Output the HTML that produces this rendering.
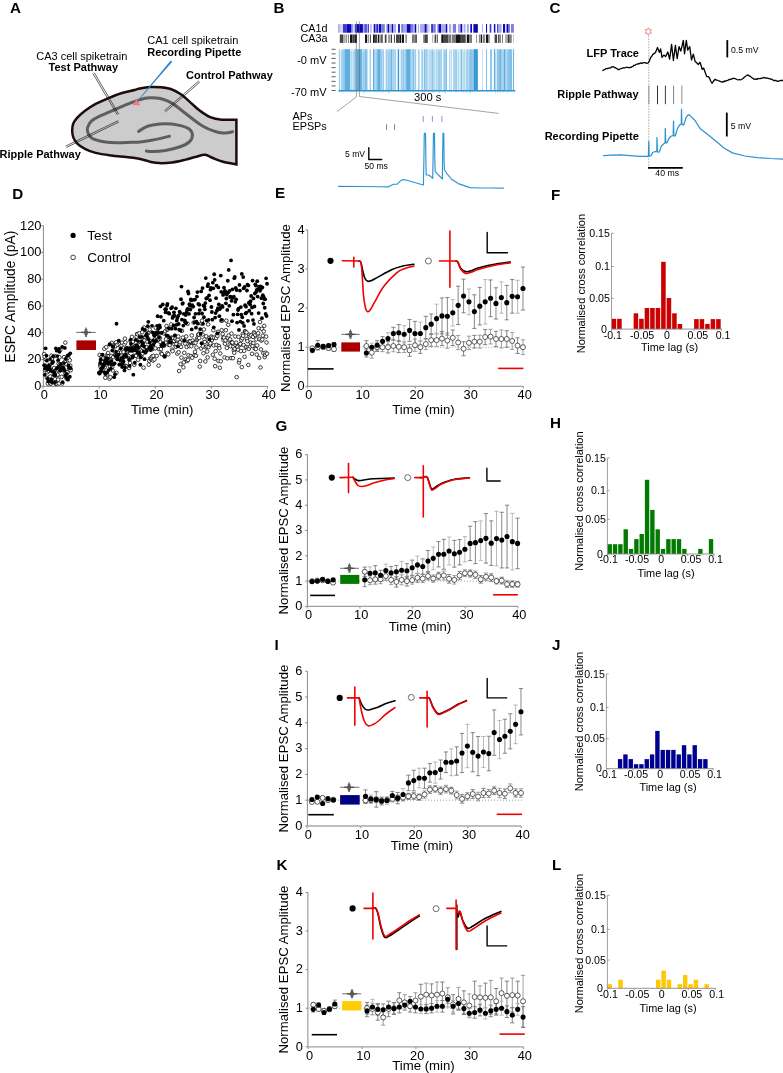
<!DOCTYPE html>
<html><head><meta charset="utf-8"><title>Figure</title>
<style>
html,body{margin:0;padding:0;background:#fff;}
svg{display:block;font-family:"Liberation Sans", sans-serif;-webkit-font-smoothing:antialiased;}
text{-webkit-font-smoothing:antialiased;}
svg{will-change:transform;}
</style></head>
<body>
<svg width="783" height="1073" viewBox="0 0 783 1073">
<rect width="783" height="1073" fill="#fff"/>
<text x="9.9" y="13.1" font-size="15.2" text-anchor="start" font-weight="bold" fill="#000">A</text>
<text x="273.6" y="13.0" font-size="15.2" text-anchor="start" font-weight="bold" fill="#000">B</text>
<text x="549.6" y="13.4" font-size="15.2" text-anchor="start" font-weight="bold" fill="#000">C</text>
<text x="12.2" y="199.4" font-size="15.2" text-anchor="start" font-weight="bold" fill="#000">D</text>
<text x="274.9" y="197.7" font-size="15.2" text-anchor="start" font-weight="bold" fill="#000">E</text>
<text x="551.1" y="199.6" font-size="15.2" text-anchor="start" font-weight="bold" fill="#000">F</text>
<text x="275.5" y="430.5" font-size="15.2" text-anchor="start" font-weight="bold" fill="#000">G</text>
<text x="549.9" y="427.5" font-size="15.2" text-anchor="start" font-weight="bold" fill="#000">H</text>
<text x="274.5" y="649.7" font-size="15.2" text-anchor="start" font-weight="bold" fill="#000">I</text>
<text x="551.9" y="650.4" font-size="15.2" text-anchor="start" font-weight="bold" fill="#000">J</text>
<text x="276.5" y="869.6" font-size="15.2" text-anchor="start" font-weight="bold" fill="#000">K</text>
<text x="552.0" y="869.6" font-size="15.2" text-anchor="start" font-weight="bold" fill="#000">L</text>
<path d="M236.4,119.7 C233.9,119.7 226.1,120.1 221.7,119.7 C217.3,119.3 213.8,118.6 210.2,117.1 C206.6,115.6 203.2,113.1 200.0,110.8 C196.8,108.5 194.3,105.9 191.1,103.1 C187.9,100.3 184.3,96.5 180.9,94.2 C177.5,91.9 174.1,90.2 170.7,89.0 C167.3,87.8 163.8,87.5 160.4,87.2 C157.0,86.9 153.6,86.8 150.2,87.0 C146.8,87.2 142.6,87.9 140.0,88.4 C137.4,88.9 137.6,89.2 134.5,90.0 C131.4,90.8 125.6,91.8 121.2,93.2 C116.8,94.6 112.2,96.5 107.9,98.3 C103.7,100.1 99.5,101.9 95.7,103.9 C92.0,105.9 88.5,108.2 85.4,110.5 C82.3,112.8 79.3,115.5 77.3,117.7 C75.3,119.9 74.0,121.7 73.2,123.8 C72.4,125.9 72.2,128.3 72.2,130.5 C72.2,132.7 72.4,134.9 73.2,137.1 C74.0,139.3 75.3,141.6 77.3,143.6 C79.3,145.6 82.3,147.6 85.4,149.2 C88.5,150.8 91.4,151.8 95.7,152.9 C100.0,154.0 105.9,154.8 111.0,155.5 C116.1,156.2 122.0,156.5 126.3,157.0 C130.6,157.5 133.4,157.8 136.5,158.3 C139.6,158.8 142.7,159.6 145.0,160.2 C147.3,160.8 147.8,161.3 150.2,161.8 C152.6,162.3 155.6,163.0 159.2,163.1 C162.8,163.2 167.7,163.0 171.9,162.5 C176.2,162.0 180.6,160.9 184.7,159.9 C188.8,158.9 192.8,157.5 196.2,156.7 C199.6,155.8 202.3,154.6 205.1,154.8 C207.9,155.0 209.8,156.8 212.8,158.0 C215.8,159.2 219.1,160.7 223.0,161.8 C226.9,162.9 234.2,164.0 236.4,164.4 Z" fill="#cccccc" stroke="#1e0c0c" stroke-width="2.5" stroke-linejoin="miter"/>
<path d="M232.6,131.8 C231.0,132.0 226.1,133.2 223.0,133.1 C219.9,133.0 217.3,132.3 214.1,131.2 C210.9,130.1 207.3,128.6 203.9,126.7 C200.5,124.8 197.2,122.4 193.6,119.7 C190.0,117.0 185.7,113.6 182.1,110.8 C178.5,108.0 175.1,105.0 171.9,103.1 C168.7,101.2 166.2,100.1 163.0,99.2 C159.8,98.3 155.8,98.0 152.8,97.8 C149.8,97.6 148.6,97.4 145.0,98.2 C141.4,99.0 136.2,100.8 131.4,102.6 C126.6,104.4 121.2,106.8 116.1,109.0 C111.0,111.2 104.9,113.7 100.8,115.7 C96.7,117.7 93.8,118.8 91.6,120.8 C89.4,122.8 88.1,125.9 87.5,127.9 C86.9,129.9 87.3,131.3 88.0,133.0 C88.7,134.7 89.5,136.7 91.6,138.1 C93.7,139.5 96.7,140.4 100.8,141.2 C104.9,142.0 111.0,142.5 116.1,142.7 C121.2,142.9 127.4,142.3 131.4,142.2 C135.4,142.1 136.4,142.3 140.0,142.0 C143.6,141.7 147.9,141.0 152.8,140.1 C157.7,139.2 166.6,136.9 169.4,136.3" stroke="#5e5e5e" stroke-width="3.0" fill="none" stroke-linejoin="round" stroke-linecap="round"/>
<path d="M138.6,131.5 C139.7,130.8 142.6,128.4 145.0,127.3 C147.4,126.2 149.4,125.7 152.8,125.1 C156.2,124.5 161.2,123.8 165.5,123.8 C169.8,123.8 174.5,124.3 178.3,125.1 C182.1,125.9 186.2,127.0 188.5,128.6 C190.8,130.2 192.2,132.3 192.4,134.4 C192.6,136.5 191.7,139.4 189.8,141.4 C187.9,143.4 185.0,145.0 180.9,146.5 C176.8,148.0 170.2,149.6 165.5,150.4 C160.8,151.2 156.0,151.5 152.8,151.6 C149.6,151.7 147.5,151.1 146.4,151.0" stroke="#5e5e5e" stroke-width="3.0" fill="none" stroke-linejoin="round" stroke-linecap="round"/>
<line x1="92.81" y1="73.41" x2="117.41" y2="115.01" stroke="#111" stroke-width="0.65"/>
<line x1="94.19" y1="72.59" x2="118.79" y2="114.19" stroke="#111" stroke-width="0.65"/>
<line x1="66.35" y1="147.52" x2="118.95" y2="122.02" stroke="#111" stroke-width="0.65"/>
<line x1="65.65" y1="146.08" x2="118.25" y2="120.58" stroke="#111" stroke-width="0.65"/>
<line x1="198.88" y1="80.80" x2="164.38" y2="110.80" stroke="#111" stroke-width="0.65"/>
<line x1="199.92" y1="82.00" x2="165.42" y2="112.00" stroke="#111" stroke-width="0.65"/>
<polygon points="170.74,60.45 172.26,61.75 138.03,100.99 137.57,100.61" fill="#2a86d0"/>
<polygon points="133.0,105.0 139.8,105.0 136.5,99.2" fill="#f07b84" stroke="#e8707a" stroke-width="0.4"/>
<text x="36.2" y="59.5" font-size="11" text-anchor="start" fill="#000">CA3 cell spiketrain</text>
<text x="48.6" y="71.0" font-size="11" text-anchor="start" font-weight="bold" fill="#000">Test Pathway</text>
<text x="147.2" y="44.0" font-size="11" text-anchor="start" fill="#000">CA1 cell spiketrain</text>
<text x="147.2" y="56.2" font-size="11" text-anchor="start" font-weight="bold" fill="#000">Recording Pipette</text>
<text x="186.0" y="79.0" font-size="11" text-anchor="start" font-weight="bold" fill="#000">Control Pathway</text>
<text x="-0.5" y="158.0" font-size="11" text-anchor="start" font-weight="bold" fill="#000">Ripple Pathway</text>
<text x="327.5" y="31.6" font-size="10.8" text-anchor="end" fill="#000">CA1d</text>
<text x="327.5" y="41.9" font-size="10.8" text-anchor="end" fill="#000">CA3a</text>
<rect x="338.10" y="24.10" width="1.75" height="8.60" fill="#aaaaec"/>
<rect x="339.80" y="24.10" width="3.25" height="8.60" fill="#d4d4f6"/>
<rect x="343.00" y="24.10" width="3.55" height="8.60" fill="#3a3ac8"/>
<rect x="346.50" y="24.10" width="4.55" height="8.60" fill="#0808b8"/>
<rect x="351.00" y="24.10" width="1.85" height="8.60" fill="#7c7ce0"/>
<rect x="352.80" y="24.10" width="2.15" height="8.60" fill="#d4d4f6"/>
<rect x="354.90" y="24.10" width="2.15" height="8.60" fill="#3a3ac8"/>
<rect x="357.00" y="24.10" width="5.95" height="8.60" fill="#0808b8"/>
<rect x="362.90" y="24.10" width="1.15" height="8.60" fill="#aaaaec"/>
<rect x="364.00" y="24.10" width="1.45" height="8.60" fill="#7c7ce0"/>
<rect x="365.40" y="24.10" width="1.35" height="8.60" fill="#0808b8"/>
<rect x="366.70" y="24.10" width="1.45" height="8.60" fill="#aaaaec"/>
<rect x="368.10" y="24.10" width="0.75" height="8.60" fill="#0808b8"/>
<rect x="370.20" y="24.10" width="1.45" height="8.60" fill="#aaaaec"/>
<rect x="373.70" y="24.10" width="1.45" height="8.60" fill="#0808b8"/>
<rect x="375.10" y="24.10" width="1.45" height="8.60" fill="#7c7ce0"/>
<rect x="376.50" y="24.10" width="1.45" height="8.60" fill="#0808b8"/>
<rect x="377.90" y="24.10" width="1.15" height="8.60" fill="#aaaaec"/>
<rect x="379.00" y="24.10" width="2.15" height="8.60" fill="#0808b8"/>
<rect x="381.10" y="24.10" width="3.75" height="8.60" fill="#7c7ce0"/>
<rect x="386.20" y="24.10" width="1.45" height="8.60" fill="#aaaaec"/>
<rect x="387.60" y="24.10" width="1.45" height="8.60" fill="#0808b8"/>
<rect x="389.00" y="24.10" width="2.85" height="8.60" fill="#aaaaec"/>
<rect x="391.80" y="24.10" width="1.45" height="8.60" fill="#0808b8"/>
<rect x="393.20" y="24.10" width="2.85" height="8.60" fill="#aaaaec"/>
<rect x="398.10" y="24.10" width="1.75" height="8.60" fill="#0808b8"/>
<rect x="401.20" y="24.10" width="2.55" height="8.60" fill="#7c7ce0"/>
<rect x="403.70" y="24.10" width="3.15" height="8.60" fill="#aaaaec"/>
<rect x="406.80" y="24.10" width="3.95" height="8.60" fill="#0808b8"/>
<rect x="410.70" y="24.10" width="2.45" height="8.60" fill="#7c7ce0"/>
<rect x="413.10" y="24.10" width="1.75" height="8.60" fill="#aaaaec"/>
<rect x="414.80" y="24.10" width="1.45" height="8.60" fill="#0808b8"/>
<rect x="418.00" y="24.10" width="1.05" height="8.60" fill="#aaaaec"/>
<rect x="420.10" y="24.10" width="4.55" height="8.60" fill="#aaaaec"/>
<rect x="424.60" y="24.10" width="2.15" height="8.60" fill="#0808b8"/>
<rect x="426.70" y="24.10" width="1.35" height="8.60" fill="#aaaaec"/>
<rect x="428.00" y="24.10" width="1.75" height="8.60" fill="#d4d4f6"/>
<rect x="431.10" y="24.10" width="2.15" height="8.60" fill="#3a3ac8"/>
<rect x="433.20" y="24.10" width="2.55" height="8.60" fill="#7c7ce0"/>
<rect x="437.10" y="24.10" width="1.45" height="8.60" fill="#aaaaec"/>
<rect x="438.50" y="24.10" width="2.85" height="8.60" fill="#0808b8"/>
<rect x="441.30" y="24.10" width="4.55" height="8.60" fill="#aaaaec"/>
<rect x="445.80" y="24.10" width="1.45" height="8.60" fill="#0808b8"/>
<rect x="449.00" y="24.10" width="2.15" height="8.60" fill="#aaaaec"/>
<rect x="452.80" y="24.10" width="3.25" height="8.60" fill="#7c7ce0"/>
<rect x="458.00" y="24.10" width="2.55" height="8.60" fill="#aaaaec"/>
<rect x="460.50" y="24.10" width="1.75" height="8.60" fill="#0808b8"/>
<rect x="463.60" y="24.10" width="1.85" height="8.60" fill="#aaaaec"/>
<rect x="466.80" y="24.10" width="2.15" height="8.60" fill="#aaaaec"/>
<rect x="470.30" y="24.10" width="1.75" height="8.60" fill="#0808b8"/>
<rect x="473.40" y="24.10" width="4.45" height="8.60" fill="#0808b8"/>
<rect x="482.00" y="24.10" width="0.95" height="8.60" fill="#aaaaec"/>
<rect x="486.00" y="24.10" width="1.05" height="8.60" fill="#0808b8"/>
<rect x="489.70" y="24.10" width="1.65" height="8.60" fill="#3a3ac8"/>
<rect x="493.90" y="24.10" width="1.45" height="8.60" fill="#0808b8"/>
<rect x="497.10" y="24.10" width="1.45" height="8.60" fill="#3a3ac8"/>
<rect x="498.50" y="24.10" width="3.15" height="8.60" fill="#aaaaec"/>
<rect x="503.00" y="24.10" width="2.15" height="8.60" fill="#0808b8"/>
<rect x="506.50" y="24.10" width="2.15" height="8.60" fill="#0808b8"/>
<rect x="508.60" y="24.10" width="1.45" height="8.60" fill="#7c7ce0"/>
<rect x="511.00" y="24.10" width="2.85" height="8.60" fill="#7c7ce0"/>
<rect x="339.80" y="34.50" width="3.20" height="8.40" fill="#454545"/>
<rect x="343.00" y="34.50" width="2.40" height="8.40" fill="#ababab"/>
<rect x="345.80" y="34.50" width="1.00" height="8.40" fill="#7a7a7a"/>
<rect x="347.90" y="34.50" width="1.00" height="8.40" fill="#7a7a7a"/>
<rect x="350.00" y="34.50" width="2.40" height="8.40" fill="#151515"/>
<rect x="352.40" y="34.50" width="2.10" height="8.40" fill="#454545"/>
<rect x="354.50" y="34.50" width="2.50" height="8.40" fill="#151515"/>
<rect x="365.00" y="34.50" width="2.10" height="8.40" fill="#151515"/>
<rect x="367.80" y="34.50" width="1.00" height="8.40" fill="#7a7a7a"/>
<rect x="369.90" y="34.50" width="1.00" height="8.40" fill="#454545"/>
<rect x="373.00" y="34.50" width="1.80" height="8.40" fill="#151515"/>
<rect x="374.80" y="34.50" width="2.40" height="8.40" fill="#454545"/>
<rect x="377.90" y="34.50" width="1.10" height="8.40" fill="#151515"/>
<rect x="379.30" y="34.50" width="1.40" height="8.40" fill="#7a7a7a"/>
<rect x="381.10" y="34.50" width="1.40" height="8.40" fill="#454545"/>
<rect x="382.00" y="34.50" width="1.00" height="8.40" fill="#7a7a7a"/>
<rect x="384.80" y="34.50" width="1.70" height="8.40" fill="#454545"/>
<rect x="388.30" y="34.50" width="1.40" height="8.40" fill="#7a7a7a"/>
<rect x="390.70" y="34.50" width="1.10" height="8.40" fill="#151515"/>
<rect x="393.90" y="34.50" width="1.00" height="8.40" fill="#454545"/>
<rect x="396.00" y="34.50" width="3.50" height="8.40" fill="#454545"/>
<rect x="399.50" y="34.50" width="1.70" height="8.40" fill="#151515"/>
<rect x="401.90" y="34.50" width="2.10" height="8.40" fill="#151515"/>
<rect x="405.40" y="34.50" width="1.40" height="8.40" fill="#7a7a7a"/>
<rect x="412.00" y="34.50" width="2.80" height="8.40" fill="#7a7a7a"/>
<rect x="415.20" y="34.50" width="1.70" height="8.40" fill="#454545"/>
<rect x="423.20" y="34.50" width="1.80" height="8.40" fill="#7a7a7a"/>
<rect x="425.00" y="34.50" width="2.80" height="8.40" fill="#454545"/>
<rect x="432.20" y="34.50" width="1.00" height="8.40" fill="#ababab"/>
<rect x="434.60" y="34.50" width="1.40" height="8.40" fill="#454545"/>
<rect x="436.70" y="34.50" width="1.10" height="8.40" fill="#454545"/>
<rect x="441.30" y="34.50" width="1.70" height="8.40" fill="#151515"/>
<rect x="443.00" y="34.50" width="5.30" height="8.40" fill="#454545"/>
<rect x="448.30" y="34.50" width="2.80" height="8.40" fill="#7a7a7a"/>
<rect x="451.80" y="34.50" width="4.20" height="8.40" fill="#7a7a7a"/>
<rect x="456.00" y="34.50" width="4.80" height="8.40" fill="#151515"/>
<rect x="460.80" y="34.50" width="4.90" height="8.40" fill="#454545"/>
<rect x="466.80" y="34.50" width="2.40" height="8.40" fill="#151515"/>
<rect x="469.20" y="34.50" width="2.80" height="8.40" fill="#7a7a7a"/>
<rect x="476.10" y="34.50" width="0.80" height="8.40" fill="#7a7a7a"/>
<rect x="478.90" y="34.50" width="1.00" height="8.40" fill="#7a7a7a"/>
<rect x="480.60" y="34.50" width="1.40" height="8.40" fill="#151515"/>
<rect x="482.70" y="34.50" width="2.10" height="8.40" fill="#7a7a7a"/>
<rect x="485.90" y="34.50" width="2.40" height="8.40" fill="#151515"/>
<rect x="488.30" y="34.50" width="1.40" height="8.40" fill="#7a7a7a"/>
<rect x="494.60" y="34.50" width="2.50" height="8.40" fill="#454545"/>
<rect x="498.10" y="34.50" width="1.10" height="8.40" fill="#454545"/>
<rect x="499.20" y="34.50" width="1.70" height="8.40" fill="#7a7a7a"/>
<rect x="502.00" y="34.50" width="1.00" height="8.40" fill="#7a7a7a"/>
<rect x="505.10" y="34.50" width="2.80" height="8.40" fill="#ababab"/>
<rect x="507.90" y="34.50" width="1.00" height="8.40" fill="#151515"/>
<rect x="508.90" y="34.50" width="2.80" height="8.40" fill="#7a7a7a"/>
<rect x="513.10" y="34.50" width="0.70" height="8.40" fill="#ababab"/>
<line x1="331.50" y1="49.30" x2="335.60" y2="49.30" stroke="#333" stroke-width="0.8"/>
<line x1="331.50" y1="53.88" x2="335.60" y2="53.88" stroke="#333" stroke-width="0.8"/>
<line x1="331.50" y1="58.46" x2="335.60" y2="58.46" stroke="#333" stroke-width="0.8"/>
<line x1="331.50" y1="63.04" x2="335.60" y2="63.04" stroke="#333" stroke-width="0.8"/>
<line x1="331.50" y1="67.62" x2="335.60" y2="67.62" stroke="#333" stroke-width="0.8"/>
<line x1="331.50" y1="72.20" x2="335.60" y2="72.20" stroke="#333" stroke-width="0.8"/>
<line x1="331.50" y1="76.78" x2="335.60" y2="76.78" stroke="#333" stroke-width="0.8"/>
<line x1="331.50" y1="81.36" x2="335.60" y2="81.36" stroke="#333" stroke-width="0.8"/>
<line x1="331.50" y1="85.94" x2="335.60" y2="85.94" stroke="#333" stroke-width="0.8"/>
<line x1="331.50" y1="90.52" x2="335.60" y2="90.52" stroke="#333" stroke-width="0.8"/>
<text x="326.5" y="63.9" font-size="11" text-anchor="end" fill="#000">-0 mV</text>
<text x="326.5" y="96.3" font-size="11" text-anchor="end" fill="#000">-70 mV</text>
<rect x="338.80" y="49.20" width="1.45" height="41.50" fill="#b5d9f0"/>
<rect x="340.20" y="49.20" width="1.45" height="41.50" fill="#d9edf8"/>
<rect x="341.60" y="49.20" width="1.75" height="41.50" fill="#b5d9f0"/>
<rect x="343.30" y="49.20" width="1.45" height="41.50" fill="#8ec6ea"/>
<rect x="344.70" y="49.20" width="5.35" height="41.50" fill="#5eafe0"/>
<rect x="350.00" y="49.20" width="4.25" height="41.50" fill="#d9edf8"/>
<rect x="354.20" y="49.20" width="2.15" height="41.50" fill="#8ec6ea"/>
<rect x="356.30" y="49.20" width="0.75" height="41.50" fill="#b5d9f0"/>
<rect x="357.00" y="49.20" width="4.95" height="41.50" fill="#5eafe0"/>
<rect x="361.90" y="49.20" width="2.85" height="41.50" fill="#b5d9f0"/>
<rect x="364.70" y="49.20" width="2.75" height="41.50" fill="#8ec6ea"/>
<rect x="369.50" y="49.20" width="1.45" height="41.50" fill="#b5d9f0"/>
<rect x="373.00" y="49.20" width="1.15" height="41.50" fill="#5eafe0"/>
<rect x="374.10" y="49.20" width="2.15" height="41.50" fill="#b5d9f0"/>
<rect x="376.20" y="49.20" width="1.75" height="41.50" fill="#8ec6ea"/>
<rect x="377.90" y="49.20" width="2.85" height="41.50" fill="#5eafe0"/>
<rect x="380.70" y="49.20" width="3.45" height="41.50" fill="#b5d9f0"/>
<rect x="385.50" y="49.20" width="5.65" height="41.50" fill="#b5d9f0"/>
<rect x="391.10" y="49.20" width="1.05" height="41.50" fill="#5eafe0"/>
<rect x="392.10" y="49.20" width="3.95" height="41.50" fill="#b5d9f0"/>
<rect x="397.70" y="49.20" width="1.45" height="41.50" fill="#3898d4"/>
<rect x="400.50" y="49.20" width="5.65" height="41.50" fill="#b5d9f0"/>
<rect x="406.10" y="49.20" width="4.65" height="41.50" fill="#5eafe0"/>
<rect x="410.70" y="49.20" width="2.05" height="41.50" fill="#b5d9f0"/>
<rect x="412.70" y="49.20" width="1.45" height="41.50" fill="#8ec6ea"/>
<rect x="414.10" y="49.20" width="2.15" height="41.50" fill="#b5d9f0"/>
<rect x="418.00" y="49.20" width="1.75" height="41.50" fill="#b5d9f0"/>
<rect x="421.10" y="49.20" width="2.15" height="41.50" fill="#b5d9f0"/>
<rect x="423.90" y="49.20" width="1.85" height="41.50" fill="#8ec6ea"/>
<rect x="425.70" y="49.20" width="2.35" height="41.50" fill="#b5d9f0"/>
<rect x="428.00" y="49.20" width="3.55" height="41.50" fill="#d9edf8"/>
<rect x="431.50" y="49.20" width="1.45" height="41.50" fill="#8ec6ea"/>
<rect x="432.90" y="49.20" width="4.25" height="41.50" fill="#d9edf8"/>
<rect x="437.10" y="49.20" width="4.95" height="41.50" fill="#b5d9f0"/>
<rect x="443.00" y="49.20" width="3.25" height="41.50" fill="#b5d9f0"/>
<rect x="446.20" y="49.20" width="0.75" height="41.50" fill="#5eafe0"/>
<rect x="449.00" y="49.20" width="2.85" height="41.50" fill="#d9edf8"/>
<rect x="453.20" y="49.20" width="4.25" height="41.50" fill="#b5d9f0"/>
<rect x="457.40" y="49.20" width="3.85" height="41.50" fill="#d9edf8"/>
<rect x="461.20" y="49.20" width="1.05" height="41.50" fill="#5eafe0"/>
<rect x="462.20" y="49.20" width="4.25" height="41.50" fill="#d9edf8"/>
<rect x="466.40" y="49.20" width="3.55" height="41.50" fill="#b5d9f0"/>
<rect x="469.90" y="49.20" width="2.85" height="41.50" fill="#8ec6ea"/>
<rect x="473.40" y="49.20" width="4.45" height="41.50" fill="#3898d4"/>
<rect x="482.00" y="49.20" width="0.75" height="41.50" fill="#b5d9f0"/>
<rect x="486.20" y="49.20" width="0.75" height="41.50" fill="#5eafe0"/>
<rect x="490.10" y="49.20" width="1.75" height="41.50" fill="#8ec6ea"/>
<rect x="493.90" y="49.20" width="1.15" height="41.50" fill="#5eafe0"/>
<rect x="495.00" y="49.20" width="2.15" height="41.50" fill="#d9edf8"/>
<rect x="497.10" y="49.20" width="2.85" height="41.50" fill="#8ec6ea"/>
<rect x="499.90" y="49.20" width="1.05" height="41.50" fill="#5eafe0"/>
<rect x="500.90" y="49.20" width="3.15" height="41.50" fill="#b5d9f0"/>
<rect x="504.00" y="49.20" width="1.15" height="41.50" fill="#5eafe0"/>
<rect x="505.10" y="49.20" width="2.85" height="41.50" fill="#b5d9f0"/>
<rect x="507.90" y="49.20" width="4.25" height="41.50" fill="#8ec6ea"/>
<rect x="513.10" y="49.20" width="0.95" height="41.50" fill="#5eafe0"/>
<rect x="339.46" y="50.88" width="0.35" height="41.50" fill="#6fb8e4"/>
<rect x="341.26" y="50.60" width="0.35" height="41.50" fill="#6fb8e4"/>
<rect x="342.46" y="50.96" width="0.35" height="41.50" fill="#6fb8e4"/>
<rect x="343.74" y="50.74" width="0.35" height="41.50" fill="#6fb8e4"/>
<rect x="350.81" y="51.58" width="0.35" height="41.50" fill="#6fb8e4"/>
<rect x="351.76" y="50.11" width="0.35" height="41.50" fill="#6fb8e4"/>
<rect x="353.16" y="51.63" width="0.35" height="41.50" fill="#6fb8e4"/>
<rect x="355.49" y="49.33" width="0.35" height="41.50" fill="#6fb8e4"/>
<rect x="363.01" y="52.09" width="0.35" height="41.50" fill="#6fb8e4"/>
<rect x="364.13" y="51.05" width="0.35" height="41.50" fill="#6fb8e4"/>
<rect x="365.10" y="49.25" width="0.35" height="41.50" fill="#6fb8e4"/>
<rect x="366.75" y="49.38" width="0.35" height="41.50" fill="#6fb8e4"/>
<rect x="369.94" y="49.93" width="0.35" height="41.50" fill="#6fb8e4"/>
<rect x="374.56" y="50.59" width="0.35" height="41.50" fill="#6fb8e4"/>
<rect x="376.99" y="51.73" width="0.35" height="41.50" fill="#6fb8e4"/>
<rect x="381.57" y="51.12" width="0.35" height="41.50" fill="#6fb8e4"/>
<rect x="383.25" y="51.19" width="0.35" height="41.50" fill="#6fb8e4"/>
<rect x="386.16" y="50.03" width="0.35" height="41.50" fill="#6fb8e4"/>
<rect x="388.02" y="52.19" width="0.35" height="41.50" fill="#6fb8e4"/>
<rect x="389.29" y="51.32" width="0.35" height="41.50" fill="#6fb8e4"/>
<rect x="390.24" y="49.89" width="0.35" height="41.50" fill="#6fb8e4"/>
<rect x="392.83" y="49.41" width="0.35" height="41.50" fill="#6fb8e4"/>
<rect x="395.34" y="50.40" width="0.35" height="41.50" fill="#6fb8e4"/>
<rect x="401.49" y="50.36" width="0.35" height="41.50" fill="#6fb8e4"/>
<rect x="402.98" y="51.74" width="0.35" height="41.50" fill="#6fb8e4"/>
<rect x="403.58" y="49.83" width="0.35" height="41.50" fill="#6fb8e4"/>
<rect x="405.74" y="50.61" width="0.35" height="41.50" fill="#6fb8e4"/>
<rect x="412.28" y="50.39" width="0.35" height="41.50" fill="#6fb8e4"/>
<rect x="413.04" y="51.09" width="0.35" height="41.50" fill="#6fb8e4"/>
<rect x="415.50" y="50.01" width="0.35" height="41.50" fill="#6fb8e4"/>
<rect x="418.43" y="50.20" width="0.35" height="41.50" fill="#6fb8e4"/>
<rect x="422.73" y="51.47" width="0.35" height="41.50" fill="#6fb8e4"/>
<rect x="424.39" y="49.94" width="0.35" height="41.50" fill="#6fb8e4"/>
<rect x="426.30" y="49.38" width="0.35" height="41.50" fill="#6fb8e4"/>
<rect x="429.19" y="49.73" width="0.35" height="41.50" fill="#6fb8e4"/>
<rect x="430.69" y="50.54" width="0.35" height="41.50" fill="#6fb8e4"/>
<rect x="431.94" y="51.40" width="0.35" height="41.50" fill="#6fb8e4"/>
<rect x="433.29" y="51.13" width="0.35" height="41.50" fill="#6fb8e4"/>
<rect x="434.68" y="50.46" width="0.35" height="41.50" fill="#6fb8e4"/>
<rect x="436.16" y="50.01" width="0.35" height="41.50" fill="#6fb8e4"/>
<rect x="438.38" y="51.61" width="0.35" height="41.50" fill="#6fb8e4"/>
<rect x="439.36" y="51.85" width="0.35" height="41.50" fill="#6fb8e4"/>
<rect x="440.90" y="50.38" width="0.35" height="41.50" fill="#6fb8e4"/>
<rect x="444.14" y="51.13" width="0.35" height="41.50" fill="#6fb8e4"/>
<rect x="445.02" y="52.17" width="0.35" height="41.50" fill="#6fb8e4"/>
<rect x="449.46" y="49.97" width="0.35" height="41.50" fill="#6fb8e4"/>
<rect x="451.33" y="50.19" width="0.35" height="41.50" fill="#6fb8e4"/>
<rect x="453.73" y="49.42" width="0.35" height="41.50" fill="#6fb8e4"/>
<rect x="454.96" y="50.95" width="0.35" height="41.50" fill="#6fb8e4"/>
<rect x="456.48" y="51.00" width="0.35" height="41.50" fill="#6fb8e4"/>
<rect x="458.20" y="50.56" width="0.35" height="41.50" fill="#6fb8e4"/>
<rect x="460.77" y="50.65" width="0.35" height="41.50" fill="#6fb8e4"/>
<rect x="462.96" y="51.80" width="0.35" height="41.50" fill="#6fb8e4"/>
<rect x="464.03" y="49.66" width="0.35" height="41.50" fill="#6fb8e4"/>
<rect x="466.04" y="51.65" width="0.35" height="41.50" fill="#6fb8e4"/>
<rect x="467.01" y="49.77" width="0.35" height="41.50" fill="#6fb8e4"/>
<rect x="469.28" y="52.02" width="0.35" height="41.50" fill="#6fb8e4"/>
<rect x="470.35" y="52.05" width="0.35" height="41.50" fill="#6fb8e4"/>
<rect x="472.32" y="51.01" width="0.35" height="41.50" fill="#6fb8e4"/>
<rect x="490.87" y="49.51" width="0.35" height="41.50" fill="#6fb8e4"/>
<rect x="495.47" y="52.09" width="0.35" height="41.50" fill="#6fb8e4"/>
<rect x="497.58" y="51.31" width="0.35" height="41.50" fill="#6fb8e4"/>
<rect x="499.00" y="51.67" width="0.35" height="41.50" fill="#6fb8e4"/>
<rect x="501.76" y="50.08" width="0.35" height="41.50" fill="#6fb8e4"/>
<rect x="502.92" y="51.36" width="0.35" height="41.50" fill="#6fb8e4"/>
<rect x="505.44" y="49.89" width="0.35" height="41.50" fill="#6fb8e4"/>
<rect x="507.25" y="51.76" width="0.35" height="41.50" fill="#6fb8e4"/>
<rect x="508.70" y="50.04" width="0.35" height="41.50" fill="#6fb8e4"/>
<rect x="510.35" y="49.81" width="0.35" height="41.50" fill="#6fb8e4"/>
<rect x="510.99" y="50.01" width="0.35" height="41.50" fill="#6fb8e4"/>
<line x1="338.50" y1="90.70" x2="515.30" y2="90.70" stroke="#2c93d1" stroke-width="1.6"/>
<line x1="356.40" y1="21.30" x2="356.40" y2="97.00" stroke="#666" stroke-width="0.6"/>
<line x1="359.40" y1="21.30" x2="359.40" y2="96.50" stroke="#666" stroke-width="0.6"/>
<line x1="356.40" y1="97.00" x2="336.80" y2="111.70" stroke="#666" stroke-width="0.6"/>
<line x1="359.40" y1="96.50" x2="498.60" y2="113.40" stroke="#666" stroke-width="0.6"/>
<text x="414.0" y="101.1" font-size="11.2" text-anchor="start" fill="#000">300 s</text>
<text x="292.5" y="119.8" font-size="10.8" text-anchor="start" fill="#000">APs</text>
<text x="292.5" y="130.0" font-size="10.8" text-anchor="start" fill="#000">EPSPs</text>
<line x1="423.20" y1="116.10" x2="423.20" y2="121.90" stroke="#8080d8" stroke-width="0.9"/>
<line x1="432.40" y1="116.10" x2="432.40" y2="121.90" stroke="#8080d8" stroke-width="0.9"/>
<line x1="441.90" y1="116.10" x2="441.90" y2="121.90" stroke="#8080d8" stroke-width="0.9"/>
<line x1="386.50" y1="124.30" x2="386.50" y2="129.90" stroke="#777" stroke-width="0.9"/>
<line x1="394.50" y1="124.30" x2="394.50" y2="129.90" stroke="#777" stroke-width="0.9"/>
<polyline points="338.5,186.4 360.0,186.5 380.0,186.8 388.6,186.8 391.5,185.3 393.8,184.2 397.2,184.2 400.7,180.7 403.0,179.6 407.0,180.2 414.5,182.5 423.4,185.0 423.9,160.0 424.3,133.3 425.5,133.3 425.9,160.0 426.2,175.0 428.9,175.0 432.7,178.4 433.2,150.0 433.5,133.3 434.5,133.3 434.8,160.0 435.2,171.6 442.4,179.0 442.7,150.0 443.0,133.3 443.8,133.3 444.1,160.0 444.4,169.8 446.7,173.3 451.3,179.0 458.2,183.6 470.0,187.6 480.0,188.0 490.0,188.0 503.5,188.1" stroke="#2c93d1" stroke-width="1.15" fill="none" stroke-linejoin="round" stroke-linecap="round"/>
<text x="345.0" y="157.0" font-size="8.6" text-anchor="start" fill="#000">5 mV</text>
<polyline points="368.8,147.6 368.8,159.5 381.7,159.5" stroke="#000" stroke-width="1.4" fill="none" stroke-linejoin="round" stroke-linecap="round"/>
<text x="364.5" y="168.7" font-size="8.6" text-anchor="start" fill="#000">50 ms</text>
<polygon points="648.30,27.80 649.30,29.67 651.42,29.60 650.30,31.40 651.42,33.20 649.30,33.13 648.30,35.00 647.30,33.13 645.18,33.20 646.30,31.40 645.18,29.60 647.30,29.67" fill="#fff" stroke="#f06a6a" stroke-width="0.8"/>
<line x1="648.80" y1="35.50" x2="648.80" y2="167.00" stroke="#888" stroke-width="0.7" stroke-dasharray="1.6,1.2"/>
<text x="639.0" y="57.0" font-size="11" text-anchor="end" font-weight="bold" fill="#000">LFP Trace</text>
<text x="638.5" y="98.1" font-size="11" text-anchor="end" font-weight="bold" fill="#000">Ripple Pathway</text>
<text x="638.8" y="139.9" font-size="11" text-anchor="end" font-weight="bold" fill="#000">Recording Pipette</text>
<polyline points="602.8,70.5 603.9,69.9 604.9,69.4 606.0,68.5 607.0,68.6 608.0,68.5 609.0,68.0 609.9,67.9 610.8,67.8 611.8,66.8 612.7,66.9 613.6,66.7 614.8,67.7 616.0,68.0 617.0,68.7 617.9,69.5 618.9,69.7 619.9,68.9 621.0,68.7 622.0,68.3 623.0,67.9 624.0,67.9 625.0,67.8 626.0,67.5 627.0,67.2 628.0,67.5 629.0,67.8 630.0,67.3 631.0,67.4 632.0,66.7 633.0,66.4 634.0,65.3 635.0,65.3 636.0,64.5 637.0,64.0 638.0,64.1 639.0,63.5 640.0,63.5 641.0,62.9 642.0,63.5 643.0,62.8 644.0,62.6 645.0,62.7 646.8,63.4 647.9,63.0 649.0,61.8 650.8,57.3 651.7,56.4 652.6,54.8 653.5,53.8 654.6,53.3 655.7,52.0 657.5,47.5 659.3,52.4 660.6,48.9 662.0,57.3 663.8,55.1 664.7,55.8 665.6,56.5 666.7,54.4 667.8,52.0 668.7,55.3 669.6,59.1 670.6,52.1 671.6,44.4 673.4,60.5 674.4,53.1 675.4,45.3 676.3,52.4 677.2,58.7 679.0,46.6 680.8,51.1 682.0,46.1 683.3,40.4 684.5,53.8 686.3,40.4 687.7,50.2 688.7,48.2 689.7,46.6 691.5,60.0 693.3,54.2 694.2,57.7 695.1,61.4 696.1,62.2 697.2,63.2 698.2,64.5 700.0,62.3 701.1,65.5 702.2,69.4 703.6,68.1 704.6,70.8 705.7,73.8 706.7,76.6 708.5,76.6 709.7,78.4 710.8,81.2 712.0,83.3 713.0,81.8 714.0,80.5 715.0,79.3 716.0,80.0 717.0,80.1 718.0,80.5 719.0,80.8 720.1,81.3 721.2,81.9 722.2,82.1 723.2,81.4 724.1,81.8 725.1,80.8 726.0,81.0 727.0,80.5 728.0,80.4 729.0,79.4 730.0,79.7 731.1,79.0 732.1,78.8 733.1,78.4 734.1,78.3 735.0,78.6 736.0,79.0 737.0,79.5 738.1,80.0 739.3,79.5 740.4,79.9 741.3,79.5 742.2,79.0 743.1,78.5 744.0,77.5 744.9,76.7 745.9,76.0 746.8,75.5 747.7,74.8 748.8,75.8 749.9,76.0 751.0,77.0 752.0,77.8 753.0,78.4 754.0,79.1 755.0,79.4 756.0,78.8 757.0,79.4 758.0,78.5 759.0,78.6 760.0,78.5 761.0,78.3 762.1,78.3 763.2,77.6 764.2,77.5 765.2,78.1 766.1,78.0 767.1,78.1 768.1,78.4 769.0,78.5 770.0,79.0 771.0,79.0 772.0,79.3 773.0,80.1 774.0,80.7 775.0,80.3 776.0,80.5 777.0,81.2 778.0,81.4 779.0,80.9 780.0,80.7 781.0,80.4 782.0,80.5 783.0,80.3" stroke="#000" stroke-width="1.3" fill="none" stroke-linejoin="round" stroke-linecap="round"/>
<line x1="727.30" y1="40.10" x2="727.30" y2="57.40" stroke="#000" stroke-width="1.8"/>
<text x="731.0" y="53.2" font-size="8.7" text-anchor="start" fill="#000">0.5 mV</text>
<line x1="648.90" y1="85.60" x2="648.90" y2="104.20" stroke="#888" stroke-width="0.95"/>
<line x1="657.50" y1="85.60" x2="657.50" y2="104.20" stroke="#222" stroke-width="0.95"/>
<line x1="665.40" y1="85.60" x2="665.40" y2="104.20" stroke="#333" stroke-width="0.95"/>
<line x1="673.60" y1="85.60" x2="673.60" y2="104.20" stroke="#777" stroke-width="0.95"/>
<line x1="681.80" y1="85.60" x2="681.80" y2="104.20" stroke="#888" stroke-width="0.95"/>
<polyline points="603.6,155.6 612.0,155.2 620.7,154.9 630.0,155.6 640.0,156.3 648.4,156.3 648.8,141.4 649.1,156.0 651.1,155.6 652.6,152.5 655.3,151.5 656.8,151.7 657.0,137.5 657.4,151.9 659.2,152.1 661.5,146.0 663.8,143.7 665.1,142.9 665.3,128.4 665.7,142.9 666.8,142.9 669.1,138.3 671.4,136.0 673.2,135.6 673.5,121.1 673.9,135.8 675.2,136.0 677.5,128.4 679.8,124.9 681.3,124.1 681.5,109.2 681.9,124.3 683.7,125.1 686.0,117.6 688.3,114.6 690.6,116.1 695.0,120.5 700.0,128.4 709.0,135.5 716.9,142.1 724.0,148.0 732.4,152.9 745.0,156.0 757.3,157.6 770.0,158.5 783.0,159.1" stroke="#2c93d1" stroke-width="1.25" fill="none" stroke-linejoin="round" stroke-linecap="round"/>
<line x1="726.80" y1="112.60" x2="726.80" y2="136.50" stroke="#000" stroke-width="1.8"/>
<text x="730.8" y="129.0" font-size="8.7" text-anchor="start" fill="#000">5 mV</text>
<line x1="648.00" y1="167.80" x2="682.80" y2="167.80" stroke="#000" stroke-width="1.8"/>
<text x="667.2" y="176.2" font-size="8.7" text-anchor="middle" fill="#000">40 ms</text>
<line x1="43.40" y1="225.60" x2="43.40" y2="386.20" stroke="#7a7a7a" stroke-width="0.9"/>
<line x1="41.20" y1="386.20" x2="43.40" y2="386.20" stroke="#7a7a7a" stroke-width="0.9"/>
<text x="41.4" y="390.0" font-size="12.8" text-anchor="end" fill="#000">0</text>
<line x1="41.20" y1="359.45" x2="43.40" y2="359.45" stroke="#7a7a7a" stroke-width="0.9"/>
<text x="41.4" y="363.3" font-size="12.8" text-anchor="end" fill="#000">20</text>
<line x1="41.20" y1="332.70" x2="43.40" y2="332.70" stroke="#7a7a7a" stroke-width="0.9"/>
<text x="41.4" y="336.5" font-size="12.8" text-anchor="end" fill="#000">40</text>
<line x1="41.20" y1="305.95" x2="43.40" y2="305.95" stroke="#7a7a7a" stroke-width="0.9"/>
<text x="41.4" y="309.8" font-size="12.8" text-anchor="end" fill="#000">60</text>
<line x1="41.20" y1="279.20" x2="43.40" y2="279.20" stroke="#7a7a7a" stroke-width="0.9"/>
<text x="41.4" y="283.0" font-size="12.8" text-anchor="end" fill="#000">80</text>
<line x1="41.20" y1="252.45" x2="43.40" y2="252.45" stroke="#7a7a7a" stroke-width="0.9"/>
<text x="41.4" y="256.3" font-size="12.8" text-anchor="end" fill="#000">100</text>
<line x1="41.20" y1="225.70" x2="43.40" y2="225.70" stroke="#7a7a7a" stroke-width="0.9"/>
<text x="41.4" y="229.5" font-size="12.8" text-anchor="end" fill="#000">120</text>
<line x1="43.40" y1="386.40" x2="267.50" y2="386.40" stroke="#7a7a7a" stroke-width="0.9"/>
<line x1="43.10" y1="386.40" x2="43.10" y2="388.60" stroke="#7a7a7a" stroke-width="0.9"/>
<text x="44.4" y="399.4" font-size="12.8" text-anchor="middle" fill="#000">0</text>
<line x1="99.20" y1="386.40" x2="99.20" y2="388.60" stroke="#7a7a7a" stroke-width="0.9"/>
<text x="100.5" y="399.4" font-size="12.8" text-anchor="middle" fill="#000">10</text>
<line x1="155.30" y1="386.40" x2="155.30" y2="388.60" stroke="#7a7a7a" stroke-width="0.9"/>
<text x="156.6" y="399.4" font-size="12.8" text-anchor="middle" fill="#000">20</text>
<line x1="211.40" y1="386.40" x2="211.40" y2="388.60" stroke="#7a7a7a" stroke-width="0.9"/>
<text x="212.7" y="399.4" font-size="12.8" text-anchor="middle" fill="#000">30</text>
<line x1="267.50" y1="386.40" x2="267.50" y2="388.60" stroke="#7a7a7a" stroke-width="0.9"/>
<text x="268.8" y="399.4" font-size="12.8" text-anchor="middle" fill="#000">40</text>
<text x="15.0" y="296.6" font-size="13.8" text-anchor="middle" fill="#000" transform="rotate(-90 15.0 296.6)">ESPC Amplitude (pA)</text>
<text x="162.2" y="413.5" font-size="13.2" text-anchor="middle" fill="#000">Time (min)</text>
<circle cx="44.22" cy="354.10" r="1.8" fill="#fff" stroke="#000" stroke-width="0.75"/>
<circle cx="44.67" cy="356.86" r="1.8" fill="#fff" stroke="#000" stroke-width="0.75"/>
<circle cx="45.12" cy="370.27" r="1.8" fill="#fff" stroke="#000" stroke-width="0.75"/>
<circle cx="45.57" cy="365.79" r="1.8" fill="#fff" stroke="#000" stroke-width="0.75"/>
<circle cx="46.02" cy="359.67" r="1.8" fill="#fff" stroke="#000" stroke-width="0.75"/>
<circle cx="46.47" cy="367.81" r="1.8" fill="#fff" stroke="#000" stroke-width="0.75"/>
<circle cx="46.91" cy="377.89" r="1.8" fill="#fff" stroke="#000" stroke-width="0.75"/>
<circle cx="47.36" cy="372.16" r="1.8" fill="#fff" stroke="#000" stroke-width="0.75"/>
<circle cx="47.81" cy="383.52" r="1.8" fill="#fff" stroke="#000" stroke-width="0.75"/>
<circle cx="48.26" cy="370.03" r="1.8" fill="#fff" stroke="#000" stroke-width="0.75"/>
<circle cx="48.71" cy="370.90" r="1.8" fill="#fff" stroke="#000" stroke-width="0.75"/>
<circle cx="49.16" cy="381.77" r="1.8" fill="#fff" stroke="#000" stroke-width="0.75"/>
<circle cx="49.61" cy="364.93" r="1.8" fill="#fff" stroke="#000" stroke-width="0.75"/>
<circle cx="50.06" cy="376.53" r="1.8" fill="#fff" stroke="#000" stroke-width="0.75"/>
<circle cx="50.51" cy="383.52" r="1.8" fill="#fff" stroke="#000" stroke-width="0.75"/>
<circle cx="50.95" cy="383.52" r="1.8" fill="#fff" stroke="#000" stroke-width="0.75"/>
<circle cx="51.40" cy="355.69" r="1.8" fill="#fff" stroke="#000" stroke-width="0.75"/>
<circle cx="51.85" cy="358.93" r="1.8" fill="#fff" stroke="#000" stroke-width="0.75"/>
<circle cx="52.30" cy="370.82" r="1.8" fill="#fff" stroke="#000" stroke-width="0.75"/>
<circle cx="52.75" cy="361.83" r="1.8" fill="#fff" stroke="#000" stroke-width="0.75"/>
<circle cx="53.20" cy="369.94" r="1.8" fill="#fff" stroke="#000" stroke-width="0.75"/>
<circle cx="53.65" cy="373.94" r="1.8" fill="#fff" stroke="#000" stroke-width="0.75"/>
<circle cx="54.10" cy="367.96" r="1.8" fill="#fff" stroke="#000" stroke-width="0.75"/>
<circle cx="54.54" cy="356.04" r="1.8" fill="#fff" stroke="#000" stroke-width="0.75"/>
<circle cx="54.99" cy="379.18" r="1.8" fill="#fff" stroke="#000" stroke-width="0.75"/>
<circle cx="55.44" cy="383.52" r="1.8" fill="#fff" stroke="#000" stroke-width="0.75"/>
<circle cx="55.89" cy="383.52" r="1.8" fill="#fff" stroke="#000" stroke-width="0.75"/>
<circle cx="56.34" cy="373.09" r="1.8" fill="#fff" stroke="#000" stroke-width="0.75"/>
<circle cx="56.79" cy="383.52" r="1.8" fill="#fff" stroke="#000" stroke-width="0.75"/>
<circle cx="57.24" cy="375.30" r="1.8" fill="#fff" stroke="#000" stroke-width="0.75"/>
<circle cx="57.69" cy="374.65" r="1.8" fill="#fff" stroke="#000" stroke-width="0.75"/>
<circle cx="58.13" cy="379.65" r="1.8" fill="#fff" stroke="#000" stroke-width="0.75"/>
<circle cx="58.58" cy="363.69" r="1.8" fill="#fff" stroke="#000" stroke-width="0.75"/>
<circle cx="59.03" cy="383.52" r="1.8" fill="#fff" stroke="#000" stroke-width="0.75"/>
<circle cx="59.48" cy="357.33" r="1.8" fill="#fff" stroke="#000" stroke-width="0.75"/>
<circle cx="59.93" cy="364.21" r="1.8" fill="#fff" stroke="#000" stroke-width="0.75"/>
<circle cx="60.38" cy="349.86" r="1.8" fill="#fff" stroke="#000" stroke-width="0.75"/>
<circle cx="60.83" cy="369.78" r="1.8" fill="#fff" stroke="#000" stroke-width="0.75"/>
<circle cx="61.28" cy="369.61" r="1.8" fill="#fff" stroke="#000" stroke-width="0.75"/>
<circle cx="61.73" cy="376.88" r="1.8" fill="#fff" stroke="#000" stroke-width="0.75"/>
<circle cx="62.17" cy="383.52" r="1.8" fill="#fff" stroke="#000" stroke-width="0.75"/>
<circle cx="62.62" cy="368.79" r="1.8" fill="#fff" stroke="#000" stroke-width="0.75"/>
<circle cx="63.07" cy="363.49" r="1.8" fill="#fff" stroke="#000" stroke-width="0.75"/>
<circle cx="63.52" cy="369.06" r="1.8" fill="#fff" stroke="#000" stroke-width="0.75"/>
<circle cx="63.97" cy="357.11" r="1.8" fill="#fff" stroke="#000" stroke-width="0.75"/>
<circle cx="64.42" cy="371.46" r="1.8" fill="#fff" stroke="#000" stroke-width="0.75"/>
<circle cx="64.87" cy="361.80" r="1.8" fill="#fff" stroke="#000" stroke-width="0.75"/>
<circle cx="65.32" cy="342.61" r="1.8" fill="#fff" stroke="#000" stroke-width="0.75"/>
<circle cx="65.76" cy="373.78" r="1.8" fill="#fff" stroke="#000" stroke-width="0.75"/>
<circle cx="66.21" cy="364.28" r="1.8" fill="#fff" stroke="#000" stroke-width="0.75"/>
<circle cx="66.66" cy="378.79" r="1.8" fill="#fff" stroke="#000" stroke-width="0.75"/>
<circle cx="67.11" cy="372.89" r="1.8" fill="#fff" stroke="#000" stroke-width="0.75"/>
<circle cx="67.56" cy="372.11" r="1.8" fill="#fff" stroke="#000" stroke-width="0.75"/>
<circle cx="68.01" cy="360.32" r="1.8" fill="#fff" stroke="#000" stroke-width="0.75"/>
<circle cx="68.46" cy="358.45" r="1.8" fill="#fff" stroke="#000" stroke-width="0.75"/>
<circle cx="68.91" cy="369.28" r="1.8" fill="#fff" stroke="#000" stroke-width="0.75"/>
<circle cx="69.35" cy="367.96" r="1.8" fill="#fff" stroke="#000" stroke-width="0.75"/>
<circle cx="69.80" cy="360.32" r="1.8" fill="#fff" stroke="#000" stroke-width="0.75"/>
<circle cx="70.25" cy="365.62" r="1.8" fill="#fff" stroke="#000" stroke-width="0.75"/>
<circle cx="70.70" cy="370.26" r="1.8" fill="#fff" stroke="#000" stroke-width="0.75"/>
<circle cx="99.20" cy="373.13" r="1.8" fill="#fff" stroke="#000" stroke-width="0.75"/>
<circle cx="99.67" cy="354.97" r="1.8" fill="#fff" stroke="#000" stroke-width="0.75"/>
<circle cx="100.13" cy="365.19" r="1.8" fill="#fff" stroke="#000" stroke-width="0.75"/>
<circle cx="100.60" cy="366.88" r="1.8" fill="#fff" stroke="#000" stroke-width="0.75"/>
<circle cx="101.07" cy="369.33" r="1.8" fill="#fff" stroke="#000" stroke-width="0.75"/>
<circle cx="101.54" cy="357.06" r="1.8" fill="#fff" stroke="#000" stroke-width="0.75"/>
<circle cx="102.00" cy="356.45" r="1.8" fill="#fff" stroke="#000" stroke-width="0.75"/>
<circle cx="102.47" cy="362.39" r="1.8" fill="#fff" stroke="#000" stroke-width="0.75"/>
<circle cx="102.94" cy="358.23" r="1.8" fill="#fff" stroke="#000" stroke-width="0.75"/>
<circle cx="103.41" cy="358.11" r="1.8" fill="#fff" stroke="#000" stroke-width="0.75"/>
<circle cx="103.88" cy="367.43" r="1.8" fill="#fff" stroke="#000" stroke-width="0.75"/>
<circle cx="104.34" cy="348.74" r="1.8" fill="#fff" stroke="#000" stroke-width="0.75"/>
<circle cx="104.81" cy="367.29" r="1.8" fill="#fff" stroke="#000" stroke-width="0.75"/>
<circle cx="105.28" cy="377.76" r="1.8" fill="#fff" stroke="#000" stroke-width="0.75"/>
<circle cx="105.75" cy="358.02" r="1.8" fill="#fff" stroke="#000" stroke-width="0.75"/>
<circle cx="106.21" cy="347.13" r="1.8" fill="#fff" stroke="#000" stroke-width="0.75"/>
<circle cx="106.68" cy="355.36" r="1.8" fill="#fff" stroke="#000" stroke-width="0.75"/>
<circle cx="107.15" cy="374.37" r="1.8" fill="#fff" stroke="#000" stroke-width="0.75"/>
<circle cx="107.62" cy="356.02" r="1.8" fill="#fff" stroke="#000" stroke-width="0.75"/>
<circle cx="108.08" cy="352.96" r="1.8" fill="#fff" stroke="#000" stroke-width="0.75"/>
<circle cx="108.55" cy="356.46" r="1.8" fill="#fff" stroke="#000" stroke-width="0.75"/>
<circle cx="109.02" cy="359.95" r="1.8" fill="#fff" stroke="#000" stroke-width="0.75"/>
<circle cx="109.49" cy="378.69" r="1.8" fill="#fff" stroke="#000" stroke-width="0.75"/>
<circle cx="109.95" cy="366.56" r="1.8" fill="#fff" stroke="#000" stroke-width="0.75"/>
<circle cx="110.42" cy="377.20" r="1.8" fill="#fff" stroke="#000" stroke-width="0.75"/>
<circle cx="110.89" cy="360.53" r="1.8" fill="#fff" stroke="#000" stroke-width="0.75"/>
<circle cx="111.35" cy="355.98" r="1.8" fill="#fff" stroke="#000" stroke-width="0.75"/>
<circle cx="111.82" cy="342.89" r="1.8" fill="#fff" stroke="#000" stroke-width="0.75"/>
<circle cx="112.29" cy="366.88" r="1.8" fill="#fff" stroke="#000" stroke-width="0.75"/>
<circle cx="112.76" cy="370.51" r="1.8" fill="#fff" stroke="#000" stroke-width="0.75"/>
<circle cx="113.22" cy="357.08" r="1.8" fill="#fff" stroke="#000" stroke-width="0.75"/>
<circle cx="113.69" cy="345.15" r="1.8" fill="#fff" stroke="#000" stroke-width="0.75"/>
<circle cx="114.16" cy="346.56" r="1.8" fill="#fff" stroke="#000" stroke-width="0.75"/>
<circle cx="114.63" cy="351.63" r="1.8" fill="#fff" stroke="#000" stroke-width="0.75"/>
<circle cx="115.09" cy="354.99" r="1.8" fill="#fff" stroke="#000" stroke-width="0.75"/>
<circle cx="115.56" cy="346.18" r="1.8" fill="#fff" stroke="#000" stroke-width="0.75"/>
<circle cx="116.03" cy="342.28" r="1.8" fill="#fff" stroke="#000" stroke-width="0.75"/>
<circle cx="116.50" cy="372.87" r="1.8" fill="#fff" stroke="#000" stroke-width="0.75"/>
<circle cx="116.97" cy="358.67" r="1.8" fill="#fff" stroke="#000" stroke-width="0.75"/>
<circle cx="117.43" cy="344.86" r="1.8" fill="#fff" stroke="#000" stroke-width="0.75"/>
<circle cx="117.90" cy="353.29" r="1.8" fill="#fff" stroke="#000" stroke-width="0.75"/>
<circle cx="118.37" cy="352.38" r="1.8" fill="#fff" stroke="#000" stroke-width="0.75"/>
<circle cx="118.84" cy="358.58" r="1.8" fill="#fff" stroke="#000" stroke-width="0.75"/>
<circle cx="119.30" cy="355.58" r="1.8" fill="#fff" stroke="#000" stroke-width="0.75"/>
<circle cx="119.77" cy="344.35" r="1.8" fill="#fff" stroke="#000" stroke-width="0.75"/>
<circle cx="120.24" cy="350.38" r="1.8" fill="#fff" stroke="#000" stroke-width="0.75"/>
<circle cx="120.71" cy="346.46" r="1.8" fill="#fff" stroke="#000" stroke-width="0.75"/>
<circle cx="121.17" cy="352.09" r="1.8" fill="#fff" stroke="#000" stroke-width="0.75"/>
<circle cx="121.64" cy="345.30" r="1.8" fill="#fff" stroke="#000" stroke-width="0.75"/>
<circle cx="122.11" cy="342.68" r="1.8" fill="#fff" stroke="#000" stroke-width="0.75"/>
<circle cx="122.58" cy="350.34" r="1.8" fill="#fff" stroke="#000" stroke-width="0.75"/>
<circle cx="123.04" cy="363.53" r="1.8" fill="#fff" stroke="#000" stroke-width="0.75"/>
<circle cx="123.51" cy="352.06" r="1.8" fill="#fff" stroke="#000" stroke-width="0.75"/>
<circle cx="123.98" cy="357.09" r="1.8" fill="#fff" stroke="#000" stroke-width="0.75"/>
<circle cx="124.44" cy="344.56" r="1.8" fill="#fff" stroke="#000" stroke-width="0.75"/>
<circle cx="124.91" cy="338.66" r="1.8" fill="#fff" stroke="#000" stroke-width="0.75"/>
<circle cx="125.38" cy="342.33" r="1.8" fill="#fff" stroke="#000" stroke-width="0.75"/>
<circle cx="125.85" cy="365.98" r="1.8" fill="#fff" stroke="#000" stroke-width="0.75"/>
<circle cx="126.31" cy="366.52" r="1.8" fill="#fff" stroke="#000" stroke-width="0.75"/>
<circle cx="126.78" cy="354.27" r="1.8" fill="#fff" stroke="#000" stroke-width="0.75"/>
<circle cx="127.25" cy="352.15" r="1.8" fill="#fff" stroke="#000" stroke-width="0.75"/>
<circle cx="127.72" cy="350.96" r="1.8" fill="#fff" stroke="#000" stroke-width="0.75"/>
<circle cx="128.19" cy="356.12" r="1.8" fill="#fff" stroke="#000" stroke-width="0.75"/>
<circle cx="128.65" cy="355.92" r="1.8" fill="#fff" stroke="#000" stroke-width="0.75"/>
<circle cx="129.12" cy="368.04" r="1.8" fill="#fff" stroke="#000" stroke-width="0.75"/>
<circle cx="129.59" cy="359.74" r="1.8" fill="#fff" stroke="#000" stroke-width="0.75"/>
<circle cx="130.06" cy="362.86" r="1.8" fill="#fff" stroke="#000" stroke-width="0.75"/>
<circle cx="130.52" cy="340.87" r="1.8" fill="#fff" stroke="#000" stroke-width="0.75"/>
<circle cx="130.99" cy="347.57" r="1.8" fill="#fff" stroke="#000" stroke-width="0.75"/>
<circle cx="131.46" cy="357.11" r="1.8" fill="#fff" stroke="#000" stroke-width="0.75"/>
<circle cx="131.93" cy="336.81" r="1.8" fill="#fff" stroke="#000" stroke-width="0.75"/>
<circle cx="132.39" cy="344.42" r="1.8" fill="#fff" stroke="#000" stroke-width="0.75"/>
<circle cx="132.86" cy="341.76" r="1.8" fill="#fff" stroke="#000" stroke-width="0.75"/>
<circle cx="133.33" cy="350.06" r="1.8" fill="#fff" stroke="#000" stroke-width="0.75"/>
<circle cx="133.80" cy="355.80" r="1.8" fill="#fff" stroke="#000" stroke-width="0.75"/>
<circle cx="134.26" cy="364.72" r="1.8" fill="#fff" stroke="#000" stroke-width="0.75"/>
<circle cx="134.73" cy="348.29" r="1.8" fill="#fff" stroke="#000" stroke-width="0.75"/>
<circle cx="135.20" cy="346.06" r="1.8" fill="#fff" stroke="#000" stroke-width="0.75"/>
<circle cx="135.67" cy="355.62" r="1.8" fill="#fff" stroke="#000" stroke-width="0.75"/>
<circle cx="136.13" cy="355.81" r="1.8" fill="#fff" stroke="#000" stroke-width="0.75"/>
<circle cx="136.60" cy="336.78" r="1.8" fill="#fff" stroke="#000" stroke-width="0.75"/>
<circle cx="137.07" cy="334.03" r="1.8" fill="#fff" stroke="#000" stroke-width="0.75"/>
<circle cx="137.53" cy="334.17" r="1.8" fill="#fff" stroke="#000" stroke-width="0.75"/>
<circle cx="138.00" cy="359.80" r="1.8" fill="#fff" stroke="#000" stroke-width="0.75"/>
<circle cx="138.47" cy="346.95" r="1.8" fill="#fff" stroke="#000" stroke-width="0.75"/>
<circle cx="138.94" cy="344.82" r="1.8" fill="#fff" stroke="#000" stroke-width="0.75"/>
<circle cx="139.41" cy="333.20" r="1.8" fill="#fff" stroke="#000" stroke-width="0.75"/>
<circle cx="139.87" cy="349.47" r="1.8" fill="#fff" stroke="#000" stroke-width="0.75"/>
<circle cx="140.34" cy="344.91" r="1.8" fill="#fff" stroke="#000" stroke-width="0.75"/>
<circle cx="140.81" cy="352.76" r="1.8" fill="#fff" stroke="#000" stroke-width="0.75"/>
<circle cx="141.28" cy="356.67" r="1.8" fill="#fff" stroke="#000" stroke-width="0.75"/>
<circle cx="141.74" cy="351.33" r="1.8" fill="#fff" stroke="#000" stroke-width="0.75"/>
<circle cx="142.21" cy="332.22" r="1.8" fill="#fff" stroke="#000" stroke-width="0.75"/>
<circle cx="142.68" cy="353.49" r="1.8" fill="#fff" stroke="#000" stroke-width="0.75"/>
<circle cx="143.15" cy="340.87" r="1.8" fill="#fff" stroke="#000" stroke-width="0.75"/>
<circle cx="143.61" cy="367.69" r="1.8" fill="#fff" stroke="#000" stroke-width="0.75"/>
<circle cx="144.08" cy="327.48" r="1.8" fill="#fff" stroke="#000" stroke-width="0.75"/>
<circle cx="144.55" cy="340.27" r="1.8" fill="#fff" stroke="#000" stroke-width="0.75"/>
<circle cx="145.01" cy="337.15" r="1.8" fill="#fff" stroke="#000" stroke-width="0.75"/>
<circle cx="145.48" cy="337.14" r="1.8" fill="#fff" stroke="#000" stroke-width="0.75"/>
<circle cx="145.95" cy="347.34" r="1.8" fill="#fff" stroke="#000" stroke-width="0.75"/>
<circle cx="146.42" cy="347.03" r="1.8" fill="#fff" stroke="#000" stroke-width="0.75"/>
<circle cx="146.89" cy="350.45" r="1.8" fill="#fff" stroke="#000" stroke-width="0.75"/>
<circle cx="147.35" cy="341.81" r="1.8" fill="#fff" stroke="#000" stroke-width="0.75"/>
<circle cx="147.82" cy="333.26" r="1.8" fill="#fff" stroke="#000" stroke-width="0.75"/>
<circle cx="148.29" cy="333.10" r="1.8" fill="#fff" stroke="#000" stroke-width="0.75"/>
<circle cx="148.76" cy="364.68" r="1.8" fill="#fff" stroke="#000" stroke-width="0.75"/>
<circle cx="149.22" cy="360.81" r="1.8" fill="#fff" stroke="#000" stroke-width="0.75"/>
<circle cx="149.69" cy="329.57" r="1.8" fill="#fff" stroke="#000" stroke-width="0.75"/>
<circle cx="150.16" cy="358.53" r="1.8" fill="#fff" stroke="#000" stroke-width="0.75"/>
<circle cx="150.62" cy="346.53" r="1.8" fill="#fff" stroke="#000" stroke-width="0.75"/>
<circle cx="151.09" cy="359.11" r="1.8" fill="#fff" stroke="#000" stroke-width="0.75"/>
<circle cx="151.56" cy="358.57" r="1.8" fill="#fff" stroke="#000" stroke-width="0.75"/>
<circle cx="152.03" cy="356.51" r="1.8" fill="#fff" stroke="#000" stroke-width="0.75"/>
<circle cx="152.50" cy="349.01" r="1.8" fill="#fff" stroke="#000" stroke-width="0.75"/>
<circle cx="152.96" cy="360.57" r="1.8" fill="#fff" stroke="#000" stroke-width="0.75"/>
<circle cx="153.43" cy="355.82" r="1.8" fill="#fff" stroke="#000" stroke-width="0.75"/>
<circle cx="153.90" cy="342.73" r="1.8" fill="#fff" stroke="#000" stroke-width="0.75"/>
<circle cx="154.37" cy="359.59" r="1.8" fill="#fff" stroke="#000" stroke-width="0.75"/>
<circle cx="154.83" cy="339.66" r="1.8" fill="#fff" stroke="#000" stroke-width="0.75"/>
<circle cx="155.30" cy="348.33" r="1.8" fill="#fff" stroke="#000" stroke-width="0.75"/>
<circle cx="155.77" cy="327.74" r="1.8" fill="#fff" stroke="#000" stroke-width="0.75"/>
<circle cx="156.23" cy="336.59" r="1.8" fill="#fff" stroke="#000" stroke-width="0.75"/>
<circle cx="156.70" cy="355.91" r="1.8" fill="#fff" stroke="#000" stroke-width="0.75"/>
<circle cx="157.17" cy="340.48" r="1.8" fill="#fff" stroke="#000" stroke-width="0.75"/>
<circle cx="157.64" cy="333.86" r="1.8" fill="#fff" stroke="#000" stroke-width="0.75"/>
<circle cx="158.11" cy="339.57" r="1.8" fill="#fff" stroke="#000" stroke-width="0.75"/>
<circle cx="158.57" cy="365.62" r="1.8" fill="#fff" stroke="#000" stroke-width="0.75"/>
<circle cx="159.04" cy="349.19" r="1.8" fill="#fff" stroke="#000" stroke-width="0.75"/>
<circle cx="159.51" cy="333.55" r="1.8" fill="#fff" stroke="#000" stroke-width="0.75"/>
<circle cx="159.98" cy="338.08" r="1.8" fill="#fff" stroke="#000" stroke-width="0.75"/>
<circle cx="160.44" cy="342.19" r="1.8" fill="#fff" stroke="#000" stroke-width="0.75"/>
<circle cx="160.91" cy="349.11" r="1.8" fill="#fff" stroke="#000" stroke-width="0.75"/>
<circle cx="161.38" cy="353.37" r="1.8" fill="#fff" stroke="#000" stroke-width="0.75"/>
<circle cx="161.84" cy="354.11" r="1.8" fill="#fff" stroke="#000" stroke-width="0.75"/>
<circle cx="162.31" cy="344.29" r="1.8" fill="#fff" stroke="#000" stroke-width="0.75"/>
<circle cx="162.78" cy="345.44" r="1.8" fill="#fff" stroke="#000" stroke-width="0.75"/>
<circle cx="163.25" cy="345.03" r="1.8" fill="#fff" stroke="#000" stroke-width="0.75"/>
<circle cx="163.72" cy="333.30" r="1.8" fill="#fff" stroke="#000" stroke-width="0.75"/>
<circle cx="164.18" cy="345.69" r="1.8" fill="#fff" stroke="#000" stroke-width="0.75"/>
<circle cx="164.65" cy="356.58" r="1.8" fill="#fff" stroke="#000" stroke-width="0.75"/>
<circle cx="165.12" cy="331.25" r="1.8" fill="#fff" stroke="#000" stroke-width="0.75"/>
<circle cx="165.59" cy="342.41" r="1.8" fill="#fff" stroke="#000" stroke-width="0.75"/>
<circle cx="166.05" cy="339.27" r="1.8" fill="#fff" stroke="#000" stroke-width="0.75"/>
<circle cx="166.52" cy="326.03" r="1.8" fill="#fff" stroke="#000" stroke-width="0.75"/>
<circle cx="166.99" cy="329.60" r="1.8" fill="#fff" stroke="#000" stroke-width="0.75"/>
<circle cx="167.45" cy="353.07" r="1.8" fill="#fff" stroke="#000" stroke-width="0.75"/>
<circle cx="167.92" cy="329.22" r="1.8" fill="#fff" stroke="#000" stroke-width="0.75"/>
<circle cx="168.39" cy="354.28" r="1.8" fill="#fff" stroke="#000" stroke-width="0.75"/>
<circle cx="168.86" cy="344.94" r="1.8" fill="#fff" stroke="#000" stroke-width="0.75"/>
<circle cx="169.33" cy="342.01" r="1.8" fill="#fff" stroke="#000" stroke-width="0.75"/>
<circle cx="169.79" cy="345.08" r="1.8" fill="#fff" stroke="#000" stroke-width="0.75"/>
<circle cx="170.26" cy="338.02" r="1.8" fill="#fff" stroke="#000" stroke-width="0.75"/>
<circle cx="170.73" cy="341.31" r="1.8" fill="#fff" stroke="#000" stroke-width="0.75"/>
<circle cx="171.20" cy="324.35" r="1.8" fill="#fff" stroke="#000" stroke-width="0.75"/>
<circle cx="171.66" cy="337.58" r="1.8" fill="#fff" stroke="#000" stroke-width="0.75"/>
<circle cx="172.13" cy="349.65" r="1.8" fill="#fff" stroke="#000" stroke-width="0.75"/>
<circle cx="172.60" cy="351.13" r="1.8" fill="#fff" stroke="#000" stroke-width="0.75"/>
<circle cx="173.06" cy="338.26" r="1.8" fill="#fff" stroke="#000" stroke-width="0.75"/>
<circle cx="173.53" cy="341.47" r="1.8" fill="#fff" stroke="#000" stroke-width="0.75"/>
<circle cx="174.00" cy="341.00" r="1.8" fill="#fff" stroke="#000" stroke-width="0.75"/>
<circle cx="174.47" cy="344.32" r="1.8" fill="#fff" stroke="#000" stroke-width="0.75"/>
<circle cx="174.94" cy="335.90" r="1.8" fill="#fff" stroke="#000" stroke-width="0.75"/>
<circle cx="175.40" cy="338.91" r="1.8" fill="#fff" stroke="#000" stroke-width="0.75"/>
<circle cx="175.87" cy="346.73" r="1.8" fill="#fff" stroke="#000" stroke-width="0.75"/>
<circle cx="176.34" cy="344.04" r="1.8" fill="#fff" stroke="#000" stroke-width="0.75"/>
<circle cx="176.81" cy="340.47" r="1.8" fill="#fff" stroke="#000" stroke-width="0.75"/>
<circle cx="177.27" cy="353.63" r="1.8" fill="#fff" stroke="#000" stroke-width="0.75"/>
<circle cx="177.74" cy="339.57" r="1.8" fill="#fff" stroke="#000" stroke-width="0.75"/>
<circle cx="178.21" cy="336.46" r="1.8" fill="#fff" stroke="#000" stroke-width="0.75"/>
<circle cx="178.67" cy="352.19" r="1.8" fill="#fff" stroke="#000" stroke-width="0.75"/>
<circle cx="179.14" cy="371.01" r="1.8" fill="#fff" stroke="#000" stroke-width="0.75"/>
<circle cx="179.61" cy="344.85" r="1.8" fill="#fff" stroke="#000" stroke-width="0.75"/>
<circle cx="180.08" cy="342.29" r="1.8" fill="#fff" stroke="#000" stroke-width="0.75"/>
<circle cx="180.55" cy="364.09" r="1.8" fill="#fff" stroke="#000" stroke-width="0.75"/>
<circle cx="181.01" cy="346.87" r="1.8" fill="#fff" stroke="#000" stroke-width="0.75"/>
<circle cx="181.48" cy="357.61" r="1.8" fill="#fff" stroke="#000" stroke-width="0.75"/>
<circle cx="181.95" cy="330.83" r="1.8" fill="#fff" stroke="#000" stroke-width="0.75"/>
<circle cx="182.42" cy="340.04" r="1.8" fill="#fff" stroke="#000" stroke-width="0.75"/>
<circle cx="182.88" cy="337.63" r="1.8" fill="#fff" stroke="#000" stroke-width="0.75"/>
<circle cx="183.35" cy="367.33" r="1.8" fill="#fff" stroke="#000" stroke-width="0.75"/>
<circle cx="183.82" cy="362.38" r="1.8" fill="#fff" stroke="#000" stroke-width="0.75"/>
<circle cx="184.28" cy="352.83" r="1.8" fill="#fff" stroke="#000" stroke-width="0.75"/>
<circle cx="184.75" cy="340.71" r="1.8" fill="#fff" stroke="#000" stroke-width="0.75"/>
<circle cx="185.22" cy="343.66" r="1.8" fill="#fff" stroke="#000" stroke-width="0.75"/>
<circle cx="185.69" cy="359.29" r="1.8" fill="#fff" stroke="#000" stroke-width="0.75"/>
<circle cx="186.16" cy="336.48" r="1.8" fill="#fff" stroke="#000" stroke-width="0.75"/>
<circle cx="186.62" cy="346.96" r="1.8" fill="#fff" stroke="#000" stroke-width="0.75"/>
<circle cx="187.09" cy="361.03" r="1.8" fill="#fff" stroke="#000" stroke-width="0.75"/>
<circle cx="187.56" cy="323.75" r="1.8" fill="#fff" stroke="#000" stroke-width="0.75"/>
<circle cx="188.03" cy="359.94" r="1.8" fill="#fff" stroke="#000" stroke-width="0.75"/>
<circle cx="188.49" cy="355.34" r="1.8" fill="#fff" stroke="#000" stroke-width="0.75"/>
<circle cx="188.96" cy="341.58" r="1.8" fill="#fff" stroke="#000" stroke-width="0.75"/>
<circle cx="189.43" cy="346.05" r="1.8" fill="#fff" stroke="#000" stroke-width="0.75"/>
<circle cx="189.90" cy="341.78" r="1.8" fill="#fff" stroke="#000" stroke-width="0.75"/>
<circle cx="190.36" cy="341.18" r="1.8" fill="#fff" stroke="#000" stroke-width="0.75"/>
<circle cx="190.83" cy="356.04" r="1.8" fill="#fff" stroke="#000" stroke-width="0.75"/>
<circle cx="191.30" cy="346.18" r="1.8" fill="#fff" stroke="#000" stroke-width="0.75"/>
<circle cx="191.77" cy="335.40" r="1.8" fill="#fff" stroke="#000" stroke-width="0.75"/>
<circle cx="192.23" cy="357.72" r="1.8" fill="#fff" stroke="#000" stroke-width="0.75"/>
<circle cx="192.70" cy="340.60" r="1.8" fill="#fff" stroke="#000" stroke-width="0.75"/>
<circle cx="193.17" cy="343.02" r="1.8" fill="#fff" stroke="#000" stroke-width="0.75"/>
<circle cx="193.63" cy="322.62" r="1.8" fill="#fff" stroke="#000" stroke-width="0.75"/>
<circle cx="194.10" cy="342.88" r="1.8" fill="#fff" stroke="#000" stroke-width="0.75"/>
<circle cx="194.57" cy="354.95" r="1.8" fill="#fff" stroke="#000" stroke-width="0.75"/>
<circle cx="195.04" cy="351.83" r="1.8" fill="#fff" stroke="#000" stroke-width="0.75"/>
<circle cx="195.50" cy="342.77" r="1.8" fill="#fff" stroke="#000" stroke-width="0.75"/>
<circle cx="195.97" cy="355.77" r="1.8" fill="#fff" stroke="#000" stroke-width="0.75"/>
<circle cx="196.44" cy="347.51" r="1.8" fill="#fff" stroke="#000" stroke-width="0.75"/>
<circle cx="196.91" cy="339.81" r="1.8" fill="#fff" stroke="#000" stroke-width="0.75"/>
<circle cx="197.38" cy="338.48" r="1.8" fill="#fff" stroke="#000" stroke-width="0.75"/>
<circle cx="197.84" cy="337.13" r="1.8" fill="#fff" stroke="#000" stroke-width="0.75"/>
<circle cx="198.31" cy="334.58" r="1.8" fill="#fff" stroke="#000" stroke-width="0.75"/>
<circle cx="198.78" cy="334.49" r="1.8" fill="#fff" stroke="#000" stroke-width="0.75"/>
<circle cx="199.25" cy="338.03" r="1.8" fill="#fff" stroke="#000" stroke-width="0.75"/>
<circle cx="199.71" cy="366.58" r="1.8" fill="#fff" stroke="#000" stroke-width="0.75"/>
<circle cx="200.18" cy="360.91" r="1.8" fill="#fff" stroke="#000" stroke-width="0.75"/>
<circle cx="200.65" cy="331.42" r="1.8" fill="#fff" stroke="#000" stroke-width="0.75"/>
<circle cx="201.12" cy="348.39" r="1.8" fill="#fff" stroke="#000" stroke-width="0.75"/>
<circle cx="201.58" cy="323.62" r="1.8" fill="#fff" stroke="#000" stroke-width="0.75"/>
<circle cx="202.05" cy="320.66" r="1.8" fill="#fff" stroke="#000" stroke-width="0.75"/>
<circle cx="202.52" cy="334.47" r="1.8" fill="#fff" stroke="#000" stroke-width="0.75"/>
<circle cx="202.99" cy="346.34" r="1.8" fill="#fff" stroke="#000" stroke-width="0.75"/>
<circle cx="203.45" cy="353.24" r="1.8" fill="#fff" stroke="#000" stroke-width="0.75"/>
<circle cx="203.92" cy="329.43" r="1.8" fill="#fff" stroke="#000" stroke-width="0.75"/>
<circle cx="204.39" cy="339.41" r="1.8" fill="#fff" stroke="#000" stroke-width="0.75"/>
<circle cx="204.85" cy="342.05" r="1.8" fill="#fff" stroke="#000" stroke-width="0.75"/>
<circle cx="205.32" cy="361.41" r="1.8" fill="#fff" stroke="#000" stroke-width="0.75"/>
<circle cx="205.79" cy="347.25" r="1.8" fill="#fff" stroke="#000" stroke-width="0.75"/>
<circle cx="206.26" cy="336.30" r="1.8" fill="#fff" stroke="#000" stroke-width="0.75"/>
<circle cx="206.73" cy="346.60" r="1.8" fill="#fff" stroke="#000" stroke-width="0.75"/>
<circle cx="207.19" cy="351.57" r="1.8" fill="#fff" stroke="#000" stroke-width="0.75"/>
<circle cx="207.66" cy="357.39" r="1.8" fill="#fff" stroke="#000" stroke-width="0.75"/>
<circle cx="208.13" cy="324.40" r="1.8" fill="#fff" stroke="#000" stroke-width="0.75"/>
<circle cx="208.59" cy="346.97" r="1.8" fill="#fff" stroke="#000" stroke-width="0.75"/>
<circle cx="209.06" cy="342.02" r="1.8" fill="#fff" stroke="#000" stroke-width="0.75"/>
<circle cx="209.53" cy="337.77" r="1.8" fill="#fff" stroke="#000" stroke-width="0.75"/>
<circle cx="210.00" cy="344.70" r="1.8" fill="#fff" stroke="#000" stroke-width="0.75"/>
<circle cx="210.47" cy="343.34" r="1.8" fill="#fff" stroke="#000" stroke-width="0.75"/>
<circle cx="210.93" cy="339.91" r="1.8" fill="#fff" stroke="#000" stroke-width="0.75"/>
<circle cx="211.40" cy="336.59" r="1.8" fill="#fff" stroke="#000" stroke-width="0.75"/>
<circle cx="211.87" cy="340.07" r="1.8" fill="#fff" stroke="#000" stroke-width="0.75"/>
<circle cx="212.34" cy="337.63" r="1.8" fill="#fff" stroke="#000" stroke-width="0.75"/>
<circle cx="212.80" cy="354.76" r="1.8" fill="#fff" stroke="#000" stroke-width="0.75"/>
<circle cx="213.27" cy="330.25" r="1.8" fill="#fff" stroke="#000" stroke-width="0.75"/>
<circle cx="213.74" cy="345.41" r="1.8" fill="#fff" stroke="#000" stroke-width="0.75"/>
<circle cx="214.21" cy="337.64" r="1.8" fill="#fff" stroke="#000" stroke-width="0.75"/>
<circle cx="214.67" cy="358.74" r="1.8" fill="#fff" stroke="#000" stroke-width="0.75"/>
<circle cx="215.14" cy="366.14" r="1.8" fill="#fff" stroke="#000" stroke-width="0.75"/>
<circle cx="215.61" cy="351.10" r="1.8" fill="#fff" stroke="#000" stroke-width="0.75"/>
<circle cx="216.07" cy="338.04" r="1.8" fill="#fff" stroke="#000" stroke-width="0.75"/>
<circle cx="216.54" cy="344.90" r="1.8" fill="#fff" stroke="#000" stroke-width="0.75"/>
<circle cx="217.01" cy="334.42" r="1.8" fill="#fff" stroke="#000" stroke-width="0.75"/>
<circle cx="217.48" cy="335.96" r="1.8" fill="#fff" stroke="#000" stroke-width="0.75"/>
<circle cx="217.95" cy="331.84" r="1.8" fill="#fff" stroke="#000" stroke-width="0.75"/>
<circle cx="218.41" cy="360.90" r="1.8" fill="#fff" stroke="#000" stroke-width="0.75"/>
<circle cx="218.88" cy="345.97" r="1.8" fill="#fff" stroke="#000" stroke-width="0.75"/>
<circle cx="219.35" cy="348.11" r="1.8" fill="#fff" stroke="#000" stroke-width="0.75"/>
<circle cx="219.81" cy="367.78" r="1.8" fill="#fff" stroke="#000" stroke-width="0.75"/>
<circle cx="220.28" cy="353.47" r="1.8" fill="#fff" stroke="#000" stroke-width="0.75"/>
<circle cx="220.75" cy="361.31" r="1.8" fill="#fff" stroke="#000" stroke-width="0.75"/>
<circle cx="221.22" cy="320.66" r="1.8" fill="#fff" stroke="#000" stroke-width="0.75"/>
<circle cx="221.69" cy="330.19" r="1.8" fill="#fff" stroke="#000" stroke-width="0.75"/>
<circle cx="222.15" cy="320.66" r="1.8" fill="#fff" stroke="#000" stroke-width="0.75"/>
<circle cx="222.62" cy="334.01" r="1.8" fill="#fff" stroke="#000" stroke-width="0.75"/>
<circle cx="223.09" cy="337.91" r="1.8" fill="#fff" stroke="#000" stroke-width="0.75"/>
<circle cx="223.56" cy="340.26" r="1.8" fill="#fff" stroke="#000" stroke-width="0.75"/>
<circle cx="224.02" cy="337.58" r="1.8" fill="#fff" stroke="#000" stroke-width="0.75"/>
<circle cx="224.49" cy="357.42" r="1.8" fill="#fff" stroke="#000" stroke-width="0.75"/>
<circle cx="224.96" cy="343.77" r="1.8" fill="#fff" stroke="#000" stroke-width="0.75"/>
<circle cx="225.43" cy="340.36" r="1.8" fill="#fff" stroke="#000" stroke-width="0.75"/>
<circle cx="225.89" cy="330.17" r="1.8" fill="#fff" stroke="#000" stroke-width="0.75"/>
<circle cx="226.36" cy="320.66" r="1.8" fill="#fff" stroke="#000" stroke-width="0.75"/>
<circle cx="226.83" cy="347.94" r="1.8" fill="#fff" stroke="#000" stroke-width="0.75"/>
<circle cx="227.29" cy="358.33" r="1.8" fill="#fff" stroke="#000" stroke-width="0.75"/>
<circle cx="227.76" cy="337.71" r="1.8" fill="#fff" stroke="#000" stroke-width="0.75"/>
<circle cx="228.23" cy="324.79" r="1.8" fill="#fff" stroke="#000" stroke-width="0.75"/>
<circle cx="228.70" cy="335.46" r="1.8" fill="#fff" stroke="#000" stroke-width="0.75"/>
<circle cx="229.17" cy="340.44" r="1.8" fill="#fff" stroke="#000" stroke-width="0.75"/>
<circle cx="229.63" cy="344.71" r="1.8" fill="#fff" stroke="#000" stroke-width="0.75"/>
<circle cx="230.10" cy="339.40" r="1.8" fill="#fff" stroke="#000" stroke-width="0.75"/>
<circle cx="230.57" cy="346.26" r="1.8" fill="#fff" stroke="#000" stroke-width="0.75"/>
<circle cx="231.03" cy="358.09" r="1.8" fill="#fff" stroke="#000" stroke-width="0.75"/>
<circle cx="231.50" cy="333.54" r="1.8" fill="#fff" stroke="#000" stroke-width="0.75"/>
<circle cx="231.97" cy="342.34" r="1.8" fill="#fff" stroke="#000" stroke-width="0.75"/>
<circle cx="232.44" cy="342.58" r="1.8" fill="#fff" stroke="#000" stroke-width="0.75"/>
<circle cx="232.90" cy="358.14" r="1.8" fill="#fff" stroke="#000" stroke-width="0.75"/>
<circle cx="233.37" cy="346.81" r="1.8" fill="#fff" stroke="#000" stroke-width="0.75"/>
<circle cx="233.84" cy="350.41" r="1.8" fill="#fff" stroke="#000" stroke-width="0.75"/>
<circle cx="234.31" cy="352.82" r="1.8" fill="#fff" stroke="#000" stroke-width="0.75"/>
<circle cx="234.78" cy="348.79" r="1.8" fill="#fff" stroke="#000" stroke-width="0.75"/>
<circle cx="235.24" cy="336.43" r="1.8" fill="#fff" stroke="#000" stroke-width="0.75"/>
<circle cx="235.71" cy="345.46" r="1.8" fill="#fff" stroke="#000" stroke-width="0.75"/>
<circle cx="236.18" cy="342.66" r="1.8" fill="#fff" stroke="#000" stroke-width="0.75"/>
<circle cx="236.65" cy="377.14" r="1.8" fill="#fff" stroke="#000" stroke-width="0.75"/>
<circle cx="237.11" cy="346.89" r="1.8" fill="#fff" stroke="#000" stroke-width="0.75"/>
<circle cx="237.58" cy="346.91" r="1.8" fill="#fff" stroke="#000" stroke-width="0.75"/>
<circle cx="238.05" cy="349.70" r="1.8" fill="#fff" stroke="#000" stroke-width="0.75"/>
<circle cx="238.51" cy="336.87" r="1.8" fill="#fff" stroke="#000" stroke-width="0.75"/>
<circle cx="238.98" cy="362.49" r="1.8" fill="#fff" stroke="#000" stroke-width="0.75"/>
<circle cx="239.45" cy="360.05" r="1.8" fill="#fff" stroke="#000" stroke-width="0.75"/>
<circle cx="239.92" cy="345.13" r="1.8" fill="#fff" stroke="#000" stroke-width="0.75"/>
<circle cx="240.39" cy="343.92" r="1.8" fill="#fff" stroke="#000" stroke-width="0.75"/>
<circle cx="240.85" cy="351.05" r="1.8" fill="#fff" stroke="#000" stroke-width="0.75"/>
<circle cx="241.32" cy="340.09" r="1.8" fill="#fff" stroke="#000" stroke-width="0.75"/>
<circle cx="241.79" cy="367.10" r="1.8" fill="#fff" stroke="#000" stroke-width="0.75"/>
<circle cx="242.25" cy="338.22" r="1.8" fill="#fff" stroke="#000" stroke-width="0.75"/>
<circle cx="242.72" cy="333.97" r="1.8" fill="#fff" stroke="#000" stroke-width="0.75"/>
<circle cx="243.19" cy="335.76" r="1.8" fill="#fff" stroke="#000" stroke-width="0.75"/>
<circle cx="243.66" cy="345.04" r="1.8" fill="#fff" stroke="#000" stroke-width="0.75"/>
<circle cx="244.12" cy="350.79" r="1.8" fill="#fff" stroke="#000" stroke-width="0.75"/>
<circle cx="244.59" cy="356.86" r="1.8" fill="#fff" stroke="#000" stroke-width="0.75"/>
<circle cx="245.06" cy="331.09" r="1.8" fill="#fff" stroke="#000" stroke-width="0.75"/>
<circle cx="245.53" cy="332.03" r="1.8" fill="#fff" stroke="#000" stroke-width="0.75"/>
<circle cx="246.00" cy="346.94" r="1.8" fill="#fff" stroke="#000" stroke-width="0.75"/>
<circle cx="246.46" cy="332.48" r="1.8" fill="#fff" stroke="#000" stroke-width="0.75"/>
<circle cx="246.93" cy="338.88" r="1.8" fill="#fff" stroke="#000" stroke-width="0.75"/>
<circle cx="247.40" cy="341.14" r="1.8" fill="#fff" stroke="#000" stroke-width="0.75"/>
<circle cx="247.87" cy="347.65" r="1.8" fill="#fff" stroke="#000" stroke-width="0.75"/>
<circle cx="248.33" cy="364.90" r="1.8" fill="#fff" stroke="#000" stroke-width="0.75"/>
<circle cx="248.80" cy="348.90" r="1.8" fill="#fff" stroke="#000" stroke-width="0.75"/>
<circle cx="249.27" cy="334.83" r="1.8" fill="#fff" stroke="#000" stroke-width="0.75"/>
<circle cx="249.73" cy="336.57" r="1.8" fill="#fff" stroke="#000" stroke-width="0.75"/>
<circle cx="250.20" cy="346.44" r="1.8" fill="#fff" stroke="#000" stroke-width="0.75"/>
<circle cx="250.67" cy="342.56" r="1.8" fill="#fff" stroke="#000" stroke-width="0.75"/>
<circle cx="251.14" cy="335.41" r="1.8" fill="#fff" stroke="#000" stroke-width="0.75"/>
<circle cx="251.61" cy="344.53" r="1.8" fill="#fff" stroke="#000" stroke-width="0.75"/>
<circle cx="252.07" cy="353.83" r="1.8" fill="#fff" stroke="#000" stroke-width="0.75"/>
<circle cx="252.54" cy="345.90" r="1.8" fill="#fff" stroke="#000" stroke-width="0.75"/>
<circle cx="253.01" cy="336.86" r="1.8" fill="#fff" stroke="#000" stroke-width="0.75"/>
<circle cx="253.47" cy="342.99" r="1.8" fill="#fff" stroke="#000" stroke-width="0.75"/>
<circle cx="253.94" cy="332.36" r="1.8" fill="#fff" stroke="#000" stroke-width="0.75"/>
<circle cx="254.41" cy="333.36" r="1.8" fill="#fff" stroke="#000" stroke-width="0.75"/>
<circle cx="254.88" cy="348.65" r="1.8" fill="#fff" stroke="#000" stroke-width="0.75"/>
<circle cx="255.34" cy="335.06" r="1.8" fill="#fff" stroke="#000" stroke-width="0.75"/>
<circle cx="255.81" cy="349.05" r="1.8" fill="#fff" stroke="#000" stroke-width="0.75"/>
<circle cx="256.28" cy="339.38" r="1.8" fill="#fff" stroke="#000" stroke-width="0.75"/>
<circle cx="256.75" cy="354.56" r="1.8" fill="#fff" stroke="#000" stroke-width="0.75"/>
<circle cx="257.22" cy="345.43" r="1.8" fill="#fff" stroke="#000" stroke-width="0.75"/>
<circle cx="257.68" cy="334.45" r="1.8" fill="#fff" stroke="#000" stroke-width="0.75"/>
<circle cx="258.15" cy="333.22" r="1.8" fill="#fff" stroke="#000" stroke-width="0.75"/>
<circle cx="258.62" cy="328.23" r="1.8" fill="#fff" stroke="#000" stroke-width="0.75"/>
<circle cx="259.09" cy="357.99" r="1.8" fill="#fff" stroke="#000" stroke-width="0.75"/>
<circle cx="259.55" cy="339.10" r="1.8" fill="#fff" stroke="#000" stroke-width="0.75"/>
<circle cx="260.02" cy="321.99" r="1.8" fill="#fff" stroke="#000" stroke-width="0.75"/>
<circle cx="260.49" cy="367.45" r="1.8" fill="#fff" stroke="#000" stroke-width="0.75"/>
<circle cx="260.95" cy="349.39" r="1.8" fill="#fff" stroke="#000" stroke-width="0.75"/>
<circle cx="261.42" cy="340.60" r="1.8" fill="#fff" stroke="#000" stroke-width="0.75"/>
<circle cx="261.89" cy="328.78" r="1.8" fill="#fff" stroke="#000" stroke-width="0.75"/>
<circle cx="262.36" cy="339.46" r="1.8" fill="#fff" stroke="#000" stroke-width="0.75"/>
<circle cx="262.83" cy="335.73" r="1.8" fill="#fff" stroke="#000" stroke-width="0.75"/>
<circle cx="263.29" cy="353.18" r="1.8" fill="#fff" stroke="#000" stroke-width="0.75"/>
<circle cx="263.76" cy="331.41" r="1.8" fill="#fff" stroke="#000" stroke-width="0.75"/>
<circle cx="264.23" cy="325.86" r="1.8" fill="#fff" stroke="#000" stroke-width="0.75"/>
<circle cx="264.69" cy="357.12" r="1.8" fill="#fff" stroke="#000" stroke-width="0.75"/>
<circle cx="265.16" cy="354.81" r="1.8" fill="#fff" stroke="#000" stroke-width="0.75"/>
<circle cx="265.63" cy="352.64" r="1.8" fill="#fff" stroke="#000" stroke-width="0.75"/>
<circle cx="266.10" cy="336.54" r="1.8" fill="#fff" stroke="#000" stroke-width="0.75"/>
<circle cx="266.56" cy="342.49" r="1.8" fill="#fff" stroke="#000" stroke-width="0.75"/>
<circle cx="267.03" cy="353.69" r="1.8" fill="#fff" stroke="#000" stroke-width="0.75"/>
<circle cx="44.22" cy="365.25" r="1.9" fill="#000" stroke="none" stroke-width="1"/>
<circle cx="44.67" cy="374.86" r="1.9" fill="#000" stroke="none" stroke-width="1"/>
<circle cx="45.12" cy="368.56" r="1.9" fill="#000" stroke="none" stroke-width="1"/>
<circle cx="45.57" cy="348.35" r="1.9" fill="#000" stroke="none" stroke-width="1"/>
<circle cx="46.02" cy="366.54" r="1.9" fill="#000" stroke="none" stroke-width="1"/>
<circle cx="46.47" cy="355.59" r="1.9" fill="#000" stroke="none" stroke-width="1"/>
<circle cx="46.91" cy="360.63" r="1.9" fill="#000" stroke="none" stroke-width="1"/>
<circle cx="47.36" cy="369.57" r="1.9" fill="#000" stroke="none" stroke-width="1"/>
<circle cx="47.81" cy="378.61" r="1.9" fill="#000" stroke="none" stroke-width="1"/>
<circle cx="48.26" cy="381.37" r="1.9" fill="#000" stroke="none" stroke-width="1"/>
<circle cx="48.71" cy="367.75" r="1.9" fill="#000" stroke="none" stroke-width="1"/>
<circle cx="49.16" cy="365.49" r="1.9" fill="#000" stroke="none" stroke-width="1"/>
<circle cx="49.61" cy="366.88" r="1.9" fill="#000" stroke="none" stroke-width="1"/>
<circle cx="50.06" cy="359.11" r="1.9" fill="#000" stroke="none" stroke-width="1"/>
<circle cx="50.51" cy="369.88" r="1.9" fill="#000" stroke="none" stroke-width="1"/>
<circle cx="50.95" cy="370.85" r="1.9" fill="#000" stroke="none" stroke-width="1"/>
<circle cx="51.40" cy="379.43" r="1.9" fill="#000" stroke="none" stroke-width="1"/>
<circle cx="51.85" cy="382.19" r="1.9" fill="#000" stroke="none" stroke-width="1"/>
<circle cx="52.30" cy="363.07" r="1.9" fill="#000" stroke="none" stroke-width="1"/>
<circle cx="52.75" cy="361.84" r="1.9" fill="#000" stroke="none" stroke-width="1"/>
<circle cx="53.20" cy="356.35" r="1.9" fill="#000" stroke="none" stroke-width="1"/>
<circle cx="53.65" cy="371.68" r="1.9" fill="#000" stroke="none" stroke-width="1"/>
<circle cx="54.10" cy="375.37" r="1.9" fill="#000" stroke="none" stroke-width="1"/>
<circle cx="54.54" cy="373.49" r="1.9" fill="#000" stroke="none" stroke-width="1"/>
<circle cx="54.99" cy="382.19" r="1.9" fill="#000" stroke="none" stroke-width="1"/>
<circle cx="55.44" cy="375.06" r="1.9" fill="#000" stroke="none" stroke-width="1"/>
<circle cx="55.89" cy="348.33" r="1.9" fill="#000" stroke="none" stroke-width="1"/>
<circle cx="56.34" cy="368.79" r="1.9" fill="#000" stroke="none" stroke-width="1"/>
<circle cx="56.79" cy="350.63" r="1.9" fill="#000" stroke="none" stroke-width="1"/>
<circle cx="57.24" cy="356.10" r="1.9" fill="#000" stroke="none" stroke-width="1"/>
<circle cx="57.69" cy="367.59" r="1.9" fill="#000" stroke="none" stroke-width="1"/>
<circle cx="58.13" cy="360.14" r="1.9" fill="#000" stroke="none" stroke-width="1"/>
<circle cx="58.58" cy="366.88" r="1.9" fill="#000" stroke="none" stroke-width="1"/>
<circle cx="59.03" cy="348.91" r="1.9" fill="#000" stroke="none" stroke-width="1"/>
<circle cx="59.48" cy="351.86" r="1.9" fill="#000" stroke="none" stroke-width="1"/>
<circle cx="59.93" cy="370.67" r="1.9" fill="#000" stroke="none" stroke-width="1"/>
<circle cx="60.38" cy="370.50" r="1.9" fill="#000" stroke="none" stroke-width="1"/>
<circle cx="60.83" cy="364.18" r="1.9" fill="#000" stroke="none" stroke-width="1"/>
<circle cx="61.28" cy="368.27" r="1.9" fill="#000" stroke="none" stroke-width="1"/>
<circle cx="61.73" cy="367.79" r="1.9" fill="#000" stroke="none" stroke-width="1"/>
<circle cx="62.17" cy="346.87" r="1.9" fill="#000" stroke="none" stroke-width="1"/>
<circle cx="62.62" cy="382.19" r="1.9" fill="#000" stroke="none" stroke-width="1"/>
<circle cx="63.07" cy="367.51" r="1.9" fill="#000" stroke="none" stroke-width="1"/>
<circle cx="63.52" cy="368.05" r="1.9" fill="#000" stroke="none" stroke-width="1"/>
<circle cx="63.97" cy="363.03" r="1.9" fill="#000" stroke="none" stroke-width="1"/>
<circle cx="64.42" cy="370.33" r="1.9" fill="#000" stroke="none" stroke-width="1"/>
<circle cx="64.87" cy="347.97" r="1.9" fill="#000" stroke="none" stroke-width="1"/>
<circle cx="65.32" cy="375.36" r="1.9" fill="#000" stroke="none" stroke-width="1"/>
<circle cx="65.76" cy="358.87" r="1.9" fill="#000" stroke="none" stroke-width="1"/>
<circle cx="66.21" cy="377.13" r="1.9" fill="#000" stroke="none" stroke-width="1"/>
<circle cx="66.66" cy="373.93" r="1.9" fill="#000" stroke="none" stroke-width="1"/>
<circle cx="67.11" cy="378.27" r="1.9" fill="#000" stroke="none" stroke-width="1"/>
<circle cx="67.56" cy="355.77" r="1.9" fill="#000" stroke="none" stroke-width="1"/>
<circle cx="68.01" cy="379.71" r="1.9" fill="#000" stroke="none" stroke-width="1"/>
<circle cx="68.46" cy="365.52" r="1.9" fill="#000" stroke="none" stroke-width="1"/>
<circle cx="68.91" cy="354.89" r="1.9" fill="#000" stroke="none" stroke-width="1"/>
<circle cx="69.35" cy="367.49" r="1.9" fill="#000" stroke="none" stroke-width="1"/>
<circle cx="69.80" cy="376.76" r="1.9" fill="#000" stroke="none" stroke-width="1"/>
<circle cx="70.25" cy="353.29" r="1.9" fill="#000" stroke="none" stroke-width="1"/>
<circle cx="70.70" cy="368.36" r="1.9" fill="#000" stroke="none" stroke-width="1"/>
<circle cx="99.20" cy="372.40" r="1.9" fill="#000" stroke="none" stroke-width="1"/>
<circle cx="99.67" cy="373.54" r="1.9" fill="#000" stroke="none" stroke-width="1"/>
<circle cx="100.13" cy="362.98" r="1.9" fill="#000" stroke="none" stroke-width="1"/>
<circle cx="100.60" cy="359.66" r="1.9" fill="#000" stroke="none" stroke-width="1"/>
<circle cx="101.07" cy="371.40" r="1.9" fill="#000" stroke="none" stroke-width="1"/>
<circle cx="101.54" cy="368.28" r="1.9" fill="#000" stroke="none" stroke-width="1"/>
<circle cx="102.00" cy="367.59" r="1.9" fill="#000" stroke="none" stroke-width="1"/>
<circle cx="102.47" cy="354.58" r="1.9" fill="#000" stroke="none" stroke-width="1"/>
<circle cx="102.94" cy="366.93" r="1.9" fill="#000" stroke="none" stroke-width="1"/>
<circle cx="103.41" cy="364.26" r="1.9" fill="#000" stroke="none" stroke-width="1"/>
<circle cx="103.88" cy="365.68" r="1.9" fill="#000" stroke="none" stroke-width="1"/>
<circle cx="104.34" cy="372.08" r="1.9" fill="#000" stroke="none" stroke-width="1"/>
<circle cx="104.81" cy="361.06" r="1.9" fill="#000" stroke="none" stroke-width="1"/>
<circle cx="105.28" cy="373.97" r="1.9" fill="#000" stroke="none" stroke-width="1"/>
<circle cx="105.75" cy="363.14" r="1.9" fill="#000" stroke="none" stroke-width="1"/>
<circle cx="106.21" cy="358.20" r="1.9" fill="#000" stroke="none" stroke-width="1"/>
<circle cx="106.68" cy="360.76" r="1.9" fill="#000" stroke="none" stroke-width="1"/>
<circle cx="107.15" cy="372.70" r="1.9" fill="#000" stroke="none" stroke-width="1"/>
<circle cx="107.62" cy="358.41" r="1.9" fill="#000" stroke="none" stroke-width="1"/>
<circle cx="108.08" cy="363.97" r="1.9" fill="#000" stroke="none" stroke-width="1"/>
<circle cx="108.55" cy="370.26" r="1.9" fill="#000" stroke="none" stroke-width="1"/>
<circle cx="109.02" cy="362.18" r="1.9" fill="#000" stroke="none" stroke-width="1"/>
<circle cx="109.49" cy="344.58" r="1.9" fill="#000" stroke="none" stroke-width="1"/>
<circle cx="109.95" cy="344.11" r="1.9" fill="#000" stroke="none" stroke-width="1"/>
<circle cx="110.42" cy="362.57" r="1.9" fill="#000" stroke="none" stroke-width="1"/>
<circle cx="110.89" cy="368.73" r="1.9" fill="#000" stroke="none" stroke-width="1"/>
<circle cx="111.35" cy="361.16" r="1.9" fill="#000" stroke="none" stroke-width="1"/>
<circle cx="111.82" cy="364.87" r="1.9" fill="#000" stroke="none" stroke-width="1"/>
<circle cx="112.29" cy="350.44" r="1.9" fill="#000" stroke="none" stroke-width="1"/>
<circle cx="112.76" cy="346.43" r="1.9" fill="#000" stroke="none" stroke-width="1"/>
<circle cx="113.22" cy="346.65" r="1.9" fill="#000" stroke="none" stroke-width="1"/>
<circle cx="113.69" cy="364.15" r="1.9" fill="#000" stroke="none" stroke-width="1"/>
<circle cx="114.16" cy="377.21" r="1.9" fill="#000" stroke="none" stroke-width="1"/>
<circle cx="114.63" cy="363.30" r="1.9" fill="#000" stroke="none" stroke-width="1"/>
<circle cx="115.09" cy="374.21" r="1.9" fill="#000" stroke="none" stroke-width="1"/>
<circle cx="115.56" cy="355.84" r="1.9" fill="#000" stroke="none" stroke-width="1"/>
<circle cx="116.03" cy="351.84" r="1.9" fill="#000" stroke="none" stroke-width="1"/>
<circle cx="116.50" cy="323.76" r="1.9" fill="#000" stroke="none" stroke-width="1"/>
<circle cx="116.97" cy="356.71" r="1.9" fill="#000" stroke="none" stroke-width="1"/>
<circle cx="117.43" cy="359.45" r="1.9" fill="#000" stroke="none" stroke-width="1"/>
<circle cx="117.90" cy="355.38" r="1.9" fill="#000" stroke="none" stroke-width="1"/>
<circle cx="118.37" cy="354.60" r="1.9" fill="#000" stroke="none" stroke-width="1"/>
<circle cx="118.84" cy="340.75" r="1.9" fill="#000" stroke="none" stroke-width="1"/>
<circle cx="119.30" cy="364.70" r="1.9" fill="#000" stroke="none" stroke-width="1"/>
<circle cx="119.77" cy="364.33" r="1.9" fill="#000" stroke="none" stroke-width="1"/>
<circle cx="120.24" cy="360.28" r="1.9" fill="#000" stroke="none" stroke-width="1"/>
<circle cx="120.71" cy="348.54" r="1.9" fill="#000" stroke="none" stroke-width="1"/>
<circle cx="121.17" cy="358.73" r="1.9" fill="#000" stroke="none" stroke-width="1"/>
<circle cx="121.64" cy="364.16" r="1.9" fill="#000" stroke="none" stroke-width="1"/>
<circle cx="122.11" cy="367.05" r="1.9" fill="#000" stroke="none" stroke-width="1"/>
<circle cx="122.58" cy="363.02" r="1.9" fill="#000" stroke="none" stroke-width="1"/>
<circle cx="123.04" cy="357.77" r="1.9" fill="#000" stroke="none" stroke-width="1"/>
<circle cx="123.51" cy="361.21" r="1.9" fill="#000" stroke="none" stroke-width="1"/>
<circle cx="123.98" cy="355.72" r="1.9" fill="#000" stroke="none" stroke-width="1"/>
<circle cx="124.44" cy="370.46" r="1.9" fill="#000" stroke="none" stroke-width="1"/>
<circle cx="124.91" cy="367.28" r="1.9" fill="#000" stroke="none" stroke-width="1"/>
<circle cx="125.38" cy="354.55" r="1.9" fill="#000" stroke="none" stroke-width="1"/>
<circle cx="125.85" cy="348.52" r="1.9" fill="#000" stroke="none" stroke-width="1"/>
<circle cx="126.31" cy="349.83" r="1.9" fill="#000" stroke="none" stroke-width="1"/>
<circle cx="126.78" cy="356.82" r="1.9" fill="#000" stroke="none" stroke-width="1"/>
<circle cx="127.25" cy="347.83" r="1.9" fill="#000" stroke="none" stroke-width="1"/>
<circle cx="127.72" cy="348.83" r="1.9" fill="#000" stroke="none" stroke-width="1"/>
<circle cx="128.19" cy="348.31" r="1.9" fill="#000" stroke="none" stroke-width="1"/>
<circle cx="128.65" cy="349.74" r="1.9" fill="#000" stroke="none" stroke-width="1"/>
<circle cx="129.12" cy="359.86" r="1.9" fill="#000" stroke="none" stroke-width="1"/>
<circle cx="129.59" cy="365.89" r="1.9" fill="#000" stroke="none" stroke-width="1"/>
<circle cx="130.06" cy="350.48" r="1.9" fill="#000" stroke="none" stroke-width="1"/>
<circle cx="130.52" cy="339.79" r="1.9" fill="#000" stroke="none" stroke-width="1"/>
<circle cx="130.99" cy="343.91" r="1.9" fill="#000" stroke="none" stroke-width="1"/>
<circle cx="131.46" cy="347.94" r="1.9" fill="#000" stroke="none" stroke-width="1"/>
<circle cx="131.93" cy="350.90" r="1.9" fill="#000" stroke="none" stroke-width="1"/>
<circle cx="132.39" cy="357.49" r="1.9" fill="#000" stroke="none" stroke-width="1"/>
<circle cx="132.86" cy="356.07" r="1.9" fill="#000" stroke="none" stroke-width="1"/>
<circle cx="133.33" cy="374.66" r="1.9" fill="#000" stroke="none" stroke-width="1"/>
<circle cx="133.80" cy="350.25" r="1.9" fill="#000" stroke="none" stroke-width="1"/>
<circle cx="134.26" cy="349.45" r="1.9" fill="#000" stroke="none" stroke-width="1"/>
<circle cx="134.73" cy="362.76" r="1.9" fill="#000" stroke="none" stroke-width="1"/>
<circle cx="135.20" cy="347.19" r="1.9" fill="#000" stroke="none" stroke-width="1"/>
<circle cx="135.67" cy="339.90" r="1.9" fill="#000" stroke="none" stroke-width="1"/>
<circle cx="136.13" cy="350.37" r="1.9" fill="#000" stroke="none" stroke-width="1"/>
<circle cx="136.60" cy="345.24" r="1.9" fill="#000" stroke="none" stroke-width="1"/>
<circle cx="137.07" cy="347.30" r="1.9" fill="#000" stroke="none" stroke-width="1"/>
<circle cx="137.53" cy="352.75" r="1.9" fill="#000" stroke="none" stroke-width="1"/>
<circle cx="138.00" cy="341.11" r="1.9" fill="#000" stroke="none" stroke-width="1"/>
<circle cx="138.47" cy="347.90" r="1.9" fill="#000" stroke="none" stroke-width="1"/>
<circle cx="138.94" cy="352.31" r="1.9" fill="#000" stroke="none" stroke-width="1"/>
<circle cx="139.41" cy="354.89" r="1.9" fill="#000" stroke="none" stroke-width="1"/>
<circle cx="139.87" cy="337.21" r="1.9" fill="#000" stroke="none" stroke-width="1"/>
<circle cx="140.34" cy="364.76" r="1.9" fill="#000" stroke="none" stroke-width="1"/>
<circle cx="140.81" cy="357.31" r="1.9" fill="#000" stroke="none" stroke-width="1"/>
<circle cx="141.28" cy="341.36" r="1.9" fill="#000" stroke="none" stroke-width="1"/>
<circle cx="141.74" cy="336.90" r="1.9" fill="#000" stroke="none" stroke-width="1"/>
<circle cx="142.21" cy="345.40" r="1.9" fill="#000" stroke="none" stroke-width="1"/>
<circle cx="142.68" cy="328.96" r="1.9" fill="#000" stroke="none" stroke-width="1"/>
<circle cx="143.15" cy="343.77" r="1.9" fill="#000" stroke="none" stroke-width="1"/>
<circle cx="143.61" cy="351.45" r="1.9" fill="#000" stroke="none" stroke-width="1"/>
<circle cx="144.08" cy="346.66" r="1.9" fill="#000" stroke="none" stroke-width="1"/>
<circle cx="144.55" cy="359.19" r="1.9" fill="#000" stroke="none" stroke-width="1"/>
<circle cx="145.01" cy="330.01" r="1.9" fill="#000" stroke="none" stroke-width="1"/>
<circle cx="145.48" cy="352.67" r="1.9" fill="#000" stroke="none" stroke-width="1"/>
<circle cx="145.95" cy="335.44" r="1.9" fill="#000" stroke="none" stroke-width="1"/>
<circle cx="146.42" cy="350.63" r="1.9" fill="#000" stroke="none" stroke-width="1"/>
<circle cx="146.89" cy="333.80" r="1.9" fill="#000" stroke="none" stroke-width="1"/>
<circle cx="147.35" cy="337.00" r="1.9" fill="#000" stroke="none" stroke-width="1"/>
<circle cx="147.82" cy="326.22" r="1.9" fill="#000" stroke="none" stroke-width="1"/>
<circle cx="148.29" cy="321.82" r="1.9" fill="#000" stroke="none" stroke-width="1"/>
<circle cx="148.76" cy="339.14" r="1.9" fill="#000" stroke="none" stroke-width="1"/>
<circle cx="149.22" cy="348.10" r="1.9" fill="#000" stroke="none" stroke-width="1"/>
<circle cx="149.69" cy="342.48" r="1.9" fill="#000" stroke="none" stroke-width="1"/>
<circle cx="150.16" cy="346.53" r="1.9" fill="#000" stroke="none" stroke-width="1"/>
<circle cx="150.62" cy="350.00" r="1.9" fill="#000" stroke="none" stroke-width="1"/>
<circle cx="151.09" cy="345.58" r="1.9" fill="#000" stroke="none" stroke-width="1"/>
<circle cx="151.56" cy="348.53" r="1.9" fill="#000" stroke="none" stroke-width="1"/>
<circle cx="152.03" cy="325.84" r="1.9" fill="#000" stroke="none" stroke-width="1"/>
<circle cx="152.50" cy="332.34" r="1.9" fill="#000" stroke="none" stroke-width="1"/>
<circle cx="152.96" cy="340.46" r="1.9" fill="#000" stroke="none" stroke-width="1"/>
<circle cx="153.43" cy="344.86" r="1.9" fill="#000" stroke="none" stroke-width="1"/>
<circle cx="153.90" cy="334.74" r="1.9" fill="#000" stroke="none" stroke-width="1"/>
<circle cx="154.37" cy="335.85" r="1.9" fill="#000" stroke="none" stroke-width="1"/>
<circle cx="154.83" cy="341.76" r="1.9" fill="#000" stroke="none" stroke-width="1"/>
<circle cx="155.30" cy="332.92" r="1.9" fill="#000" stroke="none" stroke-width="1"/>
<circle cx="155.77" cy="334.51" r="1.9" fill="#000" stroke="none" stroke-width="1"/>
<circle cx="156.23" cy="340.57" r="1.9" fill="#000" stroke="none" stroke-width="1"/>
<circle cx="156.70" cy="332.30" r="1.9" fill="#000" stroke="none" stroke-width="1"/>
<circle cx="157.17" cy="325.81" r="1.9" fill="#000" stroke="none" stroke-width="1"/>
<circle cx="157.64" cy="316.24" r="1.9" fill="#000" stroke="none" stroke-width="1"/>
<circle cx="158.11" cy="329.09" r="1.9" fill="#000" stroke="none" stroke-width="1"/>
<circle cx="158.57" cy="332.85" r="1.9" fill="#000" stroke="none" stroke-width="1"/>
<circle cx="159.04" cy="337.46" r="1.9" fill="#000" stroke="none" stroke-width="1"/>
<circle cx="159.51" cy="325.32" r="1.9" fill="#000" stroke="none" stroke-width="1"/>
<circle cx="159.98" cy="327.40" r="1.9" fill="#000" stroke="none" stroke-width="1"/>
<circle cx="160.44" cy="306.37" r="1.9" fill="#000" stroke="none" stroke-width="1"/>
<circle cx="160.91" cy="316.87" r="1.9" fill="#000" stroke="none" stroke-width="1"/>
<circle cx="161.38" cy="345.28" r="1.9" fill="#000" stroke="none" stroke-width="1"/>
<circle cx="161.84" cy="332.73" r="1.9" fill="#000" stroke="none" stroke-width="1"/>
<circle cx="162.31" cy="345.89" r="1.9" fill="#000" stroke="none" stroke-width="1"/>
<circle cx="162.78" cy="304.43" r="1.9" fill="#000" stroke="none" stroke-width="1"/>
<circle cx="163.25" cy="343.10" r="1.9" fill="#000" stroke="none" stroke-width="1"/>
<circle cx="163.72" cy="320.64" r="1.9" fill="#000" stroke="none" stroke-width="1"/>
<circle cx="164.18" cy="345.09" r="1.9" fill="#000" stroke="none" stroke-width="1"/>
<circle cx="164.65" cy="356.23" r="1.9" fill="#000" stroke="none" stroke-width="1"/>
<circle cx="165.12" cy="309.26" r="1.9" fill="#000" stroke="none" stroke-width="1"/>
<circle cx="165.59" cy="312.37" r="1.9" fill="#000" stroke="none" stroke-width="1"/>
<circle cx="166.05" cy="309.18" r="1.9" fill="#000" stroke="none" stroke-width="1"/>
<circle cx="166.52" cy="335.30" r="1.9" fill="#000" stroke="none" stroke-width="1"/>
<circle cx="166.99" cy="305.52" r="1.9" fill="#000" stroke="none" stroke-width="1"/>
<circle cx="167.45" cy="303.78" r="1.9" fill="#000" stroke="none" stroke-width="1"/>
<circle cx="167.92" cy="335.85" r="1.9" fill="#000" stroke="none" stroke-width="1"/>
<circle cx="168.39" cy="312.94" r="1.9" fill="#000" stroke="none" stroke-width="1"/>
<circle cx="168.86" cy="328.23" r="1.9" fill="#000" stroke="none" stroke-width="1"/>
<circle cx="169.33" cy="313.69" r="1.9" fill="#000" stroke="none" stroke-width="1"/>
<circle cx="169.79" cy="341.90" r="1.9" fill="#000" stroke="none" stroke-width="1"/>
<circle cx="170.26" cy="337.97" r="1.9" fill="#000" stroke="none" stroke-width="1"/>
<circle cx="170.73" cy="342.50" r="1.9" fill="#000" stroke="none" stroke-width="1"/>
<circle cx="171.20" cy="308.31" r="1.9" fill="#000" stroke="none" stroke-width="1"/>
<circle cx="171.66" cy="328.66" r="1.9" fill="#000" stroke="none" stroke-width="1"/>
<circle cx="172.13" cy="307.03" r="1.9" fill="#000" stroke="none" stroke-width="1"/>
<circle cx="172.60" cy="317.94" r="1.9" fill="#000" stroke="none" stroke-width="1"/>
<circle cx="173.06" cy="316.11" r="1.9" fill="#000" stroke="none" stroke-width="1"/>
<circle cx="173.53" cy="325.52" r="1.9" fill="#000" stroke="none" stroke-width="1"/>
<circle cx="174.00" cy="312.37" r="1.9" fill="#000" stroke="none" stroke-width="1"/>
<circle cx="174.47" cy="315.65" r="1.9" fill="#000" stroke="none" stroke-width="1"/>
<circle cx="174.94" cy="335.32" r="1.9" fill="#000" stroke="none" stroke-width="1"/>
<circle cx="175.40" cy="328.65" r="1.9" fill="#000" stroke="none" stroke-width="1"/>
<circle cx="175.87" cy="308.28" r="1.9" fill="#000" stroke="none" stroke-width="1"/>
<circle cx="176.34" cy="324.96" r="1.9" fill="#000" stroke="none" stroke-width="1"/>
<circle cx="176.81" cy="320.69" r="1.9" fill="#000" stroke="none" stroke-width="1"/>
<circle cx="177.27" cy="317.99" r="1.9" fill="#000" stroke="none" stroke-width="1"/>
<circle cx="177.74" cy="346.32" r="1.9" fill="#000" stroke="none" stroke-width="1"/>
<circle cx="178.21" cy="315.91" r="1.9" fill="#000" stroke="none" stroke-width="1"/>
<circle cx="178.67" cy="324.01" r="1.9" fill="#000" stroke="none" stroke-width="1"/>
<circle cx="179.14" cy="329.73" r="1.9" fill="#000" stroke="none" stroke-width="1"/>
<circle cx="179.61" cy="311.73" r="1.9" fill="#000" stroke="none" stroke-width="1"/>
<circle cx="180.08" cy="312.98" r="1.9" fill="#000" stroke="none" stroke-width="1"/>
<circle cx="180.55" cy="330.52" r="1.9" fill="#000" stroke="none" stroke-width="1"/>
<circle cx="181.01" cy="299.24" r="1.9" fill="#000" stroke="none" stroke-width="1"/>
<circle cx="181.48" cy="286.54" r="1.9" fill="#000" stroke="none" stroke-width="1"/>
<circle cx="181.95" cy="319.63" r="1.9" fill="#000" stroke="none" stroke-width="1"/>
<circle cx="182.42" cy="303.83" r="1.9" fill="#000" stroke="none" stroke-width="1"/>
<circle cx="182.88" cy="303.05" r="1.9" fill="#000" stroke="none" stroke-width="1"/>
<circle cx="183.35" cy="325.57" r="1.9" fill="#000" stroke="none" stroke-width="1"/>
<circle cx="183.82" cy="313.83" r="1.9" fill="#000" stroke="none" stroke-width="1"/>
<circle cx="184.28" cy="340.59" r="1.9" fill="#000" stroke="none" stroke-width="1"/>
<circle cx="184.75" cy="320.29" r="1.9" fill="#000" stroke="none" stroke-width="1"/>
<circle cx="185.22" cy="322.29" r="1.9" fill="#000" stroke="none" stroke-width="1"/>
<circle cx="185.69" cy="315.02" r="1.9" fill="#000" stroke="none" stroke-width="1"/>
<circle cx="186.16" cy="323.09" r="1.9" fill="#000" stroke="none" stroke-width="1"/>
<circle cx="186.62" cy="312.03" r="1.9" fill="#000" stroke="none" stroke-width="1"/>
<circle cx="187.09" cy="310.10" r="1.9" fill="#000" stroke="none" stroke-width="1"/>
<circle cx="187.56" cy="308.92" r="1.9" fill="#000" stroke="none" stroke-width="1"/>
<circle cx="188.03" cy="291.42" r="1.9" fill="#000" stroke="none" stroke-width="1"/>
<circle cx="188.49" cy="293.49" r="1.9" fill="#000" stroke="none" stroke-width="1"/>
<circle cx="188.96" cy="313.90" r="1.9" fill="#000" stroke="none" stroke-width="1"/>
<circle cx="189.43" cy="304.25" r="1.9" fill="#000" stroke="none" stroke-width="1"/>
<circle cx="189.90" cy="305.86" r="1.9" fill="#000" stroke="none" stroke-width="1"/>
<circle cx="190.36" cy="309.61" r="1.9" fill="#000" stroke="none" stroke-width="1"/>
<circle cx="190.83" cy="299.46" r="1.9" fill="#000" stroke="none" stroke-width="1"/>
<circle cx="191.30" cy="300.38" r="1.9" fill="#000" stroke="none" stroke-width="1"/>
<circle cx="191.77" cy="329.40" r="1.9" fill="#000" stroke="none" stroke-width="1"/>
<circle cx="192.23" cy="305.19" r="1.9" fill="#000" stroke="none" stroke-width="1"/>
<circle cx="192.70" cy="306.57" r="1.9" fill="#000" stroke="none" stroke-width="1"/>
<circle cx="193.17" cy="306.53" r="1.9" fill="#000" stroke="none" stroke-width="1"/>
<circle cx="193.63" cy="299.82" r="1.9" fill="#000" stroke="none" stroke-width="1"/>
<circle cx="194.10" cy="317.49" r="1.9" fill="#000" stroke="none" stroke-width="1"/>
<circle cx="194.57" cy="322.30" r="1.9" fill="#000" stroke="none" stroke-width="1"/>
<circle cx="195.04" cy="299.60" r="1.9" fill="#000" stroke="none" stroke-width="1"/>
<circle cx="195.50" cy="313.82" r="1.9" fill="#000" stroke="none" stroke-width="1"/>
<circle cx="195.97" cy="327.65" r="1.9" fill="#000" stroke="none" stroke-width="1"/>
<circle cx="196.44" cy="321.69" r="1.9" fill="#000" stroke="none" stroke-width="1"/>
<circle cx="196.91" cy="296.53" r="1.9" fill="#000" stroke="none" stroke-width="1"/>
<circle cx="197.38" cy="292.04" r="1.9" fill="#000" stroke="none" stroke-width="1"/>
<circle cx="197.84" cy="323.69" r="1.9" fill="#000" stroke="none" stroke-width="1"/>
<circle cx="198.31" cy="303.97" r="1.9" fill="#000" stroke="none" stroke-width="1"/>
<circle cx="198.78" cy="313.62" r="1.9" fill="#000" stroke="none" stroke-width="1"/>
<circle cx="199.25" cy="304.74" r="1.9" fill="#000" stroke="none" stroke-width="1"/>
<circle cx="199.71" cy="310.10" r="1.9" fill="#000" stroke="none" stroke-width="1"/>
<circle cx="200.18" cy="329.10" r="1.9" fill="#000" stroke="none" stroke-width="1"/>
<circle cx="200.65" cy="333.69" r="1.9" fill="#000" stroke="none" stroke-width="1"/>
<circle cx="201.12" cy="291.38" r="1.9" fill="#000" stroke="none" stroke-width="1"/>
<circle cx="201.58" cy="343.25" r="1.9" fill="#000" stroke="none" stroke-width="1"/>
<circle cx="202.05" cy="313.49" r="1.9" fill="#000" stroke="none" stroke-width="1"/>
<circle cx="202.52" cy="288.09" r="1.9" fill="#000" stroke="none" stroke-width="1"/>
<circle cx="202.99" cy="323.86" r="1.9" fill="#000" stroke="none" stroke-width="1"/>
<circle cx="203.45" cy="305.49" r="1.9" fill="#000" stroke="none" stroke-width="1"/>
<circle cx="203.92" cy="317.16" r="1.9" fill="#000" stroke="none" stroke-width="1"/>
<circle cx="204.39" cy="306.37" r="1.9" fill="#000" stroke="none" stroke-width="1"/>
<circle cx="204.85" cy="309.30" r="1.9" fill="#000" stroke="none" stroke-width="1"/>
<circle cx="205.32" cy="303.10" r="1.9" fill="#000" stroke="none" stroke-width="1"/>
<circle cx="205.79" cy="278.07" r="1.9" fill="#000" stroke="none" stroke-width="1"/>
<circle cx="206.26" cy="298.52" r="1.9" fill="#000" stroke="none" stroke-width="1"/>
<circle cx="206.73" cy="320.53" r="1.9" fill="#000" stroke="none" stroke-width="1"/>
<circle cx="207.19" cy="297.83" r="1.9" fill="#000" stroke="none" stroke-width="1"/>
<circle cx="207.66" cy="286.19" r="1.9" fill="#000" stroke="none" stroke-width="1"/>
<circle cx="208.13" cy="284.09" r="1.9" fill="#000" stroke="none" stroke-width="1"/>
<circle cx="208.59" cy="319.84" r="1.9" fill="#000" stroke="none" stroke-width="1"/>
<circle cx="209.06" cy="295.44" r="1.9" fill="#000" stroke="none" stroke-width="1"/>
<circle cx="209.53" cy="339.28" r="1.9" fill="#000" stroke="none" stroke-width="1"/>
<circle cx="210.00" cy="300.14" r="1.9" fill="#000" stroke="none" stroke-width="1"/>
<circle cx="210.47" cy="289.64" r="1.9" fill="#000" stroke="none" stroke-width="1"/>
<circle cx="210.93" cy="287.82" r="1.9" fill="#000" stroke="none" stroke-width="1"/>
<circle cx="211.40" cy="306.99" r="1.9" fill="#000" stroke="none" stroke-width="1"/>
<circle cx="211.87" cy="311.99" r="1.9" fill="#000" stroke="none" stroke-width="1"/>
<circle cx="212.34" cy="319.63" r="1.9" fill="#000" stroke="none" stroke-width="1"/>
<circle cx="212.80" cy="282.70" r="1.9" fill="#000" stroke="none" stroke-width="1"/>
<circle cx="213.27" cy="288.36" r="1.9" fill="#000" stroke="none" stroke-width="1"/>
<circle cx="213.74" cy="327.28" r="1.9" fill="#000" stroke="none" stroke-width="1"/>
<circle cx="214.21" cy="274.26" r="1.9" fill="#000" stroke="none" stroke-width="1"/>
<circle cx="214.67" cy="279.87" r="1.9" fill="#000" stroke="none" stroke-width="1"/>
<circle cx="215.14" cy="317.55" r="1.9" fill="#000" stroke="none" stroke-width="1"/>
<circle cx="215.61" cy="313.05" r="1.9" fill="#000" stroke="none" stroke-width="1"/>
<circle cx="216.07" cy="298.21" r="1.9" fill="#000" stroke="none" stroke-width="1"/>
<circle cx="216.54" cy="285.67" r="1.9" fill="#000" stroke="none" stroke-width="1"/>
<circle cx="217.01" cy="310.51" r="1.9" fill="#000" stroke="none" stroke-width="1"/>
<circle cx="217.48" cy="333.40" r="1.9" fill="#000" stroke="none" stroke-width="1"/>
<circle cx="217.95" cy="308.16" r="1.9" fill="#000" stroke="none" stroke-width="1"/>
<circle cx="218.41" cy="287.39" r="1.9" fill="#000" stroke="none" stroke-width="1"/>
<circle cx="218.88" cy="304.31" r="1.9" fill="#000" stroke="none" stroke-width="1"/>
<circle cx="219.35" cy="316.13" r="1.9" fill="#000" stroke="none" stroke-width="1"/>
<circle cx="219.81" cy="309.02" r="1.9" fill="#000" stroke="none" stroke-width="1"/>
<circle cx="220.28" cy="307.89" r="1.9" fill="#000" stroke="none" stroke-width="1"/>
<circle cx="220.75" cy="275.56" r="1.9" fill="#000" stroke="none" stroke-width="1"/>
<circle cx="221.22" cy="291.82" r="1.9" fill="#000" stroke="none" stroke-width="1"/>
<circle cx="221.69" cy="319.81" r="1.9" fill="#000" stroke="none" stroke-width="1"/>
<circle cx="222.15" cy="305.83" r="1.9" fill="#000" stroke="none" stroke-width="1"/>
<circle cx="222.62" cy="306.97" r="1.9" fill="#000" stroke="none" stroke-width="1"/>
<circle cx="223.09" cy="294.94" r="1.9" fill="#000" stroke="none" stroke-width="1"/>
<circle cx="223.56" cy="293.35" r="1.9" fill="#000" stroke="none" stroke-width="1"/>
<circle cx="224.02" cy="287.64" r="1.9" fill="#000" stroke="none" stroke-width="1"/>
<circle cx="224.49" cy="291.89" r="1.9" fill="#000" stroke="none" stroke-width="1"/>
<circle cx="224.96" cy="290.96" r="1.9" fill="#000" stroke="none" stroke-width="1"/>
<circle cx="225.43" cy="292.21" r="1.9" fill="#000" stroke="none" stroke-width="1"/>
<circle cx="225.89" cy="303.29" r="1.9" fill="#000" stroke="none" stroke-width="1"/>
<circle cx="226.36" cy="298.57" r="1.9" fill="#000" stroke="none" stroke-width="1"/>
<circle cx="226.83" cy="294.69" r="1.9" fill="#000" stroke="none" stroke-width="1"/>
<circle cx="227.29" cy="309.92" r="1.9" fill="#000" stroke="none" stroke-width="1"/>
<circle cx="227.76" cy="280.77" r="1.9" fill="#000" stroke="none" stroke-width="1"/>
<circle cx="228.23" cy="292.42" r="1.9" fill="#000" stroke="none" stroke-width="1"/>
<circle cx="228.70" cy="269.90" r="1.9" fill="#000" stroke="none" stroke-width="1"/>
<circle cx="229.17" cy="305.85" r="1.9" fill="#000" stroke="none" stroke-width="1"/>
<circle cx="229.63" cy="290.79" r="1.9" fill="#000" stroke="none" stroke-width="1"/>
<circle cx="230.10" cy="297.12" r="1.9" fill="#000" stroke="none" stroke-width="1"/>
<circle cx="230.57" cy="296.76" r="1.9" fill="#000" stroke="none" stroke-width="1"/>
<circle cx="231.03" cy="260.39" r="1.9" fill="#000" stroke="none" stroke-width="1"/>
<circle cx="231.50" cy="300.86" r="1.9" fill="#000" stroke="none" stroke-width="1"/>
<circle cx="231.97" cy="321.21" r="1.9" fill="#000" stroke="none" stroke-width="1"/>
<circle cx="232.44" cy="289.33" r="1.9" fill="#000" stroke="none" stroke-width="1"/>
<circle cx="232.90" cy="297.75" r="1.9" fill="#000" stroke="none" stroke-width="1"/>
<circle cx="233.37" cy="314.63" r="1.9" fill="#000" stroke="none" stroke-width="1"/>
<circle cx="233.84" cy="296.74" r="1.9" fill="#000" stroke="none" stroke-width="1"/>
<circle cx="234.31" cy="278.14" r="1.9" fill="#000" stroke="none" stroke-width="1"/>
<circle cx="234.78" cy="276.92" r="1.9" fill="#000" stroke="none" stroke-width="1"/>
<circle cx="235.24" cy="301.84" r="1.9" fill="#000" stroke="none" stroke-width="1"/>
<circle cx="235.71" cy="287.83" r="1.9" fill="#000" stroke="none" stroke-width="1"/>
<circle cx="236.18" cy="299.30" r="1.9" fill="#000" stroke="none" stroke-width="1"/>
<circle cx="236.65" cy="290.01" r="1.9" fill="#000" stroke="none" stroke-width="1"/>
<circle cx="237.11" cy="322.58" r="1.9" fill="#000" stroke="none" stroke-width="1"/>
<circle cx="237.58" cy="314.31" r="1.9" fill="#000" stroke="none" stroke-width="1"/>
<circle cx="238.05" cy="310.02" r="1.9" fill="#000" stroke="none" stroke-width="1"/>
<circle cx="238.51" cy="308.70" r="1.9" fill="#000" stroke="none" stroke-width="1"/>
<circle cx="238.98" cy="329.89" r="1.9" fill="#000" stroke="none" stroke-width="1"/>
<circle cx="239.45" cy="284.90" r="1.9" fill="#000" stroke="none" stroke-width="1"/>
<circle cx="239.92" cy="290.62" r="1.9" fill="#000" stroke="none" stroke-width="1"/>
<circle cx="240.39" cy="321.60" r="1.9" fill="#000" stroke="none" stroke-width="1"/>
<circle cx="240.85" cy="307.09" r="1.9" fill="#000" stroke="none" stroke-width="1"/>
<circle cx="241.32" cy="314.68" r="1.9" fill="#000" stroke="none" stroke-width="1"/>
<circle cx="241.79" cy="273.94" r="1.9" fill="#000" stroke="none" stroke-width="1"/>
<circle cx="242.25" cy="317.25" r="1.9" fill="#000" stroke="none" stroke-width="1"/>
<circle cx="242.72" cy="322.83" r="1.9" fill="#000" stroke="none" stroke-width="1"/>
<circle cx="243.19" cy="277.04" r="1.9" fill="#000" stroke="none" stroke-width="1"/>
<circle cx="243.66" cy="288.32" r="1.9" fill="#000" stroke="none" stroke-width="1"/>
<circle cx="244.12" cy="325.93" r="1.9" fill="#000" stroke="none" stroke-width="1"/>
<circle cx="244.59" cy="286.85" r="1.9" fill="#000" stroke="none" stroke-width="1"/>
<circle cx="245.06" cy="305.22" r="1.9" fill="#000" stroke="none" stroke-width="1"/>
<circle cx="245.53" cy="313.41" r="1.9" fill="#000" stroke="none" stroke-width="1"/>
<circle cx="246.00" cy="306.63" r="1.9" fill="#000" stroke="none" stroke-width="1"/>
<circle cx="246.46" cy="312.59" r="1.9" fill="#000" stroke="none" stroke-width="1"/>
<circle cx="246.93" cy="290.52" r="1.9" fill="#000" stroke="none" stroke-width="1"/>
<circle cx="247.40" cy="284.64" r="1.9" fill="#000" stroke="none" stroke-width="1"/>
<circle cx="247.87" cy="320.80" r="1.9" fill="#000" stroke="none" stroke-width="1"/>
<circle cx="248.33" cy="285.44" r="1.9" fill="#000" stroke="none" stroke-width="1"/>
<circle cx="248.80" cy="302.93" r="1.9" fill="#000" stroke="none" stroke-width="1"/>
<circle cx="249.27" cy="310.73" r="1.9" fill="#000" stroke="none" stroke-width="1"/>
<circle cx="249.73" cy="302.11" r="1.9" fill="#000" stroke="none" stroke-width="1"/>
<circle cx="250.20" cy="304.57" r="1.9" fill="#000" stroke="none" stroke-width="1"/>
<circle cx="250.67" cy="301.09" r="1.9" fill="#000" stroke="none" stroke-width="1"/>
<circle cx="251.14" cy="295.98" r="1.9" fill="#000" stroke="none" stroke-width="1"/>
<circle cx="251.61" cy="313.70" r="1.9" fill="#000" stroke="none" stroke-width="1"/>
<circle cx="252.07" cy="307.44" r="1.9" fill="#000" stroke="none" stroke-width="1"/>
<circle cx="252.54" cy="280.60" r="1.9" fill="#000" stroke="none" stroke-width="1"/>
<circle cx="253.01" cy="320.03" r="1.9" fill="#000" stroke="none" stroke-width="1"/>
<circle cx="253.47" cy="298.39" r="1.9" fill="#000" stroke="none" stroke-width="1"/>
<circle cx="253.94" cy="323.92" r="1.9" fill="#000" stroke="none" stroke-width="1"/>
<circle cx="254.41" cy="306.49" r="1.9" fill="#000" stroke="none" stroke-width="1"/>
<circle cx="254.88" cy="293.52" r="1.9" fill="#000" stroke="none" stroke-width="1"/>
<circle cx="255.34" cy="284.36" r="1.9" fill="#000" stroke="none" stroke-width="1"/>
<circle cx="255.81" cy="285.59" r="1.9" fill="#000" stroke="none" stroke-width="1"/>
<circle cx="256.28" cy="291.87" r="1.9" fill="#000" stroke="none" stroke-width="1"/>
<circle cx="256.75" cy="289.90" r="1.9" fill="#000" stroke="none" stroke-width="1"/>
<circle cx="257.22" cy="281.13" r="1.9" fill="#000" stroke="none" stroke-width="1"/>
<circle cx="257.68" cy="296.61" r="1.9" fill="#000" stroke="none" stroke-width="1"/>
<circle cx="258.15" cy="289.21" r="1.9" fill="#000" stroke="none" stroke-width="1"/>
<circle cx="258.62" cy="313.10" r="1.9" fill="#000" stroke="none" stroke-width="1"/>
<circle cx="259.09" cy="286.65" r="1.9" fill="#000" stroke="none" stroke-width="1"/>
<circle cx="259.55" cy="287.05" r="1.9" fill="#000" stroke="none" stroke-width="1"/>
<circle cx="260.02" cy="290.74" r="1.9" fill="#000" stroke="none" stroke-width="1"/>
<circle cx="260.49" cy="286.37" r="1.9" fill="#000" stroke="none" stroke-width="1"/>
<circle cx="260.95" cy="288.63" r="1.9" fill="#000" stroke="none" stroke-width="1"/>
<circle cx="261.42" cy="298.21" r="1.9" fill="#000" stroke="none" stroke-width="1"/>
<circle cx="261.89" cy="318.15" r="1.9" fill="#000" stroke="none" stroke-width="1"/>
<circle cx="262.36" cy="287.45" r="1.9" fill="#000" stroke="none" stroke-width="1"/>
<circle cx="262.83" cy="295.26" r="1.9" fill="#000" stroke="none" stroke-width="1"/>
<circle cx="263.29" cy="303.48" r="1.9" fill="#000" stroke="none" stroke-width="1"/>
<circle cx="263.76" cy="296.92" r="1.9" fill="#000" stroke="none" stroke-width="1"/>
<circle cx="264.23" cy="298.88" r="1.9" fill="#000" stroke="none" stroke-width="1"/>
<circle cx="264.69" cy="307.74" r="1.9" fill="#000" stroke="none" stroke-width="1"/>
<circle cx="265.16" cy="299.30" r="1.9" fill="#000" stroke="none" stroke-width="1"/>
<circle cx="265.63" cy="313.98" r="1.9" fill="#000" stroke="none" stroke-width="1"/>
<circle cx="266.10" cy="278.35" r="1.9" fill="#000" stroke="none" stroke-width="1"/>
<circle cx="266.56" cy="316.00" r="1.9" fill="#000" stroke="none" stroke-width="1"/>
<circle cx="267.03" cy="283.74" r="1.9" fill="#000" stroke="none" stroke-width="1"/>
<rect x="76.40" y="340.40" width="19.60" height="9.60" fill="#aa0000"/>
<line x1="76.10" y1="332.40" x2="95.80" y2="332.40" stroke="#4a4a4a" stroke-width="0.8"/>
<line x1="81.00" y1="332.40" x2="91.00" y2="332.40" stroke="#4a4a4a" stroke-width="1.3"/>
<polyline points="83.5,332.5 83.8,332.1 84.2,333.1 84.6,331.0 84.9,334.8 85.3,328.9 85.6,336.8 86.0,327.6 86.4,336.8 86.7,328.9 87.1,334.8 87.4,331.0 87.8,333.1 88.2,332.1 88.5,332.5" stroke="#555" stroke-width="0.75" fill="none" stroke-linejoin="round" stroke-linecap="round"/>
<circle cx="73.10" cy="235.40" r="2.6" fill="#000" stroke="none" stroke-width="1"/>
<circle cx="73.10" cy="257.40" r="2.3" fill="#fff" stroke="#000" stroke-width="0.75"/>
<text x="87.2" y="240.0" font-size="13.5" text-anchor="start" fill="#000">Test</text>
<text x="87.2" y="261.9" font-size="13.5" text-anchor="start" fill="#000">Control</text>
<line x1="307.70" y1="229.90" x2="307.70" y2="386.30" stroke="#7a7a7a" stroke-width="0.9"/>
<line x1="305.50" y1="386.30" x2="307.70" y2="386.30" stroke="#7a7a7a" stroke-width="0.9"/>
<text x="304.7" y="390.1" font-size="12.8" text-anchor="end" fill="#000">0</text>
<line x1="305.50" y1="347.20" x2="307.70" y2="347.20" stroke="#7a7a7a" stroke-width="0.9"/>
<text x="304.7" y="351.0" font-size="12.8" text-anchor="end" fill="#000">1</text>
<line x1="305.50" y1="308.10" x2="307.70" y2="308.10" stroke="#7a7a7a" stroke-width="0.9"/>
<text x="304.7" y="311.9" font-size="12.8" text-anchor="end" fill="#000">2</text>
<line x1="305.50" y1="269.00" x2="307.70" y2="269.00" stroke="#7a7a7a" stroke-width="0.9"/>
<text x="304.7" y="272.8" font-size="12.8" text-anchor="end" fill="#000">3</text>
<line x1="305.50" y1="229.90" x2="307.70" y2="229.90" stroke="#7a7a7a" stroke-width="0.9"/>
<text x="304.7" y="233.7" font-size="12.8" text-anchor="end" fill="#000">4</text>
<line x1="307.70" y1="386.30" x2="523.40" y2="386.30" stroke="#a0a0a0" stroke-width="1.2"/>
<line x1="307.40" y1="386.30" x2="307.40" y2="388.50" stroke="#a0a0a0" stroke-width="1.2"/>
<text x="308.7" y="399.3" font-size="12.8" text-anchor="middle" fill="#000">0</text>
<line x1="361.40" y1="386.30" x2="361.40" y2="388.50" stroke="#a0a0a0" stroke-width="1.2"/>
<text x="362.7" y="399.3" font-size="12.8" text-anchor="middle" fill="#000">10</text>
<line x1="415.40" y1="386.30" x2="415.40" y2="388.50" stroke="#a0a0a0" stroke-width="1.2"/>
<text x="416.7" y="399.3" font-size="12.8" text-anchor="middle" fill="#000">20</text>
<line x1="469.40" y1="386.30" x2="469.40" y2="388.50" stroke="#a0a0a0" stroke-width="1.2"/>
<text x="470.7" y="399.3" font-size="12.8" text-anchor="middle" fill="#000">30</text>
<line x1="523.40" y1="386.30" x2="523.40" y2="388.50" stroke="#a0a0a0" stroke-width="1.2"/>
<text x="524.7" y="399.3" font-size="12.8" text-anchor="middle" fill="#000">40</text>
<text x="290.1" y="308.1" font-size="13.2" text-anchor="middle" fill="#000" transform="rotate(-90 290.1 308.1)">Normalised EPSC Amplitude</text>
<text x="423.5" y="413.8" font-size="13.2" text-anchor="middle" fill="#000">Time (min)</text>
<line x1="308.48" y1="347.20" x2="525.02" y2="347.20" stroke="#555" stroke-width="0.7" stroke-dasharray="0.8,2.2"/>
<line x1="307.70" y1="368.90" x2="333.60" y2="368.90" stroke="#000" stroke-width="1.6"/>
<line x1="498.20" y1="368.40" x2="523.40" y2="368.40" stroke="#f00000" stroke-width="1.6"/>
<rect x="341.30" y="342.40" width="18.70" height="9.20" fill="#aa0000"/>
<line x1="341.30" y1="334.40" x2="359.70" y2="334.40" stroke="#4a4a4a" stroke-width="0.8"/>
<line x1="345.50" y1="334.40" x2="355.50" y2="334.40" stroke="#4a4a4a" stroke-width="1.3"/>
<polyline points="348.0,334.5 348.3,334.1 348.7,335.1 349.1,333.0 349.4,336.8 349.8,330.9 350.1,338.8 350.5,329.6 350.9,338.8 351.2,330.9 351.6,336.8 351.9,333.0 352.3,335.1 352.7,334.1 353.0,334.5" stroke="#555" stroke-width="0.75" fill="none" stroke-linejoin="round" stroke-linecap="round"/>
<line x1="312.37" y1="346.42" x2="312.37" y2="350.33" stroke="#888" stroke-width="0.8"/>
<line x1="310.27" y1="346.42" x2="314.47" y2="346.42" stroke="#888" stroke-width="0.8"/>
<line x1="310.27" y1="350.33" x2="314.47" y2="350.33" stroke="#888" stroke-width="0.8"/>
<line x1="317.77" y1="345.25" x2="317.77" y2="349.15" stroke="#666" stroke-width="0.8"/>
<line x1="315.67" y1="345.25" x2="319.87" y2="345.25" stroke="#666" stroke-width="0.8"/>
<line x1="315.67" y1="349.15" x2="319.87" y2="349.15" stroke="#666" stroke-width="0.8"/>
<line x1="323.17" y1="345.25" x2="323.17" y2="349.15" stroke="#888" stroke-width="0.8"/>
<line x1="321.07" y1="345.25" x2="325.27" y2="345.25" stroke="#888" stroke-width="0.8"/>
<line x1="321.07" y1="349.15" x2="325.27" y2="349.15" stroke="#888" stroke-width="0.8"/>
<line x1="328.57" y1="346.03" x2="328.57" y2="349.94" stroke="#666" stroke-width="0.8"/>
<line x1="326.47" y1="346.03" x2="330.67" y2="346.03" stroke="#666" stroke-width="0.8"/>
<line x1="326.47" y1="349.94" x2="330.67" y2="349.94" stroke="#666" stroke-width="0.8"/>
<line x1="333.97" y1="347.20" x2="333.97" y2="351.11" stroke="#888" stroke-width="0.8"/>
<line x1="331.87" y1="347.20" x2="336.07" y2="347.20" stroke="#888" stroke-width="0.8"/>
<line x1="331.87" y1="351.11" x2="336.07" y2="351.11" stroke="#888" stroke-width="0.8"/>
<line x1="366.37" y1="340.69" x2="366.37" y2="351.36" stroke="#666" stroke-width="0.8"/>
<line x1="364.27" y1="340.69" x2="368.47" y2="340.69" stroke="#666" stroke-width="0.8"/>
<line x1="364.27" y1="351.36" x2="368.47" y2="351.36" stroke="#666" stroke-width="0.8"/>
<line x1="371.77" y1="347.20" x2="371.77" y2="358.15" stroke="#888" stroke-width="0.8"/>
<line x1="369.67" y1="347.20" x2="373.87" y2="347.20" stroke="#888" stroke-width="0.8"/>
<line x1="369.67" y1="358.15" x2="373.87" y2="358.15" stroke="#888" stroke-width="0.8"/>
<line x1="377.17" y1="342.90" x2="377.17" y2="351.50" stroke="#666" stroke-width="0.8"/>
<line x1="375.07" y1="342.90" x2="379.27" y2="342.90" stroke="#666" stroke-width="0.8"/>
<line x1="375.07" y1="351.50" x2="379.27" y2="351.50" stroke="#666" stroke-width="0.8"/>
<line x1="382.57" y1="342.74" x2="382.57" y2="351.66" stroke="#888" stroke-width="0.8"/>
<line x1="380.47" y1="342.74" x2="384.67" y2="342.74" stroke="#888" stroke-width="0.8"/>
<line x1="380.47" y1="351.66" x2="384.67" y2="351.66" stroke="#888" stroke-width="0.8"/>
<line x1="387.97" y1="341.44" x2="387.97" y2="352.96" stroke="#666" stroke-width="0.8"/>
<line x1="385.87" y1="341.44" x2="390.07" y2="341.44" stroke="#666" stroke-width="0.8"/>
<line x1="385.87" y1="352.96" x2="390.07" y2="352.96" stroke="#666" stroke-width="0.8"/>
<line x1="393.37" y1="340.28" x2="393.37" y2="351.77" stroke="#888" stroke-width="0.8"/>
<line x1="391.27" y1="340.28" x2="395.47" y2="340.28" stroke="#888" stroke-width="0.8"/>
<line x1="391.27" y1="351.77" x2="395.47" y2="351.77" stroke="#888" stroke-width="0.8"/>
<line x1="398.77" y1="341.03" x2="398.77" y2="352.59" stroke="#666" stroke-width="0.8"/>
<line x1="396.67" y1="341.03" x2="400.87" y2="341.03" stroke="#666" stroke-width="0.8"/>
<line x1="396.67" y1="352.59" x2="400.87" y2="352.59" stroke="#666" stroke-width="0.8"/>
<line x1="404.17" y1="341.89" x2="404.17" y2="352.51" stroke="#888" stroke-width="0.8"/>
<line x1="402.07" y1="341.89" x2="406.27" y2="341.89" stroke="#888" stroke-width="0.8"/>
<line x1="402.07" y1="352.51" x2="406.27" y2="352.51" stroke="#888" stroke-width="0.8"/>
<line x1="409.57" y1="344.37" x2="409.57" y2="356.28" stroke="#666" stroke-width="0.8"/>
<line x1="407.47" y1="344.37" x2="411.67" y2="344.37" stroke="#666" stroke-width="0.8"/>
<line x1="407.47" y1="356.28" x2="411.67" y2="356.28" stroke="#666" stroke-width="0.8"/>
<line x1="414.97" y1="339.15" x2="414.97" y2="351.34" stroke="#888" stroke-width="0.8"/>
<line x1="412.87" y1="339.15" x2="417.07" y2="339.15" stroke="#888" stroke-width="0.8"/>
<line x1="412.87" y1="351.34" x2="417.07" y2="351.34" stroke="#888" stroke-width="0.8"/>
<line x1="420.37" y1="341.01" x2="420.37" y2="353.39" stroke="#666" stroke-width="0.8"/>
<line x1="418.27" y1="341.01" x2="422.47" y2="341.01" stroke="#666" stroke-width="0.8"/>
<line x1="418.27" y1="353.39" x2="422.47" y2="353.39" stroke="#666" stroke-width="0.8"/>
<line x1="425.77" y1="338.53" x2="425.77" y2="349.61" stroke="#888" stroke-width="0.8"/>
<line x1="423.67" y1="338.53" x2="427.87" y2="338.53" stroke="#888" stroke-width="0.8"/>
<line x1="423.67" y1="349.61" x2="427.87" y2="349.61" stroke="#888" stroke-width="0.8"/>
<line x1="431.17" y1="333.98" x2="431.17" y2="346.34" stroke="#666" stroke-width="0.8"/>
<line x1="429.07" y1="333.98" x2="433.27" y2="333.98" stroke="#666" stroke-width="0.8"/>
<line x1="429.07" y1="346.34" x2="433.27" y2="346.34" stroke="#666" stroke-width="0.8"/>
<line x1="436.57" y1="333.92" x2="436.57" y2="346.40" stroke="#888" stroke-width="0.8"/>
<line x1="434.47" y1="333.92" x2="438.67" y2="333.92" stroke="#888" stroke-width="0.8"/>
<line x1="434.47" y1="346.40" x2="438.67" y2="346.40" stroke="#888" stroke-width="0.8"/>
<line x1="441.97" y1="331.58" x2="441.97" y2="345.62" stroke="#666" stroke-width="0.8"/>
<line x1="439.87" y1="331.58" x2="444.07" y2="331.58" stroke="#666" stroke-width="0.8"/>
<line x1="439.87" y1="345.62" x2="444.07" y2="345.62" stroke="#666" stroke-width="0.8"/>
<line x1="447.37" y1="332.84" x2="447.37" y2="348.26" stroke="#888" stroke-width="0.8"/>
<line x1="445.27" y1="332.84" x2="449.47" y2="332.84" stroke="#888" stroke-width="0.8"/>
<line x1="445.27" y1="348.26" x2="449.47" y2="348.26" stroke="#888" stroke-width="0.8"/>
<line x1="452.77" y1="330.04" x2="452.77" y2="345.59" stroke="#666" stroke-width="0.8"/>
<line x1="450.67" y1="330.04" x2="454.87" y2="330.04" stroke="#666" stroke-width="0.8"/>
<line x1="450.67" y1="345.59" x2="454.87" y2="345.59" stroke="#666" stroke-width="0.8"/>
<line x1="458.17" y1="335.43" x2="458.17" y2="349.58" stroke="#888" stroke-width="0.8"/>
<line x1="456.07" y1="335.43" x2="460.27" y2="335.43" stroke="#888" stroke-width="0.8"/>
<line x1="456.07" y1="349.58" x2="460.27" y2="349.58" stroke="#888" stroke-width="0.8"/>
<line x1="463.57" y1="341.76" x2="463.57" y2="355.77" stroke="#666" stroke-width="0.8"/>
<line x1="461.47" y1="341.76" x2="465.67" y2="341.76" stroke="#666" stroke-width="0.8"/>
<line x1="461.47" y1="355.77" x2="465.67" y2="355.77" stroke="#666" stroke-width="0.8"/>
<line x1="468.97" y1="336.15" x2="468.97" y2="349.65" stroke="#888" stroke-width="0.8"/>
<line x1="466.87" y1="336.15" x2="471.07" y2="336.15" stroke="#888" stroke-width="0.8"/>
<line x1="466.87" y1="349.65" x2="471.07" y2="349.65" stroke="#888" stroke-width="0.8"/>
<line x1="474.37" y1="335.37" x2="474.37" y2="348.09" stroke="#666" stroke-width="0.8"/>
<line x1="472.27" y1="335.37" x2="476.47" y2="335.37" stroke="#666" stroke-width="0.8"/>
<line x1="472.27" y1="348.09" x2="476.47" y2="348.09" stroke="#666" stroke-width="0.8"/>
<line x1="479.77" y1="335.27" x2="479.77" y2="348.18" stroke="#888" stroke-width="0.8"/>
<line x1="477.67" y1="335.27" x2="481.87" y2="335.27" stroke="#888" stroke-width="0.8"/>
<line x1="477.67" y1="348.18" x2="481.87" y2="348.18" stroke="#888" stroke-width="0.8"/>
<line x1="485.17" y1="329.46" x2="485.17" y2="344.61" stroke="#666" stroke-width="0.8"/>
<line x1="483.07" y1="329.46" x2="487.27" y2="329.46" stroke="#666" stroke-width="0.8"/>
<line x1="483.07" y1="344.61" x2="487.27" y2="344.61" stroke="#666" stroke-width="0.8"/>
<line x1="490.57" y1="329.27" x2="490.57" y2="344.01" stroke="#888" stroke-width="0.8"/>
<line x1="488.47" y1="329.27" x2="492.67" y2="329.27" stroke="#888" stroke-width="0.8"/>
<line x1="488.47" y1="344.01" x2="492.67" y2="344.01" stroke="#888" stroke-width="0.8"/>
<line x1="495.97" y1="331.35" x2="495.97" y2="346.63" stroke="#666" stroke-width="0.8"/>
<line x1="493.87" y1="331.35" x2="498.07" y2="331.35" stroke="#666" stroke-width="0.8"/>
<line x1="493.87" y1="346.63" x2="498.07" y2="346.63" stroke="#666" stroke-width="0.8"/>
<line x1="501.37" y1="329.98" x2="501.37" y2="348.00" stroke="#888" stroke-width="0.8"/>
<line x1="499.27" y1="329.98" x2="503.47" y2="329.98" stroke="#888" stroke-width="0.8"/>
<line x1="499.27" y1="348.00" x2="503.47" y2="348.00" stroke="#888" stroke-width="0.8"/>
<line x1="506.77" y1="330.73" x2="506.77" y2="347.25" stroke="#666" stroke-width="0.8"/>
<line x1="504.67" y1="330.73" x2="508.87" y2="330.73" stroke="#666" stroke-width="0.8"/>
<line x1="504.67" y1="347.25" x2="508.87" y2="347.25" stroke="#666" stroke-width="0.8"/>
<line x1="512.17" y1="332.46" x2="512.17" y2="349.43" stroke="#888" stroke-width="0.8"/>
<line x1="510.07" y1="332.46" x2="514.27" y2="332.46" stroke="#888" stroke-width="0.8"/>
<line x1="510.07" y1="349.43" x2="514.27" y2="349.43" stroke="#888" stroke-width="0.8"/>
<line x1="517.57" y1="337.84" x2="517.57" y2="353.43" stroke="#666" stroke-width="0.8"/>
<line x1="515.47" y1="337.84" x2="519.67" y2="337.84" stroke="#666" stroke-width="0.8"/>
<line x1="515.47" y1="353.43" x2="519.67" y2="353.43" stroke="#666" stroke-width="0.8"/>
<line x1="522.97" y1="339.83" x2="522.97" y2="354.57" stroke="#888" stroke-width="0.8"/>
<line x1="520.87" y1="339.83" x2="525.07" y2="339.83" stroke="#888" stroke-width="0.8"/>
<line x1="520.87" y1="354.57" x2="525.07" y2="354.57" stroke="#888" stroke-width="0.8"/>
<line x1="312.37" y1="347.98" x2="312.37" y2="352.67" stroke="#a8a8a8" stroke-width="0.8"/>
<line x1="310.27" y1="347.98" x2="314.47" y2="347.98" stroke="#a8a8a8" stroke-width="0.8"/>
<line x1="310.27" y1="352.67" x2="314.47" y2="352.67" stroke="#a8a8a8" stroke-width="0.8"/>
<line x1="317.77" y1="340.55" x2="317.77" y2="349.94" stroke="#6a6a6a" stroke-width="0.8"/>
<line x1="315.67" y1="340.55" x2="319.87" y2="340.55" stroke="#6a6a6a" stroke-width="0.8"/>
<line x1="315.67" y1="349.94" x2="319.87" y2="349.94" stroke="#6a6a6a" stroke-width="0.8"/>
<line x1="323.17" y1="344.46" x2="323.17" y2="348.37" stroke="#6a6a6a" stroke-width="0.8"/>
<line x1="321.07" y1="344.46" x2="325.27" y2="344.46" stroke="#6a6a6a" stroke-width="0.8"/>
<line x1="321.07" y1="348.37" x2="325.27" y2="348.37" stroke="#6a6a6a" stroke-width="0.8"/>
<line x1="328.57" y1="343.68" x2="328.57" y2="347.59" stroke="#a8a8a8" stroke-width="0.8"/>
<line x1="326.47" y1="343.68" x2="330.67" y2="343.68" stroke="#a8a8a8" stroke-width="0.8"/>
<line x1="326.47" y1="347.59" x2="330.67" y2="347.59" stroke="#a8a8a8" stroke-width="0.8"/>
<line x1="333.97" y1="342.51" x2="333.97" y2="346.42" stroke="#6a6a6a" stroke-width="0.8"/>
<line x1="331.87" y1="342.51" x2="336.07" y2="342.51" stroke="#6a6a6a" stroke-width="0.8"/>
<line x1="331.87" y1="346.42" x2="336.07" y2="346.42" stroke="#6a6a6a" stroke-width="0.8"/>
<line x1="366.37" y1="349.15" x2="366.37" y2="356.98" stroke="#6a6a6a" stroke-width="0.8"/>
<line x1="364.27" y1="349.15" x2="368.47" y2="349.15" stroke="#6a6a6a" stroke-width="0.8"/>
<line x1="364.27" y1="356.98" x2="368.47" y2="356.98" stroke="#6a6a6a" stroke-width="0.8"/>
<line x1="371.77" y1="343.29" x2="371.77" y2="351.11" stroke="#a8a8a8" stroke-width="0.8"/>
<line x1="369.67" y1="343.29" x2="373.87" y2="343.29" stroke="#a8a8a8" stroke-width="0.8"/>
<line x1="369.67" y1="351.11" x2="373.87" y2="351.11" stroke="#a8a8a8" stroke-width="0.8"/>
<line x1="377.17" y1="340.55" x2="377.17" y2="349.94" stroke="#6a6a6a" stroke-width="0.8"/>
<line x1="375.07" y1="340.55" x2="379.27" y2="340.55" stroke="#6a6a6a" stroke-width="0.8"/>
<line x1="375.07" y1="349.94" x2="379.27" y2="349.94" stroke="#6a6a6a" stroke-width="0.8"/>
<line x1="382.57" y1="336.64" x2="382.57" y2="346.03" stroke="#6a6a6a" stroke-width="0.8"/>
<line x1="380.47" y1="336.64" x2="384.67" y2="336.64" stroke="#6a6a6a" stroke-width="0.8"/>
<line x1="380.47" y1="346.03" x2="384.67" y2="346.03" stroke="#6a6a6a" stroke-width="0.8"/>
<line x1="387.97" y1="332.73" x2="387.97" y2="344.46" stroke="#a8a8a8" stroke-width="0.8"/>
<line x1="385.87" y1="332.73" x2="390.07" y2="332.73" stroke="#a8a8a8" stroke-width="0.8"/>
<line x1="385.87" y1="344.46" x2="390.07" y2="344.46" stroke="#a8a8a8" stroke-width="0.8"/>
<line x1="393.37" y1="327.26" x2="393.37" y2="339.77" stroke="#6a6a6a" stroke-width="0.8"/>
<line x1="391.27" y1="327.26" x2="395.47" y2="327.26" stroke="#6a6a6a" stroke-width="0.8"/>
<line x1="391.27" y1="339.77" x2="395.47" y2="339.77" stroke="#6a6a6a" stroke-width="0.8"/>
<line x1="398.77" y1="324.52" x2="398.77" y2="340.94" stroke="#6a6a6a" stroke-width="0.8"/>
<line x1="396.67" y1="324.52" x2="400.87" y2="324.52" stroke="#6a6a6a" stroke-width="0.8"/>
<line x1="396.67" y1="340.94" x2="400.87" y2="340.94" stroke="#6a6a6a" stroke-width="0.8"/>
<line x1="404.17" y1="325.70" x2="404.17" y2="342.90" stroke="#a8a8a8" stroke-width="0.8"/>
<line x1="402.07" y1="325.70" x2="406.27" y2="325.70" stroke="#a8a8a8" stroke-width="0.8"/>
<line x1="402.07" y1="342.90" x2="406.27" y2="342.90" stroke="#a8a8a8" stroke-width="0.8"/>
<line x1="409.57" y1="319.44" x2="409.57" y2="341.33" stroke="#6a6a6a" stroke-width="0.8"/>
<line x1="407.47" y1="319.44" x2="411.67" y2="319.44" stroke="#6a6a6a" stroke-width="0.8"/>
<line x1="407.47" y1="341.33" x2="411.67" y2="341.33" stroke="#6a6a6a" stroke-width="0.8"/>
<line x1="414.97" y1="321.39" x2="414.97" y2="345.64" stroke="#6a6a6a" stroke-width="0.8"/>
<line x1="412.87" y1="321.39" x2="417.07" y2="321.39" stroke="#6a6a6a" stroke-width="0.8"/>
<line x1="412.87" y1="345.64" x2="417.07" y2="345.64" stroke="#6a6a6a" stroke-width="0.8"/>
<line x1="420.37" y1="322.18" x2="420.37" y2="344.85" stroke="#a8a8a8" stroke-width="0.8"/>
<line x1="418.27" y1="322.18" x2="422.47" y2="322.18" stroke="#a8a8a8" stroke-width="0.8"/>
<line x1="418.27" y1="344.85" x2="422.47" y2="344.85" stroke="#a8a8a8" stroke-width="0.8"/>
<line x1="425.77" y1="316.31" x2="425.77" y2="338.99" stroke="#6a6a6a" stroke-width="0.8"/>
<line x1="423.67" y1="316.31" x2="427.87" y2="316.31" stroke="#6a6a6a" stroke-width="0.8"/>
<line x1="423.67" y1="338.99" x2="427.87" y2="338.99" stroke="#6a6a6a" stroke-width="0.8"/>
<line x1="431.17" y1="313.97" x2="431.17" y2="334.30" stroke="#6a6a6a" stroke-width="0.8"/>
<line x1="429.07" y1="313.97" x2="433.27" y2="313.97" stroke="#6a6a6a" stroke-width="0.8"/>
<line x1="429.07" y1="334.30" x2="433.27" y2="334.30" stroke="#6a6a6a" stroke-width="0.8"/>
<line x1="436.57" y1="304.19" x2="436.57" y2="333.12" stroke="#a8a8a8" stroke-width="0.8"/>
<line x1="434.47" y1="304.19" x2="438.67" y2="304.19" stroke="#a8a8a8" stroke-width="0.8"/>
<line x1="434.47" y1="333.12" x2="438.67" y2="333.12" stroke="#a8a8a8" stroke-width="0.8"/>
<line x1="441.97" y1="297.93" x2="441.97" y2="333.91" stroke="#6a6a6a" stroke-width="0.8"/>
<line x1="439.87" y1="297.93" x2="444.07" y2="297.93" stroke="#6a6a6a" stroke-width="0.8"/>
<line x1="439.87" y1="333.91" x2="444.07" y2="333.91" stroke="#6a6a6a" stroke-width="0.8"/>
<line x1="447.37" y1="297.54" x2="447.37" y2="335.08" stroke="#6a6a6a" stroke-width="0.8"/>
<line x1="445.27" y1="297.54" x2="449.47" y2="297.54" stroke="#6a6a6a" stroke-width="0.8"/>
<line x1="445.27" y1="335.08" x2="449.47" y2="335.08" stroke="#6a6a6a" stroke-width="0.8"/>
<line x1="452.77" y1="299.50" x2="452.77" y2="326.09" stroke="#a8a8a8" stroke-width="0.8"/>
<line x1="450.67" y1="299.50" x2="454.87" y2="299.50" stroke="#a8a8a8" stroke-width="0.8"/>
<line x1="450.67" y1="326.09" x2="454.87" y2="326.09" stroke="#a8a8a8" stroke-width="0.8"/>
<line x1="458.17" y1="286.20" x2="458.17" y2="324.52" stroke="#6a6a6a" stroke-width="0.8"/>
<line x1="456.07" y1="286.20" x2="460.27" y2="286.20" stroke="#6a6a6a" stroke-width="0.8"/>
<line x1="456.07" y1="324.52" x2="460.27" y2="324.52" stroke="#6a6a6a" stroke-width="0.8"/>
<line x1="463.57" y1="279.17" x2="463.57" y2="312.79" stroke="#6a6a6a" stroke-width="0.8"/>
<line x1="461.47" y1="279.17" x2="465.67" y2="279.17" stroke="#6a6a6a" stroke-width="0.8"/>
<line x1="461.47" y1="312.79" x2="465.67" y2="312.79" stroke="#6a6a6a" stroke-width="0.8"/>
<line x1="468.97" y1="288.94" x2="468.97" y2="314.75" stroke="#a8a8a8" stroke-width="0.8"/>
<line x1="466.87" y1="288.94" x2="471.07" y2="288.94" stroke="#a8a8a8" stroke-width="0.8"/>
<line x1="466.87" y1="314.75" x2="471.07" y2="314.75" stroke="#a8a8a8" stroke-width="0.8"/>
<line x1="474.37" y1="294.81" x2="474.37" y2="328.43" stroke="#6a6a6a" stroke-width="0.8"/>
<line x1="472.27" y1="294.81" x2="476.47" y2="294.81" stroke="#6a6a6a" stroke-width="0.8"/>
<line x1="472.27" y1="328.43" x2="476.47" y2="328.43" stroke="#6a6a6a" stroke-width="0.8"/>
<line x1="479.77" y1="287.38" x2="479.77" y2="324.91" stroke="#6a6a6a" stroke-width="0.8"/>
<line x1="477.67" y1="287.38" x2="481.87" y2="287.38" stroke="#6a6a6a" stroke-width="0.8"/>
<line x1="477.67" y1="324.91" x2="481.87" y2="324.91" stroke="#6a6a6a" stroke-width="0.8"/>
<line x1="485.17" y1="279.56" x2="485.17" y2="324.13" stroke="#a8a8a8" stroke-width="0.8"/>
<line x1="483.07" y1="279.56" x2="487.27" y2="279.56" stroke="#a8a8a8" stroke-width="0.8"/>
<line x1="483.07" y1="324.13" x2="487.27" y2="324.13" stroke="#a8a8a8" stroke-width="0.8"/>
<line x1="490.57" y1="279.95" x2="490.57" y2="316.70" stroke="#6a6a6a" stroke-width="0.8"/>
<line x1="488.47" y1="279.95" x2="492.67" y2="279.95" stroke="#6a6a6a" stroke-width="0.8"/>
<line x1="488.47" y1="316.70" x2="492.67" y2="316.70" stroke="#6a6a6a" stroke-width="0.8"/>
<line x1="495.97" y1="287.77" x2="495.97" y2="319.05" stroke="#6a6a6a" stroke-width="0.8"/>
<line x1="493.87" y1="287.77" x2="498.07" y2="287.77" stroke="#6a6a6a" stroke-width="0.8"/>
<line x1="493.87" y1="319.05" x2="498.07" y2="319.05" stroke="#6a6a6a" stroke-width="0.8"/>
<line x1="501.37" y1="281.90" x2="501.37" y2="313.18" stroke="#a8a8a8" stroke-width="0.8"/>
<line x1="499.27" y1="281.90" x2="503.47" y2="281.90" stroke="#a8a8a8" stroke-width="0.8"/>
<line x1="499.27" y1="313.18" x2="503.47" y2="313.18" stroke="#a8a8a8" stroke-width="0.8"/>
<line x1="506.77" y1="285.42" x2="506.77" y2="319.83" stroke="#6a6a6a" stroke-width="0.8"/>
<line x1="504.67" y1="285.42" x2="508.87" y2="285.42" stroke="#6a6a6a" stroke-width="0.8"/>
<line x1="504.67" y1="319.83" x2="508.87" y2="319.83" stroke="#6a6a6a" stroke-width="0.8"/>
<line x1="512.17" y1="279.56" x2="512.17" y2="313.18" stroke="#6a6a6a" stroke-width="0.8"/>
<line x1="510.07" y1="279.56" x2="514.27" y2="279.56" stroke="#6a6a6a" stroke-width="0.8"/>
<line x1="510.07" y1="313.18" x2="514.27" y2="313.18" stroke="#6a6a6a" stroke-width="0.8"/>
<line x1="517.57" y1="280.34" x2="517.57" y2="313.18" stroke="#a8a8a8" stroke-width="0.8"/>
<line x1="515.47" y1="280.34" x2="519.67" y2="280.34" stroke="#a8a8a8" stroke-width="0.8"/>
<line x1="515.47" y1="313.18" x2="519.67" y2="313.18" stroke="#a8a8a8" stroke-width="0.8"/>
<line x1="522.97" y1="267.05" x2="522.97" y2="310.06" stroke="#6a6a6a" stroke-width="0.8"/>
<line x1="520.87" y1="267.05" x2="525.07" y2="267.05" stroke="#6a6a6a" stroke-width="0.8"/>
<line x1="520.87" y1="310.06" x2="525.07" y2="310.06" stroke="#6a6a6a" stroke-width="0.8"/>
<circle cx="312.37" cy="348.37" r="2.5" fill="#fff" stroke="#1a1a1a" stroke-width="0.7"/>
<circle cx="317.77" cy="347.20" r="2.5" fill="#fff" stroke="#1a1a1a" stroke-width="0.7"/>
<circle cx="323.17" cy="347.20" r="2.5" fill="#fff" stroke="#1a1a1a" stroke-width="0.7"/>
<circle cx="328.57" cy="347.98" r="2.5" fill="#fff" stroke="#1a1a1a" stroke-width="0.7"/>
<circle cx="333.97" cy="349.16" r="2.5" fill="#fff" stroke="#1a1a1a" stroke-width="0.7"/>
<circle cx="366.37" cy="346.03" r="2.5" fill="#fff" stroke="#1a1a1a" stroke-width="0.7"/>
<circle cx="371.77" cy="352.67" r="2.5" fill="#fff" stroke="#1a1a1a" stroke-width="0.7"/>
<circle cx="377.17" cy="347.20" r="2.5" fill="#fff" stroke="#1a1a1a" stroke-width="0.7"/>
<circle cx="382.57" cy="347.20" r="2.5" fill="#fff" stroke="#1a1a1a" stroke-width="0.7"/>
<circle cx="387.97" cy="347.20" r="2.5" fill="#fff" stroke="#1a1a1a" stroke-width="0.7"/>
<circle cx="393.37" cy="346.03" r="2.5" fill="#fff" stroke="#1a1a1a" stroke-width="0.7"/>
<circle cx="398.77" cy="346.81" r="2.5" fill="#fff" stroke="#1a1a1a" stroke-width="0.7"/>
<circle cx="404.17" cy="347.20" r="2.5" fill="#fff" stroke="#1a1a1a" stroke-width="0.7"/>
<circle cx="409.57" cy="350.33" r="2.5" fill="#fff" stroke="#1a1a1a" stroke-width="0.7"/>
<circle cx="414.97" cy="345.25" r="2.5" fill="#fff" stroke="#1a1a1a" stroke-width="0.7"/>
<circle cx="420.37" cy="347.20" r="2.5" fill="#fff" stroke="#1a1a1a" stroke-width="0.7"/>
<circle cx="425.77" cy="344.07" r="2.5" fill="#fff" stroke="#1a1a1a" stroke-width="0.7"/>
<circle cx="431.17" cy="340.16" r="2.5" fill="#fff" stroke="#1a1a1a" stroke-width="0.7"/>
<circle cx="436.57" cy="340.16" r="2.5" fill="#fff" stroke="#1a1a1a" stroke-width="0.7"/>
<circle cx="441.97" cy="338.60" r="2.5" fill="#fff" stroke="#1a1a1a" stroke-width="0.7"/>
<circle cx="447.37" cy="340.55" r="2.5" fill="#fff" stroke="#1a1a1a" stroke-width="0.7"/>
<circle cx="452.77" cy="337.82" r="2.5" fill="#fff" stroke="#1a1a1a" stroke-width="0.7"/>
<circle cx="458.17" cy="342.51" r="2.5" fill="#fff" stroke="#1a1a1a" stroke-width="0.7"/>
<circle cx="463.57" cy="348.76" r="2.5" fill="#fff" stroke="#1a1a1a" stroke-width="0.7"/>
<circle cx="468.97" cy="342.90" r="2.5" fill="#fff" stroke="#1a1a1a" stroke-width="0.7"/>
<circle cx="474.37" cy="341.73" r="2.5" fill="#fff" stroke="#1a1a1a" stroke-width="0.7"/>
<circle cx="479.77" cy="341.73" r="2.5" fill="#fff" stroke="#1a1a1a" stroke-width="0.7"/>
<circle cx="485.17" cy="337.03" r="2.5" fill="#fff" stroke="#1a1a1a" stroke-width="0.7"/>
<circle cx="490.57" cy="336.64" r="2.5" fill="#fff" stroke="#1a1a1a" stroke-width="0.7"/>
<circle cx="495.97" cy="338.99" r="2.5" fill="#fff" stroke="#1a1a1a" stroke-width="0.7"/>
<circle cx="501.37" cy="338.99" r="2.5" fill="#fff" stroke="#1a1a1a" stroke-width="0.7"/>
<circle cx="506.77" cy="338.99" r="2.5" fill="#fff" stroke="#1a1a1a" stroke-width="0.7"/>
<circle cx="512.17" cy="340.94" r="2.5" fill="#fff" stroke="#1a1a1a" stroke-width="0.7"/>
<circle cx="517.57" cy="345.64" r="2.5" fill="#fff" stroke="#1a1a1a" stroke-width="0.7"/>
<circle cx="522.97" cy="347.20" r="2.5" fill="#fff" stroke="#1a1a1a" stroke-width="0.7"/>
<circle cx="312.37" cy="350.33" r="2.55" fill="#000" stroke="none" stroke-width="1"/>
<circle cx="317.77" cy="345.25" r="2.55" fill="#000" stroke="none" stroke-width="1"/>
<circle cx="323.17" cy="346.42" r="2.55" fill="#000" stroke="none" stroke-width="1"/>
<circle cx="328.57" cy="345.64" r="2.55" fill="#000" stroke="none" stroke-width="1"/>
<circle cx="333.97" cy="344.46" r="2.55" fill="#000" stroke="none" stroke-width="1"/>
<circle cx="366.37" cy="353.06" r="2.55" fill="#000" stroke="none" stroke-width="1"/>
<circle cx="371.77" cy="347.20" r="2.55" fill="#000" stroke="none" stroke-width="1"/>
<circle cx="377.17" cy="345.25" r="2.55" fill="#000" stroke="none" stroke-width="1"/>
<circle cx="382.57" cy="341.34" r="2.55" fill="#000" stroke="none" stroke-width="1"/>
<circle cx="387.97" cy="338.60" r="2.55" fill="#000" stroke="none" stroke-width="1"/>
<circle cx="393.37" cy="333.51" r="2.55" fill="#000" stroke="none" stroke-width="1"/>
<circle cx="398.77" cy="332.73" r="2.55" fill="#000" stroke="none" stroke-width="1"/>
<circle cx="404.17" cy="334.30" r="2.55" fill="#000" stroke="none" stroke-width="1"/>
<circle cx="409.57" cy="330.39" r="2.55" fill="#000" stroke="none" stroke-width="1"/>
<circle cx="414.97" cy="333.51" r="2.55" fill="#000" stroke="none" stroke-width="1"/>
<circle cx="420.37" cy="333.51" r="2.55" fill="#000" stroke="none" stroke-width="1"/>
<circle cx="425.77" cy="327.65" r="2.55" fill="#000" stroke="none" stroke-width="1"/>
<circle cx="431.17" cy="324.13" r="2.55" fill="#000" stroke="none" stroke-width="1"/>
<circle cx="436.57" cy="318.66" r="2.55" fill="#000" stroke="none" stroke-width="1"/>
<circle cx="441.97" cy="315.92" r="2.55" fill="#000" stroke="none" stroke-width="1"/>
<circle cx="447.37" cy="316.31" r="2.55" fill="#000" stroke="none" stroke-width="1"/>
<circle cx="452.77" cy="312.79" r="2.55" fill="#000" stroke="none" stroke-width="1"/>
<circle cx="458.17" cy="305.36" r="2.55" fill="#000" stroke="none" stroke-width="1"/>
<circle cx="463.57" cy="295.98" r="2.55" fill="#000" stroke="none" stroke-width="1"/>
<circle cx="468.97" cy="301.84" r="2.55" fill="#000" stroke="none" stroke-width="1"/>
<circle cx="474.37" cy="311.62" r="2.55" fill="#000" stroke="none" stroke-width="1"/>
<circle cx="479.77" cy="306.14" r="2.55" fill="#000" stroke="none" stroke-width="1"/>
<circle cx="485.17" cy="301.84" r="2.55" fill="#000" stroke="none" stroke-width="1"/>
<circle cx="490.57" cy="298.32" r="2.55" fill="#000" stroke="none" stroke-width="1"/>
<circle cx="495.97" cy="303.41" r="2.55" fill="#000" stroke="none" stroke-width="1"/>
<circle cx="501.37" cy="297.54" r="2.55" fill="#000" stroke="none" stroke-width="1"/>
<circle cx="506.77" cy="302.63" r="2.55" fill="#000" stroke="none" stroke-width="1"/>
<circle cx="512.17" cy="296.37" r="2.55" fill="#000" stroke="none" stroke-width="1"/>
<circle cx="517.57" cy="296.76" r="2.55" fill="#000" stroke="none" stroke-width="1"/>
<circle cx="522.97" cy="288.55" r="2.55" fill="#000" stroke="none" stroke-width="1"/>
<circle cx="330.50" cy="260.80" r="3.1" fill="#000" stroke="none" stroke-width="1"/>
<circle cx="428.40" cy="261.00" r="3.0" fill="#fff" stroke="#555" stroke-width="0.85"/>
<path d="M359.0,261.0 C359.3,261.2 360.3,260.8 360.9,262.5 C361.5,264.2 362.1,268.3 362.8,271.0 C363.5,273.7 364.1,276.8 365.0,278.5 C365.9,280.2 366.9,280.8 367.9,281.2 C368.9,281.6 369.4,281.4 371.0,280.8 C372.6,280.2 374.1,279.2 377.5,277.4 C380.9,275.5 387.4,271.6 391.5,269.7 C395.6,267.8 398.3,267.1 402.0,266.2 C405.7,265.3 411.9,264.6 413.9,264.3" stroke="#000" stroke-width="1.6" fill="none" stroke-linejoin="round" stroke-linecap="round"/>
<path d="M456.2,261.0 C456.5,261.2 457.2,261.1 458.0,262.3 C458.8,263.5 459.4,266.6 460.7,268.2 C462.0,269.8 464.0,271.2 465.7,271.6 C467.4,272.0 468.8,271.4 471.0,270.8 C473.2,270.2 474.9,268.9 479.0,267.8 C483.1,266.7 490.7,264.9 495.9,264.0 C501.1,263.1 507.9,262.4 510.3,262.1" stroke="#000" stroke-width="1.6" fill="none" stroke-linejoin="round" stroke-linecap="round"/>
<polyline points="342.4,260.8 359.0,261.0" stroke="#f00000" stroke-width="1.6" fill="none" stroke-linejoin="round" stroke-linecap="round"/>
<polyline points="353.8,257.2 353.8,267.1" stroke="#f00000" stroke-width="1.6" fill="none" stroke-linejoin="round" stroke-linecap="round"/>
<path d="M359.0,261.0 C359.3,261.2 360.4,260.7 360.9,262.5 C361.4,264.3 361.6,266.6 362.0,272.0 C362.4,277.4 362.9,289.0 363.5,295.0 C364.1,301.0 364.8,305.2 365.5,308.0 C366.2,310.8 366.7,311.4 367.5,311.6 C368.3,311.9 369.3,311.2 370.5,309.5 C371.7,307.8 372.7,305.5 374.9,301.6 C377.1,297.7 380.3,291.1 383.9,286.3 C387.5,281.5 393.1,275.9 396.6,272.9 C400.1,269.9 402.1,269.6 405.0,268.5 C407.9,267.4 412.4,266.5 413.9,266.1" stroke="#f00000" stroke-width="1.6" fill="none" stroke-linejoin="round" stroke-linecap="round"/>
<polyline points="439.4,261.0 456.2,261.0" stroke="#f00000" stroke-width="1.6" fill="none" stroke-linejoin="round" stroke-linecap="round"/>
<polyline points="449.9,231.0 449.9,287.2" stroke="#f00000" stroke-width="1.6" fill="none" stroke-linejoin="round" stroke-linecap="round"/>
<path d="M456.2,261.0 C456.5,261.2 457.2,261.1 458.0,262.5 C458.8,263.9 459.4,267.4 460.7,269.2 C462.0,271.0 464.0,272.9 465.7,273.4 C467.4,273.9 468.8,273.0 471.0,272.3 C473.2,271.6 474.9,270.4 479.0,269.2 C483.1,268.0 490.7,266.1 495.9,265.0 C501.1,263.9 507.9,263.2 510.3,262.8" stroke="#f00000" stroke-width="1.6" fill="none" stroke-linejoin="round" stroke-linecap="round"/>
<polyline points="487.2,232.4 487.2,252.7 507.4,252.7" stroke="#000" stroke-width="1.4" fill="none" stroke-linejoin="round" stroke-linecap="round" stroke-linecap="butt" stroke-linejoin="miter"/>
<line x1="307.40" y1="454.60" x2="307.40" y2="606.40" stroke="#7a7a7a" stroke-width="0.9"/>
<line x1="305.20" y1="606.40" x2="307.40" y2="606.40" stroke="#7a7a7a" stroke-width="0.9"/>
<text x="302.4" y="610.2" font-size="12.8" text-anchor="end" fill="#000">0</text>
<line x1="305.20" y1="581.10" x2="307.40" y2="581.10" stroke="#7a7a7a" stroke-width="0.9"/>
<text x="302.4" y="584.9" font-size="12.8" text-anchor="end" fill="#000">1</text>
<line x1="305.20" y1="555.80" x2="307.40" y2="555.80" stroke="#7a7a7a" stroke-width="0.9"/>
<text x="302.4" y="559.6" font-size="12.8" text-anchor="end" fill="#000">2</text>
<line x1="305.20" y1="530.50" x2="307.40" y2="530.50" stroke="#7a7a7a" stroke-width="0.9"/>
<text x="302.4" y="534.3" font-size="12.8" text-anchor="end" fill="#000">3</text>
<line x1="305.20" y1="505.20" x2="307.40" y2="505.20" stroke="#7a7a7a" stroke-width="0.9"/>
<text x="302.4" y="509.0" font-size="12.8" text-anchor="end" fill="#000">4</text>
<line x1="305.20" y1="479.90" x2="307.40" y2="479.90" stroke="#7a7a7a" stroke-width="0.9"/>
<text x="302.4" y="483.7" font-size="12.8" text-anchor="end" fill="#000">5</text>
<line x1="305.20" y1="454.60" x2="307.40" y2="454.60" stroke="#7a7a7a" stroke-width="0.9"/>
<text x="302.4" y="458.4" font-size="12.8" text-anchor="end" fill="#000">6</text>
<line x1="307.40" y1="606.40" x2="518.00" y2="606.40" stroke="#a0a0a0" stroke-width="1.2"/>
<line x1="307.20" y1="606.40" x2="307.20" y2="608.60" stroke="#a0a0a0" stroke-width="1.2"/>
<text x="308.5" y="619.4" font-size="12.8" text-anchor="middle" fill="#000">0</text>
<line x1="359.90" y1="606.40" x2="359.90" y2="608.60" stroke="#a0a0a0" stroke-width="1.2"/>
<text x="361.2" y="619.4" font-size="12.8" text-anchor="middle" fill="#000">10</text>
<line x1="412.60" y1="606.40" x2="412.60" y2="608.60" stroke="#a0a0a0" stroke-width="1.2"/>
<text x="413.9" y="619.4" font-size="12.8" text-anchor="middle" fill="#000">20</text>
<line x1="465.30" y1="606.40" x2="465.30" y2="608.60" stroke="#a0a0a0" stroke-width="1.2"/>
<text x="466.6" y="619.4" font-size="12.8" text-anchor="middle" fill="#000">30</text>
<line x1="518.00" y1="606.40" x2="518.00" y2="608.60" stroke="#a0a0a0" stroke-width="1.2"/>
<text x="519.3" y="619.4" font-size="12.8" text-anchor="middle" fill="#000">40</text>
<text x="287.6" y="530.5" font-size="13.2" text-anchor="middle" fill="#000" transform="rotate(-90 287.6 530.5)">Normalised EPSC Amplitude</text>
<text x="420.0" y="630.8" font-size="13.2" text-anchor="middle" fill="#000">Time (min)</text>
<line x1="308.25" y1="581.10" x2="519.58" y2="581.10" stroke="#555" stroke-width="0.7" stroke-dasharray="0.8,2.2"/>
<line x1="310.20" y1="595.40" x2="335.00" y2="595.40" stroke="#000" stroke-width="1.6"/>
<line x1="493.10" y1="594.80" x2="517.90" y2="594.80" stroke="#f00000" stroke-width="1.6"/>
<rect x="340.20" y="574.90" width="19.10" height="9.00" fill="#007a00"/>
<line x1="340.20" y1="568.30" x2="359.00" y2="568.30" stroke="#4a4a4a" stroke-width="0.8"/>
<line x1="344.40" y1="568.30" x2="354.40" y2="568.30" stroke="#4a4a4a" stroke-width="1.3"/>
<polyline points="346.9,568.4 347.2,568.0 347.6,569.0 348.0,566.9 348.3,570.7 348.7,564.8 349.0,572.7 349.4,563.5 349.8,572.7 350.1,564.8 350.5,570.7 350.8,566.9 351.2,569.0 351.6,568.0 351.9,568.4" stroke="#555" stroke-width="0.75" fill="none" stroke-linejoin="round" stroke-linecap="round"/>
<line x1="312.05" y1="579.84" x2="312.05" y2="582.37" stroke="#888" stroke-width="0.8"/>
<line x1="309.95" y1="579.84" x2="314.15" y2="579.84" stroke="#888" stroke-width="0.8"/>
<line x1="309.95" y1="582.37" x2="314.15" y2="582.37" stroke="#888" stroke-width="0.8"/>
<line x1="317.32" y1="579.33" x2="317.32" y2="581.86" stroke="#666" stroke-width="0.8"/>
<line x1="315.22" y1="579.33" x2="319.42" y2="579.33" stroke="#666" stroke-width="0.8"/>
<line x1="315.22" y1="581.86" x2="319.42" y2="581.86" stroke="#666" stroke-width="0.8"/>
<line x1="322.59" y1="579.08" x2="322.59" y2="581.61" stroke="#888" stroke-width="0.8"/>
<line x1="320.49" y1="579.08" x2="324.69" y2="579.08" stroke="#888" stroke-width="0.8"/>
<line x1="320.49" y1="581.61" x2="324.69" y2="581.61" stroke="#888" stroke-width="0.8"/>
<line x1="327.86" y1="579.84" x2="327.86" y2="582.37" stroke="#666" stroke-width="0.8"/>
<line x1="325.76" y1="579.84" x2="329.96" y2="579.84" stroke="#666" stroke-width="0.8"/>
<line x1="325.76" y1="582.37" x2="329.96" y2="582.37" stroke="#666" stroke-width="0.8"/>
<line x1="333.13" y1="581.35" x2="333.13" y2="583.88" stroke="#888" stroke-width="0.8"/>
<line x1="331.03" y1="581.35" x2="335.23" y2="581.35" stroke="#888" stroke-width="0.8"/>
<line x1="331.03" y1="583.88" x2="335.23" y2="583.88" stroke="#888" stroke-width="0.8"/>
<line x1="364.75" y1="567.08" x2="364.75" y2="576.40" stroke="#666" stroke-width="0.8"/>
<line x1="362.65" y1="567.08" x2="366.85" y2="567.08" stroke="#666" stroke-width="0.8"/>
<line x1="362.65" y1="576.40" x2="366.85" y2="576.40" stroke="#666" stroke-width="0.8"/>
<line x1="370.02" y1="575.94" x2="370.02" y2="584.74" stroke="#888" stroke-width="0.8"/>
<line x1="367.92" y1="575.94" x2="372.12" y2="575.94" stroke="#888" stroke-width="0.8"/>
<line x1="367.92" y1="584.74" x2="372.12" y2="584.74" stroke="#888" stroke-width="0.8"/>
<line x1="375.29" y1="574.56" x2="375.29" y2="584.10" stroke="#666" stroke-width="0.8"/>
<line x1="373.19" y1="574.56" x2="377.39" y2="574.56" stroke="#666" stroke-width="0.8"/>
<line x1="373.19" y1="584.10" x2="377.39" y2="584.10" stroke="#666" stroke-width="0.8"/>
<line x1="380.56" y1="574.98" x2="380.56" y2="583.68" stroke="#888" stroke-width="0.8"/>
<line x1="378.46" y1="574.98" x2="382.66" y2="574.98" stroke="#888" stroke-width="0.8"/>
<line x1="378.46" y1="583.68" x2="382.66" y2="583.68" stroke="#888" stroke-width="0.8"/>
<line x1="385.83" y1="571.88" x2="385.83" y2="580.20" stroke="#666" stroke-width="0.8"/>
<line x1="383.73" y1="571.88" x2="387.93" y2="571.88" stroke="#666" stroke-width="0.8"/>
<line x1="383.73" y1="580.20" x2="387.93" y2="580.20" stroke="#666" stroke-width="0.8"/>
<line x1="391.10" y1="575.26" x2="391.10" y2="584.41" stroke="#888" stroke-width="0.8"/>
<line x1="389.00" y1="575.26" x2="393.20" y2="575.26" stroke="#888" stroke-width="0.8"/>
<line x1="389.00" y1="584.41" x2="393.20" y2="584.41" stroke="#888" stroke-width="0.8"/>
<line x1="396.37" y1="576.64" x2="396.37" y2="587.08" stroke="#666" stroke-width="0.8"/>
<line x1="394.27" y1="576.64" x2="398.47" y2="576.64" stroke="#666" stroke-width="0.8"/>
<line x1="394.27" y1="587.08" x2="398.47" y2="587.08" stroke="#666" stroke-width="0.8"/>
<line x1="401.64" y1="574.85" x2="401.64" y2="584.82" stroke="#888" stroke-width="0.8"/>
<line x1="399.54" y1="574.85" x2="403.74" y2="574.85" stroke="#888" stroke-width="0.8"/>
<line x1="399.54" y1="584.82" x2="403.74" y2="584.82" stroke="#888" stroke-width="0.8"/>
<line x1="406.91" y1="576.24" x2="406.91" y2="585.96" stroke="#666" stroke-width="0.8"/>
<line x1="404.81" y1="576.24" x2="409.01" y2="576.24" stroke="#666" stroke-width="0.8"/>
<line x1="404.81" y1="585.96" x2="409.01" y2="585.96" stroke="#666" stroke-width="0.8"/>
<line x1="412.18" y1="576.03" x2="412.18" y2="584.15" stroke="#888" stroke-width="0.8"/>
<line x1="410.08" y1="576.03" x2="414.28" y2="576.03" stroke="#888" stroke-width="0.8"/>
<line x1="410.08" y1="584.15" x2="414.28" y2="584.15" stroke="#888" stroke-width="0.8"/>
<line x1="417.45" y1="573.40" x2="417.45" y2="582.22" stroke="#666" stroke-width="0.8"/>
<line x1="415.35" y1="573.40" x2="419.55" y2="573.40" stroke="#666" stroke-width="0.8"/>
<line x1="415.35" y1="582.22" x2="419.55" y2="582.22" stroke="#666" stroke-width="0.8"/>
<line x1="422.72" y1="574.57" x2="422.72" y2="582.57" stroke="#888" stroke-width="0.8"/>
<line x1="420.62" y1="574.57" x2="424.82" y2="574.57" stroke="#888" stroke-width="0.8"/>
<line x1="420.62" y1="582.57" x2="424.82" y2="582.57" stroke="#888" stroke-width="0.8"/>
<line x1="427.99" y1="572.23" x2="427.99" y2="579.85" stroke="#666" stroke-width="0.8"/>
<line x1="425.89" y1="572.23" x2="430.09" y2="572.23" stroke="#666" stroke-width="0.8"/>
<line x1="425.89" y1="579.85" x2="430.09" y2="579.85" stroke="#666" stroke-width="0.8"/>
<line x1="433.26" y1="574.91" x2="433.26" y2="582.23" stroke="#888" stroke-width="0.8"/>
<line x1="431.16" y1="574.91" x2="435.36" y2="574.91" stroke="#888" stroke-width="0.8"/>
<line x1="431.16" y1="582.23" x2="435.36" y2="582.23" stroke="#888" stroke-width="0.8"/>
<line x1="438.53" y1="572.31" x2="438.53" y2="579.77" stroke="#666" stroke-width="0.8"/>
<line x1="436.43" y1="572.31" x2="440.63" y2="572.31" stroke="#666" stroke-width="0.8"/>
<line x1="436.43" y1="579.77" x2="440.63" y2="579.77" stroke="#666" stroke-width="0.8"/>
<line x1="443.80" y1="571.01" x2="443.80" y2="580.06" stroke="#888" stroke-width="0.8"/>
<line x1="441.70" y1="571.01" x2="445.90" y2="571.01" stroke="#888" stroke-width="0.8"/>
<line x1="441.70" y1="580.06" x2="445.90" y2="580.06" stroke="#888" stroke-width="0.8"/>
<line x1="449.07" y1="574.49" x2="449.07" y2="583.16" stroke="#666" stroke-width="0.8"/>
<line x1="446.97" y1="574.49" x2="451.17" y2="574.49" stroke="#666" stroke-width="0.8"/>
<line x1="446.97" y1="583.16" x2="451.17" y2="583.16" stroke="#666" stroke-width="0.8"/>
<line x1="454.34" y1="575.61" x2="454.34" y2="584.06" stroke="#888" stroke-width="0.8"/>
<line x1="452.24" y1="575.61" x2="456.44" y2="575.61" stroke="#888" stroke-width="0.8"/>
<line x1="452.24" y1="584.06" x2="456.44" y2="584.06" stroke="#888" stroke-width="0.8"/>
<line x1="459.61" y1="571.39" x2="459.61" y2="579.68" stroke="#666" stroke-width="0.8"/>
<line x1="457.51" y1="571.39" x2="461.71" y2="571.39" stroke="#666" stroke-width="0.8"/>
<line x1="457.51" y1="579.68" x2="461.71" y2="579.68" stroke="#666" stroke-width="0.8"/>
<line x1="464.88" y1="569.87" x2="464.88" y2="576.65" stroke="#888" stroke-width="0.8"/>
<line x1="462.78" y1="569.87" x2="466.98" y2="569.87" stroke="#888" stroke-width="0.8"/>
<line x1="462.78" y1="576.65" x2="466.98" y2="576.65" stroke="#888" stroke-width="0.8"/>
<line x1="470.15" y1="570.05" x2="470.15" y2="576.97" stroke="#666" stroke-width="0.8"/>
<line x1="468.05" y1="570.05" x2="472.25" y2="570.05" stroke="#666" stroke-width="0.8"/>
<line x1="468.05" y1="576.97" x2="472.25" y2="576.97" stroke="#666" stroke-width="0.8"/>
<line x1="475.42" y1="571.04" x2="475.42" y2="578.51" stroke="#888" stroke-width="0.8"/>
<line x1="473.32" y1="571.04" x2="477.52" y2="571.04" stroke="#888" stroke-width="0.8"/>
<line x1="473.32" y1="578.51" x2="477.52" y2="578.51" stroke="#888" stroke-width="0.8"/>
<line x1="480.69" y1="575.56" x2="480.69" y2="583.10" stroke="#666" stroke-width="0.8"/>
<line x1="478.59" y1="575.56" x2="482.79" y2="575.56" stroke="#666" stroke-width="0.8"/>
<line x1="478.59" y1="583.10" x2="482.79" y2="583.10" stroke="#666" stroke-width="0.8"/>
<line x1="485.96" y1="572.98" x2="485.96" y2="580.62" stroke="#888" stroke-width="0.8"/>
<line x1="483.86" y1="572.98" x2="488.06" y2="572.98" stroke="#888" stroke-width="0.8"/>
<line x1="483.86" y1="580.62" x2="488.06" y2="580.62" stroke="#888" stroke-width="0.8"/>
<line x1="491.23" y1="573.79" x2="491.23" y2="581.33" stroke="#666" stroke-width="0.8"/>
<line x1="489.13" y1="573.79" x2="493.33" y2="573.79" stroke="#666" stroke-width="0.8"/>
<line x1="489.13" y1="581.33" x2="493.33" y2="581.33" stroke="#666" stroke-width="0.8"/>
<line x1="496.50" y1="578.20" x2="496.50" y2="584.00" stroke="#888" stroke-width="0.8"/>
<line x1="494.40" y1="578.20" x2="498.60" y2="578.20" stroke="#888" stroke-width="0.8"/>
<line x1="494.40" y1="584.00" x2="498.60" y2="584.00" stroke="#888" stroke-width="0.8"/>
<line x1="501.77" y1="577.25" x2="501.77" y2="583.94" stroke="#666" stroke-width="0.8"/>
<line x1="499.67" y1="577.25" x2="503.87" y2="577.25" stroke="#666" stroke-width="0.8"/>
<line x1="499.67" y1="583.94" x2="503.87" y2="583.94" stroke="#666" stroke-width="0.8"/>
<line x1="507.04" y1="580.80" x2="507.04" y2="587.48" stroke="#888" stroke-width="0.8"/>
<line x1="504.94" y1="580.80" x2="509.14" y2="580.80" stroke="#888" stroke-width="0.8"/>
<line x1="504.94" y1="587.48" x2="509.14" y2="587.48" stroke="#888" stroke-width="0.8"/>
<line x1="512.31" y1="581.02" x2="512.31" y2="587.25" stroke="#666" stroke-width="0.8"/>
<line x1="510.21" y1="581.02" x2="514.41" y2="581.02" stroke="#666" stroke-width="0.8"/>
<line x1="510.21" y1="587.25" x2="514.41" y2="587.25" stroke="#666" stroke-width="0.8"/>
<line x1="517.58" y1="581.65" x2="517.58" y2="587.13" stroke="#888" stroke-width="0.8"/>
<line x1="515.48" y1="581.65" x2="519.68" y2="581.65" stroke="#888" stroke-width="0.8"/>
<line x1="515.48" y1="587.13" x2="519.68" y2="587.13" stroke="#888" stroke-width="0.8"/>
<line x1="312.05" y1="580.34" x2="312.05" y2="582.87" stroke="#a8a8a8" stroke-width="0.8"/>
<line x1="309.95" y1="580.34" x2="314.15" y2="580.34" stroke="#a8a8a8" stroke-width="0.8"/>
<line x1="309.95" y1="582.87" x2="314.15" y2="582.87" stroke="#a8a8a8" stroke-width="0.8"/>
<line x1="317.32" y1="579.84" x2="317.32" y2="582.37" stroke="#6a6a6a" stroke-width="0.8"/>
<line x1="315.22" y1="579.84" x2="319.42" y2="579.84" stroke="#6a6a6a" stroke-width="0.8"/>
<line x1="315.22" y1="582.37" x2="319.42" y2="582.37" stroke="#6a6a6a" stroke-width="0.8"/>
<line x1="322.59" y1="578.06" x2="322.59" y2="580.59" stroke="#6a6a6a" stroke-width="0.8"/>
<line x1="320.49" y1="578.06" x2="324.69" y2="578.06" stroke="#6a6a6a" stroke-width="0.8"/>
<line x1="320.49" y1="580.59" x2="324.69" y2="580.59" stroke="#6a6a6a" stroke-width="0.8"/>
<line x1="327.86" y1="580.09" x2="327.86" y2="582.62" stroke="#a8a8a8" stroke-width="0.8"/>
<line x1="325.76" y1="580.09" x2="329.96" y2="580.09" stroke="#a8a8a8" stroke-width="0.8"/>
<line x1="325.76" y1="582.62" x2="329.96" y2="582.62" stroke="#a8a8a8" stroke-width="0.8"/>
<line x1="333.13" y1="578.57" x2="333.13" y2="581.10" stroke="#6a6a6a" stroke-width="0.8"/>
<line x1="331.03" y1="578.57" x2="335.23" y2="578.57" stroke="#6a6a6a" stroke-width="0.8"/>
<line x1="331.03" y1="581.10" x2="335.23" y2="581.10" stroke="#6a6a6a" stroke-width="0.8"/>
<line x1="364.75" y1="573.00" x2="364.75" y2="586.67" stroke="#6a6a6a" stroke-width="0.8"/>
<line x1="362.65" y1="573.00" x2="366.85" y2="573.00" stroke="#6a6a6a" stroke-width="0.8"/>
<line x1="362.65" y1="586.67" x2="366.85" y2="586.67" stroke="#6a6a6a" stroke-width="0.8"/>
<line x1="370.02" y1="566.93" x2="370.02" y2="579.58" stroke="#a8a8a8" stroke-width="0.8"/>
<line x1="367.92" y1="566.93" x2="372.12" y2="566.93" stroke="#a8a8a8" stroke-width="0.8"/>
<line x1="367.92" y1="579.58" x2="372.12" y2="579.58" stroke="#a8a8a8" stroke-width="0.8"/>
<line x1="375.29" y1="565.67" x2="375.29" y2="579.83" stroke="#6a6a6a" stroke-width="0.8"/>
<line x1="373.19" y1="565.67" x2="377.39" y2="565.67" stroke="#6a6a6a" stroke-width="0.8"/>
<line x1="373.19" y1="579.83" x2="377.39" y2="579.83" stroke="#6a6a6a" stroke-width="0.8"/>
<line x1="380.56" y1="570.22" x2="380.56" y2="580.34" stroke="#6a6a6a" stroke-width="0.8"/>
<line x1="378.46" y1="570.22" x2="382.66" y2="570.22" stroke="#6a6a6a" stroke-width="0.8"/>
<line x1="378.46" y1="580.34" x2="382.66" y2="580.34" stroke="#6a6a6a" stroke-width="0.8"/>
<line x1="385.83" y1="564.15" x2="385.83" y2="576.80" stroke="#a8a8a8" stroke-width="0.8"/>
<line x1="383.73" y1="564.15" x2="387.93" y2="564.15" stroke="#a8a8a8" stroke-width="0.8"/>
<line x1="383.73" y1="576.80" x2="387.93" y2="576.80" stroke="#a8a8a8" stroke-width="0.8"/>
<line x1="391.10" y1="566.43" x2="391.10" y2="579.08" stroke="#6a6a6a" stroke-width="0.8"/>
<line x1="389.00" y1="566.43" x2="393.20" y2="566.43" stroke="#6a6a6a" stroke-width="0.8"/>
<line x1="389.00" y1="579.08" x2="393.20" y2="579.08" stroke="#6a6a6a" stroke-width="0.8"/>
<line x1="396.37" y1="565.41" x2="396.37" y2="578.06" stroke="#6a6a6a" stroke-width="0.8"/>
<line x1="394.27" y1="565.41" x2="398.47" y2="565.41" stroke="#6a6a6a" stroke-width="0.8"/>
<line x1="394.27" y1="578.06" x2="398.47" y2="578.06" stroke="#6a6a6a" stroke-width="0.8"/>
<line x1="401.64" y1="561.37" x2="401.64" y2="579.08" stroke="#a8a8a8" stroke-width="0.8"/>
<line x1="399.54" y1="561.37" x2="403.74" y2="561.37" stroke="#a8a8a8" stroke-width="0.8"/>
<line x1="399.54" y1="579.08" x2="403.74" y2="579.08" stroke="#a8a8a8" stroke-width="0.8"/>
<line x1="406.91" y1="563.64" x2="406.91" y2="577.81" stroke="#6a6a6a" stroke-width="0.8"/>
<line x1="404.81" y1="563.64" x2="409.01" y2="563.64" stroke="#6a6a6a" stroke-width="0.8"/>
<line x1="404.81" y1="577.81" x2="409.01" y2="577.81" stroke="#6a6a6a" stroke-width="0.8"/>
<line x1="412.18" y1="560.10" x2="412.18" y2="575.28" stroke="#6a6a6a" stroke-width="0.8"/>
<line x1="410.08" y1="560.10" x2="414.28" y2="560.10" stroke="#6a6a6a" stroke-width="0.8"/>
<line x1="410.08" y1="575.28" x2="414.28" y2="575.28" stroke="#6a6a6a" stroke-width="0.8"/>
<line x1="417.45" y1="556.05" x2="417.45" y2="573.76" stroke="#a8a8a8" stroke-width="0.8"/>
<line x1="415.35" y1="556.05" x2="419.55" y2="556.05" stroke="#a8a8a8" stroke-width="0.8"/>
<line x1="415.35" y1="573.76" x2="419.55" y2="573.76" stroke="#a8a8a8" stroke-width="0.8"/>
<line x1="422.72" y1="558.84" x2="422.72" y2="574.02" stroke="#6a6a6a" stroke-width="0.8"/>
<line x1="420.62" y1="558.84" x2="424.82" y2="558.84" stroke="#6a6a6a" stroke-width="0.8"/>
<line x1="420.62" y1="574.02" x2="424.82" y2="574.02" stroke="#6a6a6a" stroke-width="0.8"/>
<line x1="427.99" y1="550.49" x2="427.99" y2="571.74" stroke="#6a6a6a" stroke-width="0.8"/>
<line x1="425.89" y1="550.49" x2="430.09" y2="550.49" stroke="#6a6a6a" stroke-width="0.8"/>
<line x1="425.89" y1="571.74" x2="430.09" y2="571.74" stroke="#6a6a6a" stroke-width="0.8"/>
<line x1="433.26" y1="546.94" x2="433.26" y2="569.71" stroke="#a8a8a8" stroke-width="0.8"/>
<line x1="431.16" y1="546.94" x2="435.36" y2="546.94" stroke="#a8a8a8" stroke-width="0.8"/>
<line x1="431.16" y1="569.71" x2="435.36" y2="569.71" stroke="#a8a8a8" stroke-width="0.8"/>
<line x1="438.53" y1="541.63" x2="438.53" y2="566.93" stroke="#6a6a6a" stroke-width="0.8"/>
<line x1="436.43" y1="541.63" x2="440.63" y2="541.63" stroke="#6a6a6a" stroke-width="0.8"/>
<line x1="436.43" y1="566.93" x2="440.63" y2="566.93" stroke="#6a6a6a" stroke-width="0.8"/>
<line x1="443.80" y1="539.35" x2="443.80" y2="569.21" stroke="#6a6a6a" stroke-width="0.8"/>
<line x1="441.70" y1="539.35" x2="445.90" y2="539.35" stroke="#6a6a6a" stroke-width="0.8"/>
<line x1="441.70" y1="569.21" x2="445.90" y2="569.21" stroke="#6a6a6a" stroke-width="0.8"/>
<line x1="449.07" y1="537.08" x2="449.07" y2="564.91" stroke="#a8a8a8" stroke-width="0.8"/>
<line x1="446.97" y1="537.08" x2="451.17" y2="537.08" stroke="#a8a8a8" stroke-width="0.8"/>
<line x1="446.97" y1="564.91" x2="451.17" y2="564.91" stroke="#a8a8a8" stroke-width="0.8"/>
<line x1="454.34" y1="540.37" x2="454.34" y2="567.18" stroke="#6a6a6a" stroke-width="0.8"/>
<line x1="452.24" y1="540.37" x2="456.44" y2="540.37" stroke="#6a6a6a" stroke-width="0.8"/>
<line x1="452.24" y1="567.18" x2="456.44" y2="567.18" stroke="#6a6a6a" stroke-width="0.8"/>
<line x1="459.61" y1="539.61" x2="459.61" y2="564.91" stroke="#6a6a6a" stroke-width="0.8"/>
<line x1="457.51" y1="539.61" x2="461.71" y2="539.61" stroke="#6a6a6a" stroke-width="0.8"/>
<line x1="457.51" y1="564.91" x2="461.71" y2="564.91" stroke="#6a6a6a" stroke-width="0.8"/>
<line x1="464.88" y1="536.57" x2="464.88" y2="561.87" stroke="#a8a8a8" stroke-width="0.8"/>
<line x1="462.78" y1="536.57" x2="466.98" y2="536.57" stroke="#a8a8a8" stroke-width="0.8"/>
<line x1="462.78" y1="561.87" x2="466.98" y2="561.87" stroke="#a8a8a8" stroke-width="0.8"/>
<line x1="470.15" y1="526.20" x2="470.15" y2="560.61" stroke="#6a6a6a" stroke-width="0.8"/>
<line x1="468.05" y1="526.20" x2="472.25" y2="526.20" stroke="#6a6a6a" stroke-width="0.8"/>
<line x1="468.05" y1="560.61" x2="472.25" y2="560.61" stroke="#6a6a6a" stroke-width="0.8"/>
<line x1="475.42" y1="521.64" x2="475.42" y2="563.64" stroke="#6a6a6a" stroke-width="0.8"/>
<line x1="473.32" y1="521.64" x2="477.52" y2="521.64" stroke="#6a6a6a" stroke-width="0.8"/>
<line x1="473.32" y1="563.64" x2="477.52" y2="563.64" stroke="#6a6a6a" stroke-width="0.8"/>
<line x1="480.69" y1="520.89" x2="480.69" y2="560.35" stroke="#a8a8a8" stroke-width="0.8"/>
<line x1="478.59" y1="520.89" x2="482.79" y2="520.89" stroke="#a8a8a8" stroke-width="0.8"/>
<line x1="478.59" y1="560.35" x2="482.79" y2="560.35" stroke="#a8a8a8" stroke-width="0.8"/>
<line x1="485.96" y1="513.55" x2="485.96" y2="563.14" stroke="#6a6a6a" stroke-width="0.8"/>
<line x1="483.86" y1="513.55" x2="488.06" y2="513.55" stroke="#6a6a6a" stroke-width="0.8"/>
<line x1="483.86" y1="563.14" x2="488.06" y2="563.14" stroke="#6a6a6a" stroke-width="0.8"/>
<line x1="491.23" y1="520.89" x2="491.23" y2="565.41" stroke="#6a6a6a" stroke-width="0.8"/>
<line x1="489.13" y1="520.89" x2="493.33" y2="520.89" stroke="#6a6a6a" stroke-width="0.8"/>
<line x1="489.13" y1="565.41" x2="493.33" y2="565.41" stroke="#6a6a6a" stroke-width="0.8"/>
<line x1="496.50" y1="511.27" x2="496.50" y2="565.92" stroke="#a8a8a8" stroke-width="0.8"/>
<line x1="494.40" y1="511.27" x2="498.60" y2="511.27" stroke="#a8a8a8" stroke-width="0.8"/>
<line x1="494.40" y1="565.92" x2="498.60" y2="565.92" stroke="#a8a8a8" stroke-width="0.8"/>
<line x1="501.77" y1="512.28" x2="501.77" y2="567.94" stroke="#6a6a6a" stroke-width="0.8"/>
<line x1="499.67" y1="512.28" x2="503.87" y2="512.28" stroke="#6a6a6a" stroke-width="0.8"/>
<line x1="499.67" y1="567.94" x2="503.87" y2="567.94" stroke="#6a6a6a" stroke-width="0.8"/>
<line x1="507.04" y1="505.20" x2="507.04" y2="567.94" stroke="#6a6a6a" stroke-width="0.8"/>
<line x1="504.94" y1="505.20" x2="509.14" y2="505.20" stroke="#6a6a6a" stroke-width="0.8"/>
<line x1="504.94" y1="567.94" x2="509.14" y2="567.94" stroke="#6a6a6a" stroke-width="0.8"/>
<line x1="512.31" y1="513.30" x2="512.31" y2="569.97" stroke="#a8a8a8" stroke-width="0.8"/>
<line x1="510.21" y1="513.30" x2="514.41" y2="513.30" stroke="#a8a8a8" stroke-width="0.8"/>
<line x1="510.21" y1="569.97" x2="514.41" y2="569.97" stroke="#a8a8a8" stroke-width="0.8"/>
<line x1="517.58" y1="518.10" x2="517.58" y2="568.70" stroke="#6a6a6a" stroke-width="0.8"/>
<line x1="515.48" y1="518.10" x2="519.68" y2="518.10" stroke="#6a6a6a" stroke-width="0.8"/>
<line x1="515.48" y1="568.70" x2="519.68" y2="568.70" stroke="#6a6a6a" stroke-width="0.8"/>
<circle cx="312.05" cy="581.10" r="2.5" fill="#fff" stroke="#1a1a1a" stroke-width="0.7"/>
<circle cx="317.32" cy="580.59" r="2.5" fill="#fff" stroke="#1a1a1a" stroke-width="0.7"/>
<circle cx="322.59" cy="580.34" r="2.5" fill="#fff" stroke="#1a1a1a" stroke-width="0.7"/>
<circle cx="327.86" cy="581.10" r="2.5" fill="#fff" stroke="#1a1a1a" stroke-width="0.7"/>
<circle cx="333.13" cy="582.62" r="2.5" fill="#fff" stroke="#1a1a1a" stroke-width="0.7"/>
<circle cx="364.75" cy="571.74" r="2.5" fill="#fff" stroke="#1a1a1a" stroke-width="0.7"/>
<circle cx="370.02" cy="580.34" r="2.5" fill="#fff" stroke="#1a1a1a" stroke-width="0.7"/>
<circle cx="375.29" cy="579.33" r="2.5" fill="#fff" stroke="#1a1a1a" stroke-width="0.7"/>
<circle cx="380.56" cy="579.33" r="2.5" fill="#fff" stroke="#1a1a1a" stroke-width="0.7"/>
<circle cx="385.83" cy="576.04" r="2.5" fill="#fff" stroke="#1a1a1a" stroke-width="0.7"/>
<circle cx="391.10" cy="579.83" r="2.5" fill="#fff" stroke="#1a1a1a" stroke-width="0.7"/>
<circle cx="396.37" cy="581.86" r="2.5" fill="#fff" stroke="#1a1a1a" stroke-width="0.7"/>
<circle cx="401.64" cy="579.83" r="2.5" fill="#fff" stroke="#1a1a1a" stroke-width="0.7"/>
<circle cx="406.91" cy="581.10" r="2.5" fill="#fff" stroke="#1a1a1a" stroke-width="0.7"/>
<circle cx="412.18" cy="580.09" r="2.5" fill="#fff" stroke="#1a1a1a" stroke-width="0.7"/>
<circle cx="417.45" cy="577.81" r="2.5" fill="#fff" stroke="#1a1a1a" stroke-width="0.7"/>
<circle cx="422.72" cy="578.57" r="2.5" fill="#fff" stroke="#1a1a1a" stroke-width="0.7"/>
<circle cx="427.99" cy="576.04" r="2.5" fill="#fff" stroke="#1a1a1a" stroke-width="0.7"/>
<circle cx="433.26" cy="578.57" r="2.5" fill="#fff" stroke="#1a1a1a" stroke-width="0.7"/>
<circle cx="438.53" cy="576.04" r="2.5" fill="#fff" stroke="#1a1a1a" stroke-width="0.7"/>
<circle cx="443.80" cy="575.53" r="2.5" fill="#fff" stroke="#1a1a1a" stroke-width="0.7"/>
<circle cx="449.07" cy="578.82" r="2.5" fill="#fff" stroke="#1a1a1a" stroke-width="0.7"/>
<circle cx="454.34" cy="579.83" r="2.5" fill="#fff" stroke="#1a1a1a" stroke-width="0.7"/>
<circle cx="459.61" cy="575.53" r="2.5" fill="#fff" stroke="#1a1a1a" stroke-width="0.7"/>
<circle cx="464.88" cy="573.26" r="2.5" fill="#fff" stroke="#1a1a1a" stroke-width="0.7"/>
<circle cx="470.15" cy="573.51" r="2.5" fill="#fff" stroke="#1a1a1a" stroke-width="0.7"/>
<circle cx="475.42" cy="574.77" r="2.5" fill="#fff" stroke="#1a1a1a" stroke-width="0.7"/>
<circle cx="480.69" cy="579.33" r="2.5" fill="#fff" stroke="#1a1a1a" stroke-width="0.7"/>
<circle cx="485.96" cy="576.80" r="2.5" fill="#fff" stroke="#1a1a1a" stroke-width="0.7"/>
<circle cx="491.23" cy="577.56" r="2.5" fill="#fff" stroke="#1a1a1a" stroke-width="0.7"/>
<circle cx="496.50" cy="581.10" r="2.5" fill="#fff" stroke="#1a1a1a" stroke-width="0.7"/>
<circle cx="501.77" cy="580.59" r="2.5" fill="#fff" stroke="#1a1a1a" stroke-width="0.7"/>
<circle cx="507.04" cy="584.14" r="2.5" fill="#fff" stroke="#1a1a1a" stroke-width="0.7"/>
<circle cx="512.31" cy="584.14" r="2.5" fill="#fff" stroke="#1a1a1a" stroke-width="0.7"/>
<circle cx="517.58" cy="584.39" r="2.5" fill="#fff" stroke="#1a1a1a" stroke-width="0.7"/>
<circle cx="312.05" cy="581.61" r="2.55" fill="#000" stroke="none" stroke-width="1"/>
<circle cx="317.32" cy="581.10" r="2.55" fill="#000" stroke="none" stroke-width="1"/>
<circle cx="322.59" cy="579.33" r="2.55" fill="#000" stroke="none" stroke-width="1"/>
<circle cx="327.86" cy="581.35" r="2.55" fill="#000" stroke="none" stroke-width="1"/>
<circle cx="333.13" cy="579.83" r="2.55" fill="#000" stroke="none" stroke-width="1"/>
<circle cx="364.75" cy="579.83" r="2.55" fill="#000" stroke="none" stroke-width="1"/>
<circle cx="370.02" cy="573.26" r="2.55" fill="#000" stroke="none" stroke-width="1"/>
<circle cx="375.29" cy="572.75" r="2.55" fill="#000" stroke="none" stroke-width="1"/>
<circle cx="380.56" cy="575.28" r="2.55" fill="#000" stroke="none" stroke-width="1"/>
<circle cx="385.83" cy="570.47" r="2.55" fill="#000" stroke="none" stroke-width="1"/>
<circle cx="391.10" cy="572.75" r="2.55" fill="#000" stroke="none" stroke-width="1"/>
<circle cx="396.37" cy="571.74" r="2.55" fill="#000" stroke="none" stroke-width="1"/>
<circle cx="401.64" cy="570.22" r="2.55" fill="#000" stroke="none" stroke-width="1"/>
<circle cx="406.91" cy="570.73" r="2.55" fill="#000" stroke="none" stroke-width="1"/>
<circle cx="412.18" cy="567.69" r="2.55" fill="#000" stroke="none" stroke-width="1"/>
<circle cx="417.45" cy="564.91" r="2.55" fill="#000" stroke="none" stroke-width="1"/>
<circle cx="422.72" cy="566.43" r="2.55" fill="#000" stroke="none" stroke-width="1"/>
<circle cx="427.99" cy="561.11" r="2.55" fill="#000" stroke="none" stroke-width="1"/>
<circle cx="433.26" cy="558.33" r="2.55" fill="#000" stroke="none" stroke-width="1"/>
<circle cx="438.53" cy="554.28" r="2.55" fill="#000" stroke="none" stroke-width="1"/>
<circle cx="443.80" cy="554.28" r="2.55" fill="#000" stroke="none" stroke-width="1"/>
<circle cx="449.07" cy="550.99" r="2.55" fill="#000" stroke="none" stroke-width="1"/>
<circle cx="454.34" cy="553.78" r="2.55" fill="#000" stroke="none" stroke-width="1"/>
<circle cx="459.61" cy="552.26" r="2.55" fill="#000" stroke="none" stroke-width="1"/>
<circle cx="464.88" cy="549.22" r="2.55" fill="#000" stroke="none" stroke-width="1"/>
<circle cx="470.15" cy="543.40" r="2.55" fill="#000" stroke="none" stroke-width="1"/>
<circle cx="475.42" cy="542.64" r="2.55" fill="#000" stroke="none" stroke-width="1"/>
<circle cx="480.69" cy="540.62" r="2.55" fill="#000" stroke="none" stroke-width="1"/>
<circle cx="485.96" cy="538.34" r="2.55" fill="#000" stroke="none" stroke-width="1"/>
<circle cx="491.23" cy="543.15" r="2.55" fill="#000" stroke="none" stroke-width="1"/>
<circle cx="496.50" cy="538.60" r="2.55" fill="#000" stroke="none" stroke-width="1"/>
<circle cx="501.77" cy="540.11" r="2.55" fill="#000" stroke="none" stroke-width="1"/>
<circle cx="507.04" cy="536.57" r="2.55" fill="#000" stroke="none" stroke-width="1"/>
<circle cx="512.31" cy="541.63" r="2.55" fill="#000" stroke="none" stroke-width="1"/>
<circle cx="517.58" cy="543.40" r="2.55" fill="#000" stroke="none" stroke-width="1"/>
<circle cx="331.80" cy="477.60" r="3.1" fill="#000" stroke="none" stroke-width="1"/>
<circle cx="407.70" cy="477.60" r="3.0" fill="#fff" stroke="#555" stroke-width="0.85"/>
<path d="M352.9,477.4 C353.3,477.7 354.4,478.8 355.3,479.3 C356.2,479.8 357.2,480.4 358.0,480.6 C358.8,480.8 359.0,480.6 360.2,480.5 C361.4,480.4 362.8,480.1 365.0,479.8 C367.2,479.5 368.6,479.1 373.5,478.8 C378.4,478.5 390.8,478.1 394.2,478.0" stroke="#000" stroke-width="1.6" fill="none" stroke-linejoin="round" stroke-linecap="round"/>
<path d="M420.0,477.6 C420.5,477.6 421.9,477.6 423.0,477.5 C424.1,477.4 425.8,475.8 426.9,476.8 C428.0,477.8 428.7,481.5 429.5,483.5 C430.3,485.5 430.7,488.4 431.8,489.0 C432.9,489.6 434.4,487.7 436.0,486.8 C437.6,485.9 438.6,484.7 441.5,483.5 C444.4,482.3 449.0,480.4 453.6,479.5 C458.2,478.6 466.8,478.1 469.4,477.8" stroke="#000" stroke-width="1.6" fill="none" stroke-linejoin="round" stroke-linecap="round"/>
<polyline points="340.0,477.6 352.9,477.2" stroke="#f00000" stroke-width="1.6" fill="none" stroke-linejoin="round" stroke-linecap="round"/>
<polyline points="348.5,463.5 348.5,492.6" stroke="#f00000" stroke-width="1.6" fill="none" stroke-linejoin="round" stroke-linecap="round"/>
<path d="M352.9,477.2 C353.3,477.9 354.4,480.3 355.3,481.7 C356.2,483.1 357.0,484.7 358.0,485.5 C359.0,486.3 360.1,486.4 361.4,486.5 C362.7,486.6 364.0,486.4 366.0,485.8 C368.0,485.2 370.3,483.9 373.5,482.9 C376.7,481.9 381.6,480.7 385.0,480.0 C388.4,479.3 392.7,478.8 394.2,478.5" stroke="#f00000" stroke-width="1.6" fill="none" stroke-linejoin="round" stroke-linecap="round"/>
<polyline points="414.8,477.6 422.0,477.6" stroke="#f00000" stroke-width="1.6" fill="none" stroke-linejoin="round" stroke-linecap="round"/>
<polyline points="423.3,465.9 423.3,516.9" stroke="#f00000" stroke-width="1.6" fill="none" stroke-linejoin="round" stroke-linecap="round"/>
<path d="M423.3,477.6 C423.9,477.5 425.9,475.7 426.9,476.8 C427.9,477.9 428.7,482.3 429.5,484.5 C430.3,486.7 430.7,489.6 431.8,490.2 C432.9,490.8 434.4,488.8 436.0,487.8 C437.6,486.8 438.6,485.4 441.5,484.1 C444.4,482.8 449.0,480.8 453.6,479.8 C458.2,478.8 466.8,478.3 469.4,478.0" stroke="#f00000" stroke-width="1.6" fill="none" stroke-linejoin="round" stroke-linecap="round"/>
<polyline points="486.9,468.3 486.9,481.0 500.2,481.0" stroke="#000" stroke-width="1.4" fill="none" stroke-linejoin="round" stroke-linecap="round" stroke-linecap="butt" stroke-linejoin="miter"/>
<line x1="307.40" y1="671.20" x2="307.40" y2="826.00" stroke="#7a7a7a" stroke-width="0.9"/>
<line x1="305.20" y1="826.00" x2="307.40" y2="826.00" stroke="#7a7a7a" stroke-width="0.9"/>
<text x="302.4" y="829.8" font-size="12.8" text-anchor="end" fill="#000">0</text>
<line x1="305.20" y1="800.20" x2="307.40" y2="800.20" stroke="#7a7a7a" stroke-width="0.9"/>
<text x="302.4" y="804.0" font-size="12.8" text-anchor="end" fill="#000">1</text>
<line x1="305.20" y1="774.40" x2="307.40" y2="774.40" stroke="#7a7a7a" stroke-width="0.9"/>
<text x="302.4" y="778.2" font-size="12.8" text-anchor="end" fill="#000">2</text>
<line x1="305.20" y1="748.60" x2="307.40" y2="748.60" stroke="#7a7a7a" stroke-width="0.9"/>
<text x="302.4" y="752.4" font-size="12.8" text-anchor="end" fill="#000">3</text>
<line x1="305.20" y1="722.80" x2="307.40" y2="722.80" stroke="#7a7a7a" stroke-width="0.9"/>
<text x="302.4" y="726.6" font-size="12.8" text-anchor="end" fill="#000">4</text>
<line x1="305.20" y1="697.00" x2="307.40" y2="697.00" stroke="#7a7a7a" stroke-width="0.9"/>
<text x="302.4" y="700.8" font-size="12.8" text-anchor="end" fill="#000">5</text>
<line x1="305.20" y1="671.20" x2="307.40" y2="671.20" stroke="#7a7a7a" stroke-width="0.9"/>
<text x="302.4" y="675.0" font-size="12.8" text-anchor="end" fill="#000">6</text>
<line x1="307.40" y1="826.00" x2="521.40" y2="826.00" stroke="#aaaaaa" stroke-width="1.4"/>
<line x1="307.00" y1="826.00" x2="307.00" y2="828.20" stroke="#aaaaaa" stroke-width="1.4"/>
<text x="308.3" y="839.0" font-size="12.8" text-anchor="middle" fill="#000">0</text>
<line x1="360.60" y1="826.00" x2="360.60" y2="828.20" stroke="#aaaaaa" stroke-width="1.4"/>
<text x="361.9" y="839.0" font-size="12.8" text-anchor="middle" fill="#000">10</text>
<line x1="414.20" y1="826.00" x2="414.20" y2="828.20" stroke="#aaaaaa" stroke-width="1.4"/>
<text x="415.5" y="839.0" font-size="12.8" text-anchor="middle" fill="#000">20</text>
<line x1="467.80" y1="826.00" x2="467.80" y2="828.20" stroke="#aaaaaa" stroke-width="1.4"/>
<text x="469.1" y="839.0" font-size="12.8" text-anchor="middle" fill="#000">30</text>
<line x1="521.40" y1="826.00" x2="521.40" y2="828.20" stroke="#aaaaaa" stroke-width="1.4"/>
<text x="522.7" y="839.0" font-size="12.8" text-anchor="middle" fill="#000">40</text>
<text x="288.0" y="748.6" font-size="13.2" text-anchor="middle" fill="#000" transform="rotate(-90 288.0 748.6)">Normalised EPSC Amplitude</text>
<text x="422.0" y="850.3" font-size="13.2" text-anchor="middle" fill="#000">Time (min)</text>
<line x1="308.07" y1="800.20" x2="523.01" y2="800.20" stroke="#555" stroke-width="0.7" stroke-dasharray="0.8,2.2"/>
<line x1="308.30" y1="814.70" x2="333.80" y2="814.70" stroke="#000" stroke-width="1.6"/>
<line x1="496.70" y1="814.30" x2="522.00" y2="814.30" stroke="#f00000" stroke-width="1.6"/>
<rect x="340.10" y="795.10" width="19.60" height="9.50" fill="#000080"/>
<line x1="340.10" y1="787.30" x2="359.40" y2="787.30" stroke="#4a4a4a" stroke-width="0.8"/>
<line x1="344.10" y1="787.30" x2="354.10" y2="787.30" stroke="#4a4a4a" stroke-width="1.3"/>
<polyline points="346.6,787.4 346.9,787.0 347.3,788.0 347.7,785.9 348.0,789.7 348.4,783.8 348.7,791.7 349.1,782.5 349.5,791.7 349.8,783.8 350.2,789.7 350.5,785.9 350.9,788.0 351.3,787.0 351.6,787.4" stroke="#555" stroke-width="0.75" fill="none" stroke-linejoin="round" stroke-linecap="round"/>
<line x1="311.93" y1="800.72" x2="311.93" y2="803.30" stroke="#888" stroke-width="0.8"/>
<line x1="309.83" y1="800.72" x2="314.03" y2="800.72" stroke="#888" stroke-width="0.8"/>
<line x1="309.83" y1="803.30" x2="314.03" y2="803.30" stroke="#888" stroke-width="0.8"/>
<line x1="317.29" y1="800.46" x2="317.29" y2="803.04" stroke="#666" stroke-width="0.8"/>
<line x1="315.19" y1="800.46" x2="319.39" y2="800.46" stroke="#666" stroke-width="0.8"/>
<line x1="315.19" y1="803.04" x2="319.39" y2="803.04" stroke="#666" stroke-width="0.8"/>
<line x1="322.65" y1="796.59" x2="322.65" y2="799.17" stroke="#888" stroke-width="0.8"/>
<line x1="320.55" y1="796.59" x2="324.75" y2="796.59" stroke="#888" stroke-width="0.8"/>
<line x1="320.55" y1="799.17" x2="324.75" y2="799.17" stroke="#888" stroke-width="0.8"/>
<line x1="328.01" y1="798.91" x2="328.01" y2="801.49" stroke="#666" stroke-width="0.8"/>
<line x1="325.91" y1="798.91" x2="330.11" y2="798.91" stroke="#666" stroke-width="0.8"/>
<line x1="325.91" y1="801.49" x2="330.11" y2="801.49" stroke="#666" stroke-width="0.8"/>
<line x1="333.37" y1="798.39" x2="333.37" y2="800.97" stroke="#888" stroke-width="0.8"/>
<line x1="331.27" y1="798.39" x2="335.47" y2="798.39" stroke="#888" stroke-width="0.8"/>
<line x1="331.27" y1="800.97" x2="335.47" y2="800.97" stroke="#888" stroke-width="0.8"/>
<line x1="365.53" y1="797.65" x2="365.53" y2="803.27" stroke="#666" stroke-width="0.8"/>
<line x1="363.43" y1="797.65" x2="367.63" y2="797.65" stroke="#666" stroke-width="0.8"/>
<line x1="363.43" y1="803.27" x2="367.63" y2="803.27" stroke="#666" stroke-width="0.8"/>
<line x1="370.89" y1="797.29" x2="370.89" y2="803.11" stroke="#888" stroke-width="0.8"/>
<line x1="368.79" y1="797.29" x2="372.99" y2="797.29" stroke="#888" stroke-width="0.8"/>
<line x1="368.79" y1="803.11" x2="372.99" y2="803.11" stroke="#888" stroke-width="0.8"/>
<line x1="376.25" y1="796.97" x2="376.25" y2="802.39" stroke="#666" stroke-width="0.8"/>
<line x1="374.15" y1="796.97" x2="378.35" y2="796.97" stroke="#666" stroke-width="0.8"/>
<line x1="374.15" y1="802.39" x2="378.35" y2="802.39" stroke="#666" stroke-width="0.8"/>
<line x1="381.61" y1="798.12" x2="381.61" y2="803.31" stroke="#888" stroke-width="0.8"/>
<line x1="379.51" y1="798.12" x2="383.71" y2="798.12" stroke="#888" stroke-width="0.8"/>
<line x1="379.51" y1="803.31" x2="383.71" y2="803.31" stroke="#888" stroke-width="0.8"/>
<line x1="386.97" y1="797.76" x2="386.97" y2="802.64" stroke="#666" stroke-width="0.8"/>
<line x1="384.87" y1="797.76" x2="389.07" y2="797.76" stroke="#666" stroke-width="0.8"/>
<line x1="384.87" y1="802.64" x2="389.07" y2="802.64" stroke="#666" stroke-width="0.8"/>
<line x1="392.33" y1="795.83" x2="392.33" y2="801.99" stroke="#888" stroke-width="0.8"/>
<line x1="390.23" y1="795.83" x2="394.43" y2="795.83" stroke="#888" stroke-width="0.8"/>
<line x1="390.23" y1="801.99" x2="394.43" y2="801.99" stroke="#888" stroke-width="0.8"/>
<line x1="397.69" y1="795.16" x2="397.69" y2="801.12" stroke="#666" stroke-width="0.8"/>
<line x1="395.59" y1="795.16" x2="399.79" y2="795.16" stroke="#666" stroke-width="0.8"/>
<line x1="395.59" y1="801.12" x2="399.79" y2="801.12" stroke="#666" stroke-width="0.8"/>
<line x1="403.05" y1="794.30" x2="403.05" y2="800.94" stroke="#888" stroke-width="0.8"/>
<line x1="400.95" y1="794.30" x2="405.15" y2="794.30" stroke="#888" stroke-width="0.8"/>
<line x1="400.95" y1="800.94" x2="405.15" y2="800.94" stroke="#888" stroke-width="0.8"/>
<line x1="408.41" y1="793.30" x2="408.41" y2="799.36" stroke="#666" stroke-width="0.8"/>
<line x1="406.31" y1="793.30" x2="410.51" y2="793.30" stroke="#666" stroke-width="0.8"/>
<line x1="406.31" y1="799.36" x2="410.51" y2="799.36" stroke="#666" stroke-width="0.8"/>
<line x1="413.77" y1="792.59" x2="413.77" y2="799.55" stroke="#888" stroke-width="0.8"/>
<line x1="411.67" y1="792.59" x2="415.87" y2="792.59" stroke="#888" stroke-width="0.8"/>
<line x1="411.67" y1="799.55" x2="415.87" y2="799.55" stroke="#888" stroke-width="0.8"/>
<line x1="419.13" y1="794.04" x2="419.13" y2="800.17" stroke="#666" stroke-width="0.8"/>
<line x1="417.03" y1="794.04" x2="421.23" y2="794.04" stroke="#666" stroke-width="0.8"/>
<line x1="417.03" y1="800.17" x2="421.23" y2="800.17" stroke="#666" stroke-width="0.8"/>
<line x1="424.49" y1="790.86" x2="424.49" y2="798.19" stroke="#888" stroke-width="0.8"/>
<line x1="422.39" y1="790.86" x2="426.59" y2="790.86" stroke="#888" stroke-width="0.8"/>
<line x1="422.39" y1="798.19" x2="426.59" y2="798.19" stroke="#888" stroke-width="0.8"/>
<line x1="429.85" y1="785.95" x2="429.85" y2="793.29" stroke="#666" stroke-width="0.8"/>
<line x1="427.75" y1="785.95" x2="431.95" y2="785.95" stroke="#666" stroke-width="0.8"/>
<line x1="427.75" y1="793.29" x2="431.95" y2="793.29" stroke="#666" stroke-width="0.8"/>
<line x1="435.21" y1="785.43" x2="435.21" y2="792.26" stroke="#888" stroke-width="0.8"/>
<line x1="433.11" y1="785.43" x2="437.31" y2="785.43" stroke="#888" stroke-width="0.8"/>
<line x1="433.11" y1="792.26" x2="437.31" y2="792.26" stroke="#888" stroke-width="0.8"/>
<line x1="440.57" y1="787.04" x2="440.57" y2="794.27" stroke="#666" stroke-width="0.8"/>
<line x1="438.47" y1="787.04" x2="442.67" y2="787.04" stroke="#666" stroke-width="0.8"/>
<line x1="438.47" y1="794.27" x2="442.67" y2="794.27" stroke="#666" stroke-width="0.8"/>
<line x1="445.93" y1="785.26" x2="445.93" y2="792.95" stroke="#888" stroke-width="0.8"/>
<line x1="443.83" y1="785.26" x2="448.03" y2="785.26" stroke="#888" stroke-width="0.8"/>
<line x1="443.83" y1="792.95" x2="448.03" y2="792.95" stroke="#888" stroke-width="0.8"/>
<line x1="451.29" y1="787.28" x2="451.29" y2="794.03" stroke="#666" stroke-width="0.8"/>
<line x1="449.19" y1="787.28" x2="453.39" y2="787.28" stroke="#666" stroke-width="0.8"/>
<line x1="449.19" y1="794.03" x2="453.39" y2="794.03" stroke="#666" stroke-width="0.8"/>
<line x1="456.65" y1="791.19" x2="456.65" y2="798.89" stroke="#888" stroke-width="0.8"/>
<line x1="454.55" y1="791.19" x2="458.75" y2="791.19" stroke="#888" stroke-width="0.8"/>
<line x1="454.55" y1="798.89" x2="458.75" y2="798.89" stroke="#888" stroke-width="0.8"/>
<line x1="462.01" y1="794.70" x2="462.01" y2="803.12" stroke="#666" stroke-width="0.8"/>
<line x1="459.91" y1="794.70" x2="464.11" y2="794.70" stroke="#666" stroke-width="0.8"/>
<line x1="459.91" y1="803.12" x2="464.11" y2="803.12" stroke="#666" stroke-width="0.8"/>
<line x1="467.37" y1="792.67" x2="467.37" y2="799.99" stroke="#888" stroke-width="0.8"/>
<line x1="465.27" y1="792.67" x2="469.47" y2="792.67" stroke="#888" stroke-width="0.8"/>
<line x1="465.27" y1="799.99" x2="469.47" y2="799.99" stroke="#888" stroke-width="0.8"/>
<line x1="472.73" y1="789.64" x2="472.73" y2="798.38" stroke="#666" stroke-width="0.8"/>
<line x1="470.63" y1="789.64" x2="474.83" y2="789.64" stroke="#666" stroke-width="0.8"/>
<line x1="470.63" y1="798.38" x2="474.83" y2="798.38" stroke="#666" stroke-width="0.8"/>
<line x1="478.09" y1="792.29" x2="478.09" y2="800.89" stroke="#888" stroke-width="0.8"/>
<line x1="475.99" y1="792.29" x2="480.19" y2="792.29" stroke="#888" stroke-width="0.8"/>
<line x1="475.99" y1="800.89" x2="480.19" y2="800.89" stroke="#888" stroke-width="0.8"/>
<line x1="483.45" y1="788.40" x2="483.45" y2="797.55" stroke="#666" stroke-width="0.8"/>
<line x1="481.35" y1="788.40" x2="485.55" y2="788.40" stroke="#666" stroke-width="0.8"/>
<line x1="481.35" y1="797.55" x2="485.55" y2="797.55" stroke="#666" stroke-width="0.8"/>
<line x1="488.81" y1="789.48" x2="488.81" y2="797.50" stroke="#888" stroke-width="0.8"/>
<line x1="486.71" y1="789.48" x2="490.91" y2="789.48" stroke="#888" stroke-width="0.8"/>
<line x1="486.71" y1="797.50" x2="490.91" y2="797.50" stroke="#888" stroke-width="0.8"/>
<line x1="494.17" y1="786.89" x2="494.17" y2="794.42" stroke="#666" stroke-width="0.8"/>
<line x1="492.07" y1="786.89" x2="496.27" y2="786.89" stroke="#666" stroke-width="0.8"/>
<line x1="492.07" y1="794.42" x2="496.27" y2="794.42" stroke="#666" stroke-width="0.8"/>
<line x1="499.53" y1="788.22" x2="499.53" y2="797.73" stroke="#888" stroke-width="0.8"/>
<line x1="497.43" y1="788.22" x2="501.63" y2="788.22" stroke="#888" stroke-width="0.8"/>
<line x1="497.43" y1="797.73" x2="501.63" y2="797.73" stroke="#888" stroke-width="0.8"/>
<line x1="504.89" y1="788.91" x2="504.89" y2="798.59" stroke="#666" stroke-width="0.8"/>
<line x1="502.79" y1="788.91" x2="506.99" y2="788.91" stroke="#666" stroke-width="0.8"/>
<line x1="502.79" y1="798.59" x2="506.99" y2="798.59" stroke="#666" stroke-width="0.8"/>
<line x1="510.25" y1="783.90" x2="510.25" y2="792.76" stroke="#888" stroke-width="0.8"/>
<line x1="508.15" y1="783.90" x2="512.35" y2="783.90" stroke="#888" stroke-width="0.8"/>
<line x1="508.15" y1="792.76" x2="512.35" y2="792.76" stroke="#888" stroke-width="0.8"/>
<line x1="515.61" y1="788.96" x2="515.61" y2="796.99" stroke="#666" stroke-width="0.8"/>
<line x1="513.51" y1="788.96" x2="517.71" y2="788.96" stroke="#666" stroke-width="0.8"/>
<line x1="513.51" y1="796.99" x2="517.71" y2="796.99" stroke="#666" stroke-width="0.8"/>
<line x1="520.97" y1="788.75" x2="520.97" y2="797.20" stroke="#888" stroke-width="0.8"/>
<line x1="518.87" y1="788.75" x2="523.07" y2="788.75" stroke="#888" stroke-width="0.8"/>
<line x1="518.87" y1="797.20" x2="523.07" y2="797.20" stroke="#888" stroke-width="0.8"/>
<line x1="311.93" y1="798.14" x2="311.93" y2="800.72" stroke="#a8a8a8" stroke-width="0.8"/>
<line x1="309.83" y1="798.14" x2="314.03" y2="798.14" stroke="#a8a8a8" stroke-width="0.8"/>
<line x1="309.83" y1="800.72" x2="314.03" y2="800.72" stroke="#a8a8a8" stroke-width="0.8"/>
<line x1="317.29" y1="795.81" x2="317.29" y2="798.39" stroke="#6a6a6a" stroke-width="0.8"/>
<line x1="315.19" y1="795.81" x2="319.39" y2="795.81" stroke="#6a6a6a" stroke-width="0.8"/>
<line x1="315.19" y1="798.39" x2="319.39" y2="798.39" stroke="#6a6a6a" stroke-width="0.8"/>
<line x1="322.65" y1="802.26" x2="322.65" y2="804.84" stroke="#6a6a6a" stroke-width="0.8"/>
<line x1="320.55" y1="802.26" x2="324.75" y2="802.26" stroke="#6a6a6a" stroke-width="0.8"/>
<line x1="320.55" y1="804.84" x2="324.75" y2="804.84" stroke="#6a6a6a" stroke-width="0.8"/>
<line x1="328.01" y1="797.36" x2="328.01" y2="799.94" stroke="#a8a8a8" stroke-width="0.8"/>
<line x1="325.91" y1="797.36" x2="330.11" y2="797.36" stroke="#a8a8a8" stroke-width="0.8"/>
<line x1="325.91" y1="799.94" x2="330.11" y2="799.94" stroke="#a8a8a8" stroke-width="0.8"/>
<line x1="333.37" y1="798.65" x2="333.37" y2="801.23" stroke="#6a6a6a" stroke-width="0.8"/>
<line x1="331.27" y1="798.65" x2="335.47" y2="798.65" stroke="#6a6a6a" stroke-width="0.8"/>
<line x1="331.27" y1="801.23" x2="335.47" y2="801.23" stroke="#6a6a6a" stroke-width="0.8"/>
<line x1="365.53" y1="789.88" x2="365.53" y2="802.78" stroke="#6a6a6a" stroke-width="0.8"/>
<line x1="363.43" y1="789.88" x2="367.63" y2="789.88" stroke="#6a6a6a" stroke-width="0.8"/>
<line x1="363.43" y1="802.78" x2="367.63" y2="802.78" stroke="#6a6a6a" stroke-width="0.8"/>
<line x1="370.89" y1="795.04" x2="370.89" y2="802.78" stroke="#a8a8a8" stroke-width="0.8"/>
<line x1="368.79" y1="795.04" x2="372.99" y2="795.04" stroke="#a8a8a8" stroke-width="0.8"/>
<line x1="368.79" y1="802.78" x2="372.99" y2="802.78" stroke="#a8a8a8" stroke-width="0.8"/>
<line x1="376.25" y1="791.69" x2="376.25" y2="807.17" stroke="#6a6a6a" stroke-width="0.8"/>
<line x1="374.15" y1="791.69" x2="378.35" y2="791.69" stroke="#6a6a6a" stroke-width="0.8"/>
<line x1="374.15" y1="807.17" x2="378.35" y2="807.17" stroke="#6a6a6a" stroke-width="0.8"/>
<line x1="381.61" y1="797.10" x2="381.61" y2="804.84" stroke="#6a6a6a" stroke-width="0.8"/>
<line x1="379.51" y1="797.10" x2="383.71" y2="797.10" stroke="#6a6a6a" stroke-width="0.8"/>
<line x1="379.51" y1="804.84" x2="383.71" y2="804.84" stroke="#6a6a6a" stroke-width="0.8"/>
<line x1="386.97" y1="796.59" x2="386.97" y2="804.33" stroke="#a8a8a8" stroke-width="0.8"/>
<line x1="384.87" y1="796.59" x2="389.07" y2="796.59" stroke="#a8a8a8" stroke-width="0.8"/>
<line x1="384.87" y1="804.33" x2="389.07" y2="804.33" stroke="#a8a8a8" stroke-width="0.8"/>
<line x1="392.33" y1="791.43" x2="392.33" y2="799.68" stroke="#6a6a6a" stroke-width="0.8"/>
<line x1="390.23" y1="791.43" x2="394.43" y2="791.43" stroke="#6a6a6a" stroke-width="0.8"/>
<line x1="390.23" y1="799.68" x2="394.43" y2="799.68" stroke="#6a6a6a" stroke-width="0.8"/>
<line x1="397.69" y1="792.46" x2="397.69" y2="803.81" stroke="#6a6a6a" stroke-width="0.8"/>
<line x1="395.59" y1="792.46" x2="399.79" y2="792.46" stroke="#6a6a6a" stroke-width="0.8"/>
<line x1="395.59" y1="803.81" x2="399.79" y2="803.81" stroke="#6a6a6a" stroke-width="0.8"/>
<line x1="403.05" y1="788.59" x2="403.05" y2="800.46" stroke="#a8a8a8" stroke-width="0.8"/>
<line x1="400.95" y1="788.59" x2="405.15" y2="788.59" stroke="#a8a8a8" stroke-width="0.8"/>
<line x1="400.95" y1="800.46" x2="405.15" y2="800.46" stroke="#a8a8a8" stroke-width="0.8"/>
<line x1="408.41" y1="775.17" x2="408.41" y2="790.65" stroke="#6a6a6a" stroke-width="0.8"/>
<line x1="406.31" y1="775.17" x2="410.51" y2="775.17" stroke="#6a6a6a" stroke-width="0.8"/>
<line x1="406.31" y1="790.65" x2="410.51" y2="790.65" stroke="#6a6a6a" stroke-width="0.8"/>
<line x1="413.77" y1="770.27" x2="413.77" y2="790.91" stroke="#6a6a6a" stroke-width="0.8"/>
<line x1="411.67" y1="770.27" x2="415.87" y2="770.27" stroke="#6a6a6a" stroke-width="0.8"/>
<line x1="411.67" y1="790.91" x2="415.87" y2="790.91" stroke="#6a6a6a" stroke-width="0.8"/>
<line x1="419.13" y1="768.21" x2="419.13" y2="787.82" stroke="#a8a8a8" stroke-width="0.8"/>
<line x1="417.03" y1="768.21" x2="421.23" y2="768.21" stroke="#a8a8a8" stroke-width="0.8"/>
<line x1="417.03" y1="787.82" x2="421.23" y2="787.82" stroke="#a8a8a8" stroke-width="0.8"/>
<line x1="424.49" y1="768.21" x2="424.49" y2="788.33" stroke="#6a6a6a" stroke-width="0.8"/>
<line x1="422.39" y1="768.21" x2="426.59" y2="768.21" stroke="#6a6a6a" stroke-width="0.8"/>
<line x1="422.39" y1="788.33" x2="426.59" y2="788.33" stroke="#6a6a6a" stroke-width="0.8"/>
<line x1="429.85" y1="763.56" x2="429.85" y2="782.14" stroke="#6a6a6a" stroke-width="0.8"/>
<line x1="427.75" y1="763.56" x2="431.95" y2="763.56" stroke="#6a6a6a" stroke-width="0.8"/>
<line x1="427.75" y1="782.14" x2="431.95" y2="782.14" stroke="#6a6a6a" stroke-width="0.8"/>
<line x1="435.21" y1="762.02" x2="435.21" y2="783.17" stroke="#a8a8a8" stroke-width="0.8"/>
<line x1="433.11" y1="762.02" x2="437.31" y2="762.02" stroke="#a8a8a8" stroke-width="0.8"/>
<line x1="433.11" y1="783.17" x2="437.31" y2="783.17" stroke="#a8a8a8" stroke-width="0.8"/>
<line x1="440.57" y1="759.95" x2="440.57" y2="779.04" stroke="#6a6a6a" stroke-width="0.8"/>
<line x1="438.47" y1="759.95" x2="442.67" y2="759.95" stroke="#6a6a6a" stroke-width="0.8"/>
<line x1="438.47" y1="779.04" x2="442.67" y2="779.04" stroke="#6a6a6a" stroke-width="0.8"/>
<line x1="445.93" y1="751.95" x2="445.93" y2="772.59" stroke="#6a6a6a" stroke-width="0.8"/>
<line x1="443.83" y1="751.95" x2="448.03" y2="751.95" stroke="#6a6a6a" stroke-width="0.8"/>
<line x1="443.83" y1="772.59" x2="448.03" y2="772.59" stroke="#6a6a6a" stroke-width="0.8"/>
<line x1="451.29" y1="748.86" x2="451.29" y2="775.69" stroke="#a8a8a8" stroke-width="0.8"/>
<line x1="449.19" y1="748.86" x2="453.39" y2="748.86" stroke="#a8a8a8" stroke-width="0.8"/>
<line x1="449.19" y1="775.69" x2="453.39" y2="775.69" stroke="#a8a8a8" stroke-width="0.8"/>
<line x1="456.65" y1="746.79" x2="456.65" y2="775.17" stroke="#6a6a6a" stroke-width="0.8"/>
<line x1="454.55" y1="746.79" x2="458.75" y2="746.79" stroke="#6a6a6a" stroke-width="0.8"/>
<line x1="454.55" y1="775.17" x2="458.75" y2="775.17" stroke="#6a6a6a" stroke-width="0.8"/>
<line x1="462.01" y1="733.38" x2="462.01" y2="772.59" stroke="#6a6a6a" stroke-width="0.8"/>
<line x1="459.91" y1="733.38" x2="464.11" y2="733.38" stroke="#6a6a6a" stroke-width="0.8"/>
<line x1="459.91" y1="772.59" x2="464.11" y2="772.59" stroke="#6a6a6a" stroke-width="0.8"/>
<line x1="467.37" y1="724.35" x2="467.37" y2="767.69" stroke="#a8a8a8" stroke-width="0.8"/>
<line x1="465.27" y1="724.35" x2="469.47" y2="724.35" stroke="#a8a8a8" stroke-width="0.8"/>
<line x1="465.27" y1="767.69" x2="469.47" y2="767.69" stroke="#a8a8a8" stroke-width="0.8"/>
<line x1="472.73" y1="732.60" x2="472.73" y2="771.82" stroke="#6a6a6a" stroke-width="0.8"/>
<line x1="470.63" y1="732.60" x2="474.83" y2="732.60" stroke="#6a6a6a" stroke-width="0.8"/>
<line x1="470.63" y1="771.82" x2="474.83" y2="771.82" stroke="#6a6a6a" stroke-width="0.8"/>
<line x1="478.09" y1="736.47" x2="478.09" y2="775.69" stroke="#6a6a6a" stroke-width="0.8"/>
<line x1="475.99" y1="736.47" x2="480.19" y2="736.47" stroke="#6a6a6a" stroke-width="0.8"/>
<line x1="475.99" y1="775.69" x2="480.19" y2="775.69" stroke="#6a6a6a" stroke-width="0.8"/>
<line x1="483.45" y1="736.47" x2="483.45" y2="767.43" stroke="#a8a8a8" stroke-width="0.8"/>
<line x1="481.35" y1="736.47" x2="485.55" y2="736.47" stroke="#a8a8a8" stroke-width="0.8"/>
<line x1="481.35" y1="767.43" x2="485.55" y2="767.43" stroke="#a8a8a8" stroke-width="0.8"/>
<line x1="488.81" y1="736.22" x2="488.81" y2="770.79" stroke="#6a6a6a" stroke-width="0.8"/>
<line x1="486.71" y1="736.22" x2="490.91" y2="736.22" stroke="#6a6a6a" stroke-width="0.8"/>
<line x1="486.71" y1="770.79" x2="490.91" y2="770.79" stroke="#6a6a6a" stroke-width="0.8"/>
<line x1="494.17" y1="709.90" x2="494.17" y2="755.31" stroke="#6a6a6a" stroke-width="0.8"/>
<line x1="492.07" y1="709.90" x2="496.27" y2="709.90" stroke="#6a6a6a" stroke-width="0.8"/>
<line x1="492.07" y1="755.31" x2="496.27" y2="755.31" stroke="#6a6a6a" stroke-width="0.8"/>
<line x1="499.53" y1="720.48" x2="499.53" y2="758.66" stroke="#a8a8a8" stroke-width="0.8"/>
<line x1="497.43" y1="720.48" x2="501.63" y2="720.48" stroke="#a8a8a8" stroke-width="0.8"/>
<line x1="497.43" y1="758.66" x2="501.63" y2="758.66" stroke="#a8a8a8" stroke-width="0.8"/>
<line x1="504.89" y1="719.19" x2="504.89" y2="753.24" stroke="#6a6a6a" stroke-width="0.8"/>
<line x1="502.79" y1="719.19" x2="506.99" y2="719.19" stroke="#6a6a6a" stroke-width="0.8"/>
<line x1="502.79" y1="753.24" x2="506.99" y2="753.24" stroke="#6a6a6a" stroke-width="0.8"/>
<line x1="510.25" y1="713.77" x2="510.25" y2="748.86" stroke="#6a6a6a" stroke-width="0.8"/>
<line x1="508.15" y1="713.77" x2="512.35" y2="713.77" stroke="#6a6a6a" stroke-width="0.8"/>
<line x1="508.15" y1="748.86" x2="512.35" y2="748.86" stroke="#6a6a6a" stroke-width="0.8"/>
<line x1="515.61" y1="705.00" x2="515.61" y2="743.70" stroke="#a8a8a8" stroke-width="0.8"/>
<line x1="513.51" y1="705.00" x2="517.71" y2="705.00" stroke="#a8a8a8" stroke-width="0.8"/>
<line x1="513.51" y1="743.70" x2="517.71" y2="743.70" stroke="#a8a8a8" stroke-width="0.8"/>
<line x1="520.97" y1="688.49" x2="520.97" y2="734.93" stroke="#6a6a6a" stroke-width="0.8"/>
<line x1="518.87" y1="688.49" x2="523.07" y2="688.49" stroke="#6a6a6a" stroke-width="0.8"/>
<line x1="518.87" y1="734.93" x2="523.07" y2="734.93" stroke="#6a6a6a" stroke-width="0.8"/>
<circle cx="311.93" cy="802.01" r="2.5" fill="#fff" stroke="#1a1a1a" stroke-width="0.7"/>
<circle cx="317.29" cy="801.75" r="2.5" fill="#fff" stroke="#1a1a1a" stroke-width="0.7"/>
<circle cx="322.65" cy="797.88" r="2.5" fill="#fff" stroke="#1a1a1a" stroke-width="0.7"/>
<circle cx="328.01" cy="800.20" r="2.5" fill="#fff" stroke="#1a1a1a" stroke-width="0.7"/>
<circle cx="333.37" cy="799.68" r="2.5" fill="#fff" stroke="#1a1a1a" stroke-width="0.7"/>
<circle cx="365.53" cy="800.46" r="2.5" fill="#fff" stroke="#1a1a1a" stroke-width="0.7"/>
<circle cx="370.89" cy="800.20" r="2.5" fill="#fff" stroke="#1a1a1a" stroke-width="0.7"/>
<circle cx="376.25" cy="799.68" r="2.5" fill="#fff" stroke="#1a1a1a" stroke-width="0.7"/>
<circle cx="381.61" cy="800.72" r="2.5" fill="#fff" stroke="#1a1a1a" stroke-width="0.7"/>
<circle cx="386.97" cy="800.20" r="2.5" fill="#fff" stroke="#1a1a1a" stroke-width="0.7"/>
<circle cx="392.33" cy="798.91" r="2.5" fill="#fff" stroke="#1a1a1a" stroke-width="0.7"/>
<circle cx="397.69" cy="798.14" r="2.5" fill="#fff" stroke="#1a1a1a" stroke-width="0.7"/>
<circle cx="403.05" cy="797.62" r="2.5" fill="#fff" stroke="#1a1a1a" stroke-width="0.7"/>
<circle cx="408.41" cy="796.33" r="2.5" fill="#fff" stroke="#1a1a1a" stroke-width="0.7"/>
<circle cx="413.77" cy="796.07" r="2.5" fill="#fff" stroke="#1a1a1a" stroke-width="0.7"/>
<circle cx="419.13" cy="797.10" r="2.5" fill="#fff" stroke="#1a1a1a" stroke-width="0.7"/>
<circle cx="424.49" cy="794.52" r="2.5" fill="#fff" stroke="#1a1a1a" stroke-width="0.7"/>
<circle cx="429.85" cy="789.62" r="2.5" fill="#fff" stroke="#1a1a1a" stroke-width="0.7"/>
<circle cx="435.21" cy="788.85" r="2.5" fill="#fff" stroke="#1a1a1a" stroke-width="0.7"/>
<circle cx="440.57" cy="790.65" r="2.5" fill="#fff" stroke="#1a1a1a" stroke-width="0.7"/>
<circle cx="445.93" cy="789.11" r="2.5" fill="#fff" stroke="#1a1a1a" stroke-width="0.7"/>
<circle cx="451.29" cy="790.65" r="2.5" fill="#fff" stroke="#1a1a1a" stroke-width="0.7"/>
<circle cx="456.65" cy="795.04" r="2.5" fill="#fff" stroke="#1a1a1a" stroke-width="0.7"/>
<circle cx="462.01" cy="798.91" r="2.5" fill="#fff" stroke="#1a1a1a" stroke-width="0.7"/>
<circle cx="467.37" cy="796.33" r="2.5" fill="#fff" stroke="#1a1a1a" stroke-width="0.7"/>
<circle cx="472.73" cy="794.01" r="2.5" fill="#fff" stroke="#1a1a1a" stroke-width="0.7"/>
<circle cx="478.09" cy="796.59" r="2.5" fill="#fff" stroke="#1a1a1a" stroke-width="0.7"/>
<circle cx="483.45" cy="792.98" r="2.5" fill="#fff" stroke="#1a1a1a" stroke-width="0.7"/>
<circle cx="488.81" cy="793.49" r="2.5" fill="#fff" stroke="#1a1a1a" stroke-width="0.7"/>
<circle cx="494.17" cy="790.65" r="2.5" fill="#fff" stroke="#1a1a1a" stroke-width="0.7"/>
<circle cx="499.53" cy="792.98" r="2.5" fill="#fff" stroke="#1a1a1a" stroke-width="0.7"/>
<circle cx="504.89" cy="793.75" r="2.5" fill="#fff" stroke="#1a1a1a" stroke-width="0.7"/>
<circle cx="510.25" cy="788.33" r="2.5" fill="#fff" stroke="#1a1a1a" stroke-width="0.7"/>
<circle cx="515.61" cy="792.98" r="2.5" fill="#fff" stroke="#1a1a1a" stroke-width="0.7"/>
<circle cx="520.97" cy="792.98" r="2.5" fill="#fff" stroke="#1a1a1a" stroke-width="0.7"/>
<circle cx="311.93" cy="799.43" r="2.55" fill="#000" stroke="none" stroke-width="1"/>
<circle cx="317.29" cy="797.10" r="2.55" fill="#000" stroke="none" stroke-width="1"/>
<circle cx="322.65" cy="803.55" r="2.55" fill="#000" stroke="none" stroke-width="1"/>
<circle cx="328.01" cy="798.65" r="2.55" fill="#000" stroke="none" stroke-width="1"/>
<circle cx="333.37" cy="799.94" r="2.55" fill="#000" stroke="none" stroke-width="1"/>
<circle cx="365.53" cy="796.33" r="2.55" fill="#000" stroke="none" stroke-width="1"/>
<circle cx="370.89" cy="798.91" r="2.55" fill="#000" stroke="none" stroke-width="1"/>
<circle cx="376.25" cy="799.43" r="2.55" fill="#000" stroke="none" stroke-width="1"/>
<circle cx="381.61" cy="800.97" r="2.55" fill="#000" stroke="none" stroke-width="1"/>
<circle cx="386.97" cy="800.46" r="2.55" fill="#000" stroke="none" stroke-width="1"/>
<circle cx="392.33" cy="795.56" r="2.55" fill="#000" stroke="none" stroke-width="1"/>
<circle cx="397.69" cy="798.14" r="2.55" fill="#000" stroke="none" stroke-width="1"/>
<circle cx="403.05" cy="794.52" r="2.55" fill="#000" stroke="none" stroke-width="1"/>
<circle cx="408.41" cy="782.91" r="2.55" fill="#000" stroke="none" stroke-width="1"/>
<circle cx="413.77" cy="780.59" r="2.55" fill="#000" stroke="none" stroke-width="1"/>
<circle cx="419.13" cy="778.01" r="2.55" fill="#000" stroke="none" stroke-width="1"/>
<circle cx="424.49" cy="778.27" r="2.55" fill="#000" stroke="none" stroke-width="1"/>
<circle cx="429.85" cy="772.85" r="2.55" fill="#000" stroke="none" stroke-width="1"/>
<circle cx="435.21" cy="772.59" r="2.55" fill="#000" stroke="none" stroke-width="1"/>
<circle cx="440.57" cy="769.50" r="2.55" fill="#000" stroke="none" stroke-width="1"/>
<circle cx="445.93" cy="762.27" r="2.55" fill="#000" stroke="none" stroke-width="1"/>
<circle cx="451.29" cy="762.27" r="2.55" fill="#000" stroke="none" stroke-width="1"/>
<circle cx="456.65" cy="760.98" r="2.55" fill="#000" stroke="none" stroke-width="1"/>
<circle cx="462.01" cy="752.99" r="2.55" fill="#000" stroke="none" stroke-width="1"/>
<circle cx="467.37" cy="746.02" r="2.55" fill="#000" stroke="none" stroke-width="1"/>
<circle cx="472.73" cy="752.21" r="2.55" fill="#000" stroke="none" stroke-width="1"/>
<circle cx="478.09" cy="756.08" r="2.55" fill="#000" stroke="none" stroke-width="1"/>
<circle cx="483.45" cy="751.95" r="2.55" fill="#000" stroke="none" stroke-width="1"/>
<circle cx="488.81" cy="753.50" r="2.55" fill="#000" stroke="none" stroke-width="1"/>
<circle cx="494.17" cy="732.60" r="2.55" fill="#000" stroke="none" stroke-width="1"/>
<circle cx="499.53" cy="739.57" r="2.55" fill="#000" stroke="none" stroke-width="1"/>
<circle cx="504.89" cy="736.22" r="2.55" fill="#000" stroke="none" stroke-width="1"/>
<circle cx="510.25" cy="731.31" r="2.55" fill="#000" stroke="none" stroke-width="1"/>
<circle cx="515.61" cy="724.35" r="2.55" fill="#000" stroke="none" stroke-width="1"/>
<circle cx="520.97" cy="711.71" r="2.55" fill="#000" stroke="none" stroke-width="1"/>
<circle cx="339.70" cy="697.90" r="3.1" fill="#000" stroke="none" stroke-width="1"/>
<circle cx="411.30" cy="697.40" r="3.0" fill="#fff" stroke="#555" stroke-width="0.85"/>
<path d="M359.1,697.9 C359.5,698.9 360.6,702.2 361.5,704.0 C362.4,705.8 363.5,707.5 364.5,708.5 C365.5,709.5 366.4,709.9 367.6,710.0 C368.9,710.1 370.2,709.5 372.0,709.0 C373.8,708.5 376.2,707.8 378.5,706.9 C380.8,706.0 383.2,704.5 386.0,703.5 C388.8,702.5 393.5,701.2 395.0,700.8" stroke="#000" stroke-width="1.6" fill="none" stroke-linejoin="round" stroke-linecap="round"/>
<path d="M425.9,697.9 C426.1,697.9 426.5,697.8 427.1,697.9 C427.7,698.0 428.5,696.9 429.5,698.4 C430.5,699.9 431.6,704.5 433.0,707.0 C434.4,709.5 436.2,712.8 438.0,713.6 C439.8,714.4 441.8,712.9 444.0,712.0 C446.2,711.1 449.0,709.5 451.3,708.2 C453.6,706.9 455.5,705.6 458.0,704.3 C460.5,703.0 465.0,701.2 466.4,700.6" stroke="#000" stroke-width="1.6" fill="none" stroke-linejoin="round" stroke-linecap="round"/>
<polyline points="347.5,697.9 359.1,697.9" stroke="#f00000" stroke-width="1.6" fill="none" stroke-linejoin="round" stroke-linecap="round"/>
<polyline points="354.8,687.0 354.8,725.3" stroke="#f00000" stroke-width="1.6" fill="none" stroke-linejoin="round" stroke-linecap="round"/>
<path d="M359.1,697.9 C359.5,700.1 360.6,707.4 361.5,711.3 C362.4,715.2 363.4,719.1 364.5,721.5 C365.6,723.9 366.9,725.3 368.3,725.8 C369.7,726.3 371.3,725.3 373.0,724.5 C374.7,723.7 376.3,722.8 378.5,721.0 C380.7,719.2 383.2,716.2 386.0,714.0 C388.8,711.8 393.5,708.7 395.0,707.6" stroke="#f00000" stroke-width="1.6" fill="none" stroke-linejoin="round" stroke-linecap="round"/>
<polyline points="419.8,697.9 425.9,697.9" stroke="#f00000" stroke-width="1.6" fill="none" stroke-linejoin="round" stroke-linecap="round"/>
<polyline points="427.1,691.4 427.1,727.0" stroke="#f00000" stroke-width="1.6" fill="none" stroke-linejoin="round" stroke-linecap="round"/>
<path d="M427.1,697.9 C427.5,698.0 428.5,697.0 429.5,698.6 C430.5,700.2 431.6,704.9 433.0,707.5 C434.4,710.1 436.2,713.6 438.0,714.4 C439.8,715.2 441.8,713.4 444.0,712.5 C446.2,711.6 449.0,710.1 451.3,708.8 C453.6,707.5 455.5,706.1 458.0,704.8 C460.5,703.5 465.0,701.7 466.4,701.1" stroke="#f00000" stroke-width="1.6" fill="none" stroke-linejoin="round" stroke-linecap="round"/>
<polyline points="487.2,678.5 487.2,697.9 506.7,697.9" stroke="#000" stroke-width="1.4" fill="none" stroke-linejoin="round" stroke-linecap="round" stroke-linecap="butt" stroke-linejoin="miter"/>
<line x1="307.90" y1="892.40" x2="307.90" y2="1046.80" stroke="#7a7a7a" stroke-width="0.9"/>
<line x1="305.70" y1="1046.80" x2="307.90" y2="1046.80" stroke="#7a7a7a" stroke-width="0.9"/>
<text x="302.9" y="1050.6" font-size="12.8" text-anchor="end" fill="#000">0</text>
<line x1="305.70" y1="1008.20" x2="307.90" y2="1008.20" stroke="#7a7a7a" stroke-width="0.9"/>
<text x="302.9" y="1012.0" font-size="12.8" text-anchor="end" fill="#000">1</text>
<line x1="305.70" y1="969.60" x2="307.90" y2="969.60" stroke="#7a7a7a" stroke-width="0.9"/>
<text x="302.9" y="973.4" font-size="12.8" text-anchor="end" fill="#000">2</text>
<line x1="305.70" y1="931.00" x2="307.90" y2="931.00" stroke="#7a7a7a" stroke-width="0.9"/>
<text x="302.9" y="934.8" font-size="12.8" text-anchor="end" fill="#000">3</text>
<line x1="305.70" y1="892.40" x2="307.90" y2="892.40" stroke="#7a7a7a" stroke-width="0.9"/>
<text x="302.9" y="896.2" font-size="12.8" text-anchor="end" fill="#000">4</text>
<line x1="307.90" y1="1046.80" x2="523.50" y2="1046.80" stroke="#a0a0a0" stroke-width="1.2"/>
<line x1="308.30" y1="1046.80" x2="308.30" y2="1049.00" stroke="#a0a0a0" stroke-width="1.2"/>
<text x="309.6" y="1059.8" font-size="12.8" text-anchor="middle" fill="#000">0</text>
<line x1="362.10" y1="1046.80" x2="362.10" y2="1049.00" stroke="#a0a0a0" stroke-width="1.2"/>
<text x="363.4" y="1059.8" font-size="12.8" text-anchor="middle" fill="#000">10</text>
<line x1="415.90" y1="1046.80" x2="415.90" y2="1049.00" stroke="#a0a0a0" stroke-width="1.2"/>
<text x="417.2" y="1059.8" font-size="12.8" text-anchor="middle" fill="#000">20</text>
<line x1="469.70" y1="1046.80" x2="469.70" y2="1049.00" stroke="#a0a0a0" stroke-width="1.2"/>
<text x="471.0" y="1059.8" font-size="12.8" text-anchor="middle" fill="#000">30</text>
<line x1="523.50" y1="1046.80" x2="523.50" y2="1049.00" stroke="#a0a0a0" stroke-width="1.2"/>
<text x="524.8" y="1059.8" font-size="12.8" text-anchor="middle" fill="#000">40</text>
<text x="288.0" y="969.6" font-size="13.2" text-anchor="middle" fill="#000" transform="rotate(-90 288.0 969.6)">Normalised EPSC Amplitude</text>
<text x="423.5" y="1069.6" font-size="13.2" text-anchor="middle" fill="#000">Time (min)</text>
<line x1="309.38" y1="1008.20" x2="525.11" y2="1008.20" stroke="#555" stroke-width="0.7" stroke-dasharray="0.8,2.2"/>
<line x1="311.70" y1="1034.70" x2="337.00" y2="1034.70" stroke="#000" stroke-width="1.6"/>
<line x1="499.50" y1="1034.10" x2="524.80" y2="1034.10" stroke="#f00000" stroke-width="1.6"/>
<rect x="342.10" y="1001.10" width="19.40" height="9.30" fill="#ffcc00"/>
<line x1="342.10" y1="993.80" x2="361.20" y2="993.80" stroke="#4a4a4a" stroke-width="0.8"/>
<line x1="347.00" y1="993.80" x2="357.00" y2="993.80" stroke="#4a4a4a" stroke-width="1.3"/>
<polyline points="349.5,993.9 349.8,993.5 350.2,994.5 350.6,992.4 350.9,996.2 351.3,990.3 351.6,998.2 352.0,989.0 352.4,998.2 352.7,990.3 353.1,996.2 353.4,992.4 353.8,994.5 354.2,993.5 354.5,993.9" stroke="#555" stroke-width="0.75" fill="none" stroke-linejoin="round" stroke-linecap="round"/>
<line x1="313.25" y1="1002.80" x2="313.25" y2="1006.66" stroke="#888" stroke-width="0.8"/>
<line x1="311.15" y1="1002.80" x2="315.35" y2="1002.80" stroke="#888" stroke-width="0.8"/>
<line x1="311.15" y1="1006.66" x2="315.35" y2="1006.66" stroke="#888" stroke-width="0.8"/>
<line x1="318.63" y1="1007.04" x2="318.63" y2="1010.90" stroke="#666" stroke-width="0.8"/>
<line x1="316.53" y1="1007.04" x2="320.73" y2="1007.04" stroke="#666" stroke-width="0.8"/>
<line x1="316.53" y1="1010.90" x2="320.73" y2="1010.90" stroke="#666" stroke-width="0.8"/>
<line x1="324.01" y1="1008.97" x2="324.01" y2="1012.83" stroke="#888" stroke-width="0.8"/>
<line x1="321.91" y1="1008.97" x2="326.11" y2="1008.97" stroke="#888" stroke-width="0.8"/>
<line x1="321.91" y1="1012.83" x2="326.11" y2="1012.83" stroke="#888" stroke-width="0.8"/>
<line x1="329.39" y1="1007.43" x2="329.39" y2="1011.29" stroke="#666" stroke-width="0.8"/>
<line x1="327.29" y1="1007.43" x2="331.49" y2="1007.43" stroke="#666" stroke-width="0.8"/>
<line x1="327.29" y1="1011.29" x2="331.49" y2="1011.29" stroke="#666" stroke-width="0.8"/>
<line x1="334.77" y1="1004.34" x2="334.77" y2="1008.20" stroke="#888" stroke-width="0.8"/>
<line x1="332.67" y1="1004.34" x2="336.87" y2="1004.34" stroke="#888" stroke-width="0.8"/>
<line x1="332.67" y1="1008.20" x2="336.87" y2="1008.20" stroke="#888" stroke-width="0.8"/>
<line x1="367.05" y1="1002.41" x2="367.05" y2="1013.99" stroke="#666" stroke-width="0.8"/>
<line x1="364.95" y1="1002.41" x2="369.15" y2="1002.41" stroke="#666" stroke-width="0.8"/>
<line x1="364.95" y1="1013.99" x2="369.15" y2="1013.99" stroke="#666" stroke-width="0.8"/>
<line x1="372.43" y1="1003.18" x2="372.43" y2="1014.76" stroke="#888" stroke-width="0.8"/>
<line x1="370.33" y1="1003.18" x2="374.53" y2="1003.18" stroke="#888" stroke-width="0.8"/>
<line x1="370.33" y1="1014.76" x2="374.53" y2="1014.76" stroke="#888" stroke-width="0.8"/>
<line x1="377.81" y1="1004.73" x2="377.81" y2="1020.17" stroke="#666" stroke-width="0.8"/>
<line x1="375.71" y1="1004.73" x2="379.91" y2="1004.73" stroke="#666" stroke-width="0.8"/>
<line x1="375.71" y1="1020.17" x2="379.91" y2="1020.17" stroke="#666" stroke-width="0.8"/>
<line x1="383.19" y1="1009.74" x2="383.19" y2="1025.18" stroke="#888" stroke-width="0.8"/>
<line x1="381.09" y1="1009.74" x2="385.29" y2="1009.74" stroke="#888" stroke-width="0.8"/>
<line x1="381.09" y1="1025.18" x2="385.29" y2="1025.18" stroke="#888" stroke-width="0.8"/>
<line x1="388.57" y1="1001.25" x2="388.57" y2="1016.69" stroke="#666" stroke-width="0.8"/>
<line x1="386.47" y1="1001.25" x2="390.67" y2="1001.25" stroke="#666" stroke-width="0.8"/>
<line x1="386.47" y1="1016.69" x2="390.67" y2="1016.69" stroke="#666" stroke-width="0.8"/>
<line x1="393.95" y1="1002.41" x2="393.95" y2="1013.99" stroke="#888" stroke-width="0.8"/>
<line x1="391.85" y1="1002.41" x2="396.05" y2="1002.41" stroke="#888" stroke-width="0.8"/>
<line x1="391.85" y1="1013.99" x2="396.05" y2="1013.99" stroke="#888" stroke-width="0.8"/>
<line x1="399.33" y1="992.76" x2="399.33" y2="1008.20" stroke="#666" stroke-width="0.8"/>
<line x1="397.23" y1="992.76" x2="401.43" y2="992.76" stroke="#666" stroke-width="0.8"/>
<line x1="397.23" y1="1008.20" x2="401.43" y2="1008.20" stroke="#666" stroke-width="0.8"/>
<line x1="404.71" y1="994.69" x2="404.71" y2="1010.13" stroke="#888" stroke-width="0.8"/>
<line x1="402.61" y1="994.69" x2="406.81" y2="994.69" stroke="#888" stroke-width="0.8"/>
<line x1="402.61" y1="1010.13" x2="406.81" y2="1010.13" stroke="#888" stroke-width="0.8"/>
<line x1="410.09" y1="1000.48" x2="410.09" y2="1012.06" stroke="#666" stroke-width="0.8"/>
<line x1="407.99" y1="1000.48" x2="412.19" y2="1000.48" stroke="#666" stroke-width="0.8"/>
<line x1="407.99" y1="1012.06" x2="412.19" y2="1012.06" stroke="#666" stroke-width="0.8"/>
<line x1="415.47" y1="992.76" x2="415.47" y2="1008.20" stroke="#888" stroke-width="0.8"/>
<line x1="413.37" y1="992.76" x2="417.57" y2="992.76" stroke="#888" stroke-width="0.8"/>
<line x1="413.37" y1="1008.20" x2="417.57" y2="1008.20" stroke="#888" stroke-width="0.8"/>
<line x1="420.85" y1="984.27" x2="420.85" y2="1008.97" stroke="#666" stroke-width="0.8"/>
<line x1="418.75" y1="984.27" x2="422.95" y2="984.27" stroke="#666" stroke-width="0.8"/>
<line x1="418.75" y1="1008.97" x2="422.95" y2="1008.97" stroke="#666" stroke-width="0.8"/>
<line x1="426.23" y1="983.11" x2="426.23" y2="1006.27" stroke="#888" stroke-width="0.8"/>
<line x1="424.13" y1="983.11" x2="428.33" y2="983.11" stroke="#888" stroke-width="0.8"/>
<line x1="424.13" y1="1006.27" x2="428.33" y2="1006.27" stroke="#888" stroke-width="0.8"/>
<line x1="431.61" y1="983.88" x2="431.61" y2="1007.04" stroke="#666" stroke-width="0.8"/>
<line x1="429.51" y1="983.88" x2="433.71" y2="983.88" stroke="#666" stroke-width="0.8"/>
<line x1="429.51" y1="1007.04" x2="433.71" y2="1007.04" stroke="#666" stroke-width="0.8"/>
<line x1="436.99" y1="981.95" x2="436.99" y2="1007.43" stroke="#888" stroke-width="0.8"/>
<line x1="434.89" y1="981.95" x2="439.09" y2="981.95" stroke="#888" stroke-width="0.8"/>
<line x1="434.89" y1="1007.43" x2="439.09" y2="1007.43" stroke="#888" stroke-width="0.8"/>
<line x1="442.37" y1="981.95" x2="442.37" y2="1005.11" stroke="#666" stroke-width="0.8"/>
<line x1="440.27" y1="981.95" x2="444.47" y2="981.95" stroke="#666" stroke-width="0.8"/>
<line x1="440.27" y1="1005.11" x2="444.47" y2="1005.11" stroke="#666" stroke-width="0.8"/>
<line x1="447.75" y1="987.74" x2="447.75" y2="1007.04" stroke="#888" stroke-width="0.8"/>
<line x1="445.65" y1="987.74" x2="449.85" y2="987.74" stroke="#888" stroke-width="0.8"/>
<line x1="445.65" y1="1007.04" x2="449.85" y2="1007.04" stroke="#888" stroke-width="0.8"/>
<line x1="453.13" y1="994.69" x2="453.13" y2="1013.99" stroke="#666" stroke-width="0.8"/>
<line x1="451.03" y1="994.69" x2="455.23" y2="994.69" stroke="#666" stroke-width="0.8"/>
<line x1="451.03" y1="1013.99" x2="455.23" y2="1013.99" stroke="#666" stroke-width="0.8"/>
<line x1="458.51" y1="987.36" x2="458.51" y2="1010.52" stroke="#888" stroke-width="0.8"/>
<line x1="456.41" y1="987.36" x2="460.61" y2="987.36" stroke="#888" stroke-width="0.8"/>
<line x1="456.41" y1="1010.52" x2="460.61" y2="1010.52" stroke="#888" stroke-width="0.8"/>
<line x1="463.89" y1="990.83" x2="463.89" y2="1013.99" stroke="#666" stroke-width="0.8"/>
<line x1="461.79" y1="990.83" x2="465.99" y2="990.83" stroke="#666" stroke-width="0.8"/>
<line x1="461.79" y1="1013.99" x2="465.99" y2="1013.99" stroke="#666" stroke-width="0.8"/>
<line x1="469.27" y1="993.92" x2="469.27" y2="1017.08" stroke="#888" stroke-width="0.8"/>
<line x1="467.17" y1="993.92" x2="471.37" y2="993.92" stroke="#888" stroke-width="0.8"/>
<line x1="467.17" y1="1017.08" x2="471.37" y2="1017.08" stroke="#888" stroke-width="0.8"/>
<line x1="474.65" y1="981.18" x2="474.65" y2="1012.83" stroke="#666" stroke-width="0.8"/>
<line x1="472.55" y1="981.18" x2="476.75" y2="981.18" stroke="#666" stroke-width="0.8"/>
<line x1="472.55" y1="1012.83" x2="476.75" y2="1012.83" stroke="#666" stroke-width="0.8"/>
<line x1="480.03" y1="985.81" x2="480.03" y2="1008.97" stroke="#888" stroke-width="0.8"/>
<line x1="477.93" y1="985.81" x2="482.13" y2="985.81" stroke="#888" stroke-width="0.8"/>
<line x1="477.93" y1="1008.97" x2="482.13" y2="1008.97" stroke="#888" stroke-width="0.8"/>
<line x1="485.41" y1="983.11" x2="485.41" y2="1012.45" stroke="#666" stroke-width="0.8"/>
<line x1="483.31" y1="983.11" x2="487.51" y2="983.11" stroke="#666" stroke-width="0.8"/>
<line x1="483.31" y1="1012.45" x2="487.51" y2="1012.45" stroke="#666" stroke-width="0.8"/>
<line x1="490.79" y1="980.41" x2="490.79" y2="1014.38" stroke="#888" stroke-width="0.8"/>
<line x1="488.69" y1="980.41" x2="492.89" y2="980.41" stroke="#888" stroke-width="0.8"/>
<line x1="488.69" y1="1014.38" x2="492.89" y2="1014.38" stroke="#888" stroke-width="0.8"/>
<line x1="496.17" y1="988.51" x2="496.17" y2="1013.99" stroke="#666" stroke-width="0.8"/>
<line x1="494.07" y1="988.51" x2="498.27" y2="988.51" stroke="#666" stroke-width="0.8"/>
<line x1="494.07" y1="1013.99" x2="498.27" y2="1013.99" stroke="#666" stroke-width="0.8"/>
<line x1="501.55" y1="978.09" x2="501.55" y2="1008.20" stroke="#888" stroke-width="0.8"/>
<line x1="499.45" y1="978.09" x2="503.65" y2="978.09" stroke="#888" stroke-width="0.8"/>
<line x1="499.45" y1="1008.20" x2="503.65" y2="1008.20" stroke="#888" stroke-width="0.8"/>
<line x1="506.93" y1="981.18" x2="506.93" y2="1010.52" stroke="#666" stroke-width="0.8"/>
<line x1="504.83" y1="981.18" x2="509.03" y2="981.18" stroke="#666" stroke-width="0.8"/>
<line x1="504.83" y1="1010.52" x2="509.03" y2="1010.52" stroke="#666" stroke-width="0.8"/>
<line x1="512.31" y1="978.09" x2="512.31" y2="1012.06" stroke="#888" stroke-width="0.8"/>
<line x1="510.21" y1="978.09" x2="514.41" y2="978.09" stroke="#888" stroke-width="0.8"/>
<line x1="510.21" y1="1012.06" x2="514.41" y2="1012.06" stroke="#888" stroke-width="0.8"/>
<line x1="517.69" y1="981.18" x2="517.69" y2="1009.74" stroke="#666" stroke-width="0.8"/>
<line x1="515.59" y1="981.18" x2="519.79" y2="981.18" stroke="#666" stroke-width="0.8"/>
<line x1="515.59" y1="1009.74" x2="519.79" y2="1009.74" stroke="#666" stroke-width="0.8"/>
<line x1="523.07" y1="975.39" x2="523.07" y2="1027.11" stroke="#888" stroke-width="0.8"/>
<line x1="520.97" y1="975.39" x2="525.17" y2="975.39" stroke="#888" stroke-width="0.8"/>
<line x1="520.97" y1="1027.11" x2="525.17" y2="1027.11" stroke="#888" stroke-width="0.8"/>
<line x1="313.25" y1="1006.27" x2="313.25" y2="1012.45" stroke="#a8a8a8" stroke-width="0.8"/>
<line x1="311.15" y1="1006.27" x2="315.35" y2="1006.27" stroke="#a8a8a8" stroke-width="0.8"/>
<line x1="311.15" y1="1012.45" x2="315.35" y2="1012.45" stroke="#a8a8a8" stroke-width="0.8"/>
<line x1="318.63" y1="1002.80" x2="318.63" y2="1007.43" stroke="#6a6a6a" stroke-width="0.8"/>
<line x1="316.53" y1="1002.80" x2="320.73" y2="1002.80" stroke="#6a6a6a" stroke-width="0.8"/>
<line x1="316.53" y1="1007.43" x2="320.73" y2="1007.43" stroke="#6a6a6a" stroke-width="0.8"/>
<line x1="324.01" y1="1010.52" x2="324.01" y2="1014.38" stroke="#6a6a6a" stroke-width="0.8"/>
<line x1="321.91" y1="1010.52" x2="326.11" y2="1010.52" stroke="#6a6a6a" stroke-width="0.8"/>
<line x1="321.91" y1="1014.38" x2="326.11" y2="1014.38" stroke="#6a6a6a" stroke-width="0.8"/>
<line x1="329.39" y1="1006.66" x2="329.39" y2="1011.29" stroke="#a8a8a8" stroke-width="0.8"/>
<line x1="327.29" y1="1006.66" x2="331.49" y2="1006.66" stroke="#a8a8a8" stroke-width="0.8"/>
<line x1="327.29" y1="1011.29" x2="331.49" y2="1011.29" stroke="#a8a8a8" stroke-width="0.8"/>
<line x1="334.77" y1="1000.09" x2="334.77" y2="1007.81" stroke="#6a6a6a" stroke-width="0.8"/>
<line x1="332.67" y1="1000.09" x2="336.87" y2="1000.09" stroke="#6a6a6a" stroke-width="0.8"/>
<line x1="332.67" y1="1007.81" x2="336.87" y2="1007.81" stroke="#6a6a6a" stroke-width="0.8"/>
<line x1="367.05" y1="1005.11" x2="367.05" y2="1016.69" stroke="#6a6a6a" stroke-width="0.8"/>
<line x1="364.95" y1="1005.11" x2="369.15" y2="1005.11" stroke="#6a6a6a" stroke-width="0.8"/>
<line x1="364.95" y1="1016.69" x2="369.15" y2="1016.69" stroke="#6a6a6a" stroke-width="0.8"/>
<line x1="372.43" y1="999.32" x2="372.43" y2="1014.76" stroke="#a8a8a8" stroke-width="0.8"/>
<line x1="370.33" y1="999.32" x2="374.53" y2="999.32" stroke="#a8a8a8" stroke-width="0.8"/>
<line x1="370.33" y1="1014.76" x2="374.53" y2="1014.76" stroke="#a8a8a8" stroke-width="0.8"/>
<line x1="377.81" y1="1003.57" x2="377.81" y2="1015.15" stroke="#6a6a6a" stroke-width="0.8"/>
<line x1="375.71" y1="1003.57" x2="379.91" y2="1003.57" stroke="#6a6a6a" stroke-width="0.8"/>
<line x1="375.71" y1="1015.15" x2="379.91" y2="1015.15" stroke="#6a6a6a" stroke-width="0.8"/>
<line x1="383.19" y1="1003.95" x2="383.19" y2="1015.53" stroke="#6a6a6a" stroke-width="0.8"/>
<line x1="381.09" y1="1003.95" x2="385.29" y2="1003.95" stroke="#6a6a6a" stroke-width="0.8"/>
<line x1="381.09" y1="1015.53" x2="385.29" y2="1015.53" stroke="#6a6a6a" stroke-width="0.8"/>
<line x1="388.57" y1="1001.25" x2="388.57" y2="1012.83" stroke="#a8a8a8" stroke-width="0.8"/>
<line x1="386.47" y1="1001.25" x2="390.67" y2="1001.25" stroke="#a8a8a8" stroke-width="0.8"/>
<line x1="386.47" y1="1012.83" x2="390.67" y2="1012.83" stroke="#a8a8a8" stroke-width="0.8"/>
<line x1="393.95" y1="1002.80" x2="393.95" y2="1014.38" stroke="#6a6a6a" stroke-width="0.8"/>
<line x1="391.85" y1="1002.80" x2="396.05" y2="1002.80" stroke="#6a6a6a" stroke-width="0.8"/>
<line x1="391.85" y1="1014.38" x2="396.05" y2="1014.38" stroke="#6a6a6a" stroke-width="0.8"/>
<line x1="399.33" y1="1001.25" x2="399.33" y2="1012.83" stroke="#6a6a6a" stroke-width="0.8"/>
<line x1="397.23" y1="1001.25" x2="401.43" y2="1001.25" stroke="#6a6a6a" stroke-width="0.8"/>
<line x1="397.23" y1="1012.83" x2="401.43" y2="1012.83" stroke="#6a6a6a" stroke-width="0.8"/>
<line x1="404.71" y1="1000.48" x2="404.71" y2="1009.74" stroke="#a8a8a8" stroke-width="0.8"/>
<line x1="402.61" y1="1000.48" x2="406.81" y2="1000.48" stroke="#a8a8a8" stroke-width="0.8"/>
<line x1="402.61" y1="1009.74" x2="406.81" y2="1009.74" stroke="#a8a8a8" stroke-width="0.8"/>
<line x1="410.09" y1="996.62" x2="410.09" y2="1005.88" stroke="#6a6a6a" stroke-width="0.8"/>
<line x1="407.99" y1="996.62" x2="412.19" y2="996.62" stroke="#6a6a6a" stroke-width="0.8"/>
<line x1="407.99" y1="1005.88" x2="412.19" y2="1005.88" stroke="#6a6a6a" stroke-width="0.8"/>
<line x1="415.47" y1="1001.25" x2="415.47" y2="1012.83" stroke="#6a6a6a" stroke-width="0.8"/>
<line x1="413.37" y1="1001.25" x2="417.57" y2="1001.25" stroke="#6a6a6a" stroke-width="0.8"/>
<line x1="413.37" y1="1012.83" x2="417.57" y2="1012.83" stroke="#6a6a6a" stroke-width="0.8"/>
<line x1="420.85" y1="1004.34" x2="420.85" y2="1013.60" stroke="#a8a8a8" stroke-width="0.8"/>
<line x1="418.75" y1="1004.34" x2="422.95" y2="1004.34" stroke="#a8a8a8" stroke-width="0.8"/>
<line x1="418.75" y1="1013.60" x2="422.95" y2="1013.60" stroke="#a8a8a8" stroke-width="0.8"/>
<line x1="426.23" y1="1004.34" x2="426.23" y2="1013.60" stroke="#6a6a6a" stroke-width="0.8"/>
<line x1="424.13" y1="1004.34" x2="428.33" y2="1004.34" stroke="#6a6a6a" stroke-width="0.8"/>
<line x1="424.13" y1="1013.60" x2="428.33" y2="1013.60" stroke="#6a6a6a" stroke-width="0.8"/>
<line x1="431.61" y1="1003.57" x2="431.61" y2="1012.83" stroke="#6a6a6a" stroke-width="0.8"/>
<line x1="429.51" y1="1003.57" x2="433.71" y2="1003.57" stroke="#6a6a6a" stroke-width="0.8"/>
<line x1="429.51" y1="1012.83" x2="433.71" y2="1012.83" stroke="#6a6a6a" stroke-width="0.8"/>
<line x1="436.99" y1="1000.48" x2="436.99" y2="1012.06" stroke="#a8a8a8" stroke-width="0.8"/>
<line x1="434.89" y1="1000.48" x2="439.09" y2="1000.48" stroke="#a8a8a8" stroke-width="0.8"/>
<line x1="434.89" y1="1012.06" x2="439.09" y2="1012.06" stroke="#a8a8a8" stroke-width="0.8"/>
<line x1="442.37" y1="1000.48" x2="442.37" y2="1012.06" stroke="#6a6a6a" stroke-width="0.8"/>
<line x1="440.27" y1="1000.48" x2="444.47" y2="1000.48" stroke="#6a6a6a" stroke-width="0.8"/>
<line x1="440.27" y1="1012.06" x2="444.47" y2="1012.06" stroke="#6a6a6a" stroke-width="0.8"/>
<line x1="447.75" y1="995.46" x2="447.75" y2="1003.18" stroke="#6a6a6a" stroke-width="0.8"/>
<line x1="445.65" y1="995.46" x2="449.85" y2="995.46" stroke="#6a6a6a" stroke-width="0.8"/>
<line x1="445.65" y1="1003.18" x2="449.85" y2="1003.18" stroke="#6a6a6a" stroke-width="0.8"/>
<line x1="453.13" y1="1000.48" x2="453.13" y2="1012.06" stroke="#a8a8a8" stroke-width="0.8"/>
<line x1="451.03" y1="1000.48" x2="455.23" y2="1000.48" stroke="#a8a8a8" stroke-width="0.8"/>
<line x1="451.03" y1="1012.06" x2="455.23" y2="1012.06" stroke="#a8a8a8" stroke-width="0.8"/>
<line x1="458.51" y1="997.78" x2="458.51" y2="1009.36" stroke="#6a6a6a" stroke-width="0.8"/>
<line x1="456.41" y1="997.78" x2="460.61" y2="997.78" stroke="#6a6a6a" stroke-width="0.8"/>
<line x1="456.41" y1="1009.36" x2="460.61" y2="1009.36" stroke="#6a6a6a" stroke-width="0.8"/>
<line x1="463.89" y1="1002.80" x2="463.89" y2="1014.38" stroke="#6a6a6a" stroke-width="0.8"/>
<line x1="461.79" y1="1002.80" x2="465.99" y2="1002.80" stroke="#6a6a6a" stroke-width="0.8"/>
<line x1="461.79" y1="1014.38" x2="465.99" y2="1014.38" stroke="#6a6a6a" stroke-width="0.8"/>
<line x1="469.27" y1="1008.59" x2="469.27" y2="1017.85" stroke="#a8a8a8" stroke-width="0.8"/>
<line x1="467.17" y1="1008.59" x2="471.37" y2="1008.59" stroke="#a8a8a8" stroke-width="0.8"/>
<line x1="467.17" y1="1017.85" x2="471.37" y2="1017.85" stroke="#a8a8a8" stroke-width="0.8"/>
<line x1="474.65" y1="1006.66" x2="474.65" y2="1018.24" stroke="#6a6a6a" stroke-width="0.8"/>
<line x1="472.55" y1="1006.66" x2="476.75" y2="1006.66" stroke="#6a6a6a" stroke-width="0.8"/>
<line x1="472.55" y1="1018.24" x2="476.75" y2="1018.24" stroke="#6a6a6a" stroke-width="0.8"/>
<line x1="480.03" y1="1004.34" x2="480.03" y2="1015.92" stroke="#6a6a6a" stroke-width="0.8"/>
<line x1="477.93" y1="1004.34" x2="482.13" y2="1004.34" stroke="#6a6a6a" stroke-width="0.8"/>
<line x1="477.93" y1="1015.92" x2="482.13" y2="1015.92" stroke="#6a6a6a" stroke-width="0.8"/>
<line x1="485.41" y1="1007.43" x2="485.41" y2="1019.01" stroke="#a8a8a8" stroke-width="0.8"/>
<line x1="483.31" y1="1007.43" x2="487.51" y2="1007.43" stroke="#a8a8a8" stroke-width="0.8"/>
<line x1="483.31" y1="1019.01" x2="487.51" y2="1019.01" stroke="#a8a8a8" stroke-width="0.8"/>
<line x1="490.79" y1="1005.11" x2="490.79" y2="1016.69" stroke="#6a6a6a" stroke-width="0.8"/>
<line x1="488.69" y1="1005.11" x2="492.89" y2="1005.11" stroke="#6a6a6a" stroke-width="0.8"/>
<line x1="488.69" y1="1016.69" x2="492.89" y2="1016.69" stroke="#6a6a6a" stroke-width="0.8"/>
<line x1="496.17" y1="1003.57" x2="496.17" y2="1015.15" stroke="#6a6a6a" stroke-width="0.8"/>
<line x1="494.07" y1="1003.57" x2="498.27" y2="1003.57" stroke="#6a6a6a" stroke-width="0.8"/>
<line x1="494.07" y1="1015.15" x2="498.27" y2="1015.15" stroke="#6a6a6a" stroke-width="0.8"/>
<line x1="501.55" y1="1001.25" x2="501.55" y2="1015.15" stroke="#a8a8a8" stroke-width="0.8"/>
<line x1="499.45" y1="1001.25" x2="503.65" y2="1001.25" stroke="#a8a8a8" stroke-width="0.8"/>
<line x1="499.45" y1="1015.15" x2="503.65" y2="1015.15" stroke="#a8a8a8" stroke-width="0.8"/>
<line x1="506.93" y1="1005.88" x2="506.93" y2="1017.46" stroke="#6a6a6a" stroke-width="0.8"/>
<line x1="504.83" y1="1005.88" x2="509.03" y2="1005.88" stroke="#6a6a6a" stroke-width="0.8"/>
<line x1="504.83" y1="1017.46" x2="509.03" y2="1017.46" stroke="#6a6a6a" stroke-width="0.8"/>
<line x1="512.31" y1="1007.43" x2="512.31" y2="1022.87" stroke="#6a6a6a" stroke-width="0.8"/>
<line x1="510.21" y1="1007.43" x2="514.41" y2="1007.43" stroke="#6a6a6a" stroke-width="0.8"/>
<line x1="510.21" y1="1022.87" x2="514.41" y2="1022.87" stroke="#6a6a6a" stroke-width="0.8"/>
<line x1="517.69" y1="1003.57" x2="517.69" y2="1015.15" stroke="#a8a8a8" stroke-width="0.8"/>
<line x1="515.59" y1="1003.57" x2="519.79" y2="1003.57" stroke="#a8a8a8" stroke-width="0.8"/>
<line x1="515.59" y1="1015.15" x2="519.79" y2="1015.15" stroke="#a8a8a8" stroke-width="0.8"/>
<line x1="523.07" y1="1006.66" x2="523.07" y2="1027.50" stroke="#6a6a6a" stroke-width="0.8"/>
<line x1="520.97" y1="1006.66" x2="525.17" y2="1006.66" stroke="#6a6a6a" stroke-width="0.8"/>
<line x1="520.97" y1="1027.50" x2="525.17" y2="1027.50" stroke="#6a6a6a" stroke-width="0.8"/>
<circle cx="313.25" cy="1004.73" r="2.5" fill="#fff" stroke="#1a1a1a" stroke-width="0.7"/>
<circle cx="318.63" cy="1008.97" r="2.5" fill="#fff" stroke="#1a1a1a" stroke-width="0.7"/>
<circle cx="324.01" cy="1010.90" r="2.5" fill="#fff" stroke="#1a1a1a" stroke-width="0.7"/>
<circle cx="329.39" cy="1009.36" r="2.5" fill="#fff" stroke="#1a1a1a" stroke-width="0.7"/>
<circle cx="334.77" cy="1006.27" r="2.5" fill="#fff" stroke="#1a1a1a" stroke-width="0.7"/>
<circle cx="367.05" cy="1008.20" r="2.5" fill="#fff" stroke="#1a1a1a" stroke-width="0.7"/>
<circle cx="372.43" cy="1008.97" r="2.5" fill="#fff" stroke="#1a1a1a" stroke-width="0.7"/>
<circle cx="377.81" cy="1012.45" r="2.5" fill="#fff" stroke="#1a1a1a" stroke-width="0.7"/>
<circle cx="383.19" cy="1017.46" r="2.5" fill="#fff" stroke="#1a1a1a" stroke-width="0.7"/>
<circle cx="388.57" cy="1008.97" r="2.5" fill="#fff" stroke="#1a1a1a" stroke-width="0.7"/>
<circle cx="393.95" cy="1008.20" r="2.5" fill="#fff" stroke="#1a1a1a" stroke-width="0.7"/>
<circle cx="399.33" cy="1000.48" r="2.5" fill="#fff" stroke="#1a1a1a" stroke-width="0.7"/>
<circle cx="404.71" cy="1002.41" r="2.5" fill="#fff" stroke="#1a1a1a" stroke-width="0.7"/>
<circle cx="410.09" cy="1006.27" r="2.5" fill="#fff" stroke="#1a1a1a" stroke-width="0.7"/>
<circle cx="415.47" cy="1000.48" r="2.5" fill="#fff" stroke="#1a1a1a" stroke-width="0.7"/>
<circle cx="420.85" cy="996.62" r="2.5" fill="#fff" stroke="#1a1a1a" stroke-width="0.7"/>
<circle cx="426.23" cy="994.69" r="2.5" fill="#fff" stroke="#1a1a1a" stroke-width="0.7"/>
<circle cx="431.61" cy="995.46" r="2.5" fill="#fff" stroke="#1a1a1a" stroke-width="0.7"/>
<circle cx="436.99" cy="994.69" r="2.5" fill="#fff" stroke="#1a1a1a" stroke-width="0.7"/>
<circle cx="442.37" cy="993.53" r="2.5" fill="#fff" stroke="#1a1a1a" stroke-width="0.7"/>
<circle cx="447.75" cy="997.39" r="2.5" fill="#fff" stroke="#1a1a1a" stroke-width="0.7"/>
<circle cx="453.13" cy="1004.34" r="2.5" fill="#fff" stroke="#1a1a1a" stroke-width="0.7"/>
<circle cx="458.51" cy="998.94" r="2.5" fill="#fff" stroke="#1a1a1a" stroke-width="0.7"/>
<circle cx="463.89" cy="1002.41" r="2.5" fill="#fff" stroke="#1a1a1a" stroke-width="0.7"/>
<circle cx="469.27" cy="1005.50" r="2.5" fill="#fff" stroke="#1a1a1a" stroke-width="0.7"/>
<circle cx="474.65" cy="997.01" r="2.5" fill="#fff" stroke="#1a1a1a" stroke-width="0.7"/>
<circle cx="480.03" cy="997.39" r="2.5" fill="#fff" stroke="#1a1a1a" stroke-width="0.7"/>
<circle cx="485.41" cy="997.78" r="2.5" fill="#fff" stroke="#1a1a1a" stroke-width="0.7"/>
<circle cx="490.79" cy="997.39" r="2.5" fill="#fff" stroke="#1a1a1a" stroke-width="0.7"/>
<circle cx="496.17" cy="1001.25" r="2.5" fill="#fff" stroke="#1a1a1a" stroke-width="0.7"/>
<circle cx="501.55" cy="993.15" r="2.5" fill="#fff" stroke="#1a1a1a" stroke-width="0.7"/>
<circle cx="506.93" cy="995.85" r="2.5" fill="#fff" stroke="#1a1a1a" stroke-width="0.7"/>
<circle cx="512.31" cy="995.08" r="2.5" fill="#fff" stroke="#1a1a1a" stroke-width="0.7"/>
<circle cx="517.69" cy="995.46" r="2.5" fill="#fff" stroke="#1a1a1a" stroke-width="0.7"/>
<circle cx="523.07" cy="1001.25" r="2.5" fill="#fff" stroke="#1a1a1a" stroke-width="0.7"/>
<circle cx="313.25" cy="1009.36" r="2.55" fill="#000" stroke="none" stroke-width="1"/>
<circle cx="318.63" cy="1005.11" r="2.55" fill="#000" stroke="none" stroke-width="1"/>
<circle cx="324.01" cy="1012.45" r="2.55" fill="#000" stroke="none" stroke-width="1"/>
<circle cx="329.39" cy="1008.97" r="2.55" fill="#000" stroke="none" stroke-width="1"/>
<circle cx="334.77" cy="1003.95" r="2.55" fill="#000" stroke="none" stroke-width="1"/>
<circle cx="367.05" cy="1010.90" r="2.55" fill="#000" stroke="none" stroke-width="1"/>
<circle cx="372.43" cy="1007.04" r="2.55" fill="#000" stroke="none" stroke-width="1"/>
<circle cx="377.81" cy="1009.36" r="2.55" fill="#000" stroke="none" stroke-width="1"/>
<circle cx="383.19" cy="1009.74" r="2.55" fill="#000" stroke="none" stroke-width="1"/>
<circle cx="388.57" cy="1007.04" r="2.55" fill="#000" stroke="none" stroke-width="1"/>
<circle cx="393.95" cy="1008.59" r="2.55" fill="#000" stroke="none" stroke-width="1"/>
<circle cx="399.33" cy="1007.04" r="2.55" fill="#000" stroke="none" stroke-width="1"/>
<circle cx="404.71" cy="1005.11" r="2.55" fill="#000" stroke="none" stroke-width="1"/>
<circle cx="410.09" cy="1001.25" r="2.55" fill="#000" stroke="none" stroke-width="1"/>
<circle cx="415.47" cy="1007.04" r="2.55" fill="#000" stroke="none" stroke-width="1"/>
<circle cx="420.85" cy="1008.97" r="2.55" fill="#000" stroke="none" stroke-width="1"/>
<circle cx="426.23" cy="1008.97" r="2.55" fill="#000" stroke="none" stroke-width="1"/>
<circle cx="431.61" cy="1008.20" r="2.55" fill="#000" stroke="none" stroke-width="1"/>
<circle cx="436.99" cy="1006.27" r="2.55" fill="#000" stroke="none" stroke-width="1"/>
<circle cx="442.37" cy="1006.27" r="2.55" fill="#000" stroke="none" stroke-width="1"/>
<circle cx="447.75" cy="999.32" r="2.55" fill="#000" stroke="none" stroke-width="1"/>
<circle cx="453.13" cy="1006.27" r="2.55" fill="#000" stroke="none" stroke-width="1"/>
<circle cx="458.51" cy="1003.57" r="2.55" fill="#000" stroke="none" stroke-width="1"/>
<circle cx="463.89" cy="1008.59" r="2.55" fill="#000" stroke="none" stroke-width="1"/>
<circle cx="469.27" cy="1013.22" r="2.55" fill="#000" stroke="none" stroke-width="1"/>
<circle cx="474.65" cy="1012.45" r="2.55" fill="#000" stroke="none" stroke-width="1"/>
<circle cx="480.03" cy="1010.13" r="2.55" fill="#000" stroke="none" stroke-width="1"/>
<circle cx="485.41" cy="1013.22" r="2.55" fill="#000" stroke="none" stroke-width="1"/>
<circle cx="490.79" cy="1010.90" r="2.55" fill="#000" stroke="none" stroke-width="1"/>
<circle cx="496.17" cy="1009.36" r="2.55" fill="#000" stroke="none" stroke-width="1"/>
<circle cx="501.55" cy="1008.20" r="2.55" fill="#000" stroke="none" stroke-width="1"/>
<circle cx="506.93" cy="1011.67" r="2.55" fill="#000" stroke="none" stroke-width="1"/>
<circle cx="512.31" cy="1015.15" r="2.55" fill="#000" stroke="none" stroke-width="1"/>
<circle cx="517.69" cy="1009.36" r="2.55" fill="#000" stroke="none" stroke-width="1"/>
<circle cx="523.07" cy="1017.08" r="2.55" fill="#000" stroke="none" stroke-width="1"/>
<circle cx="352.60" cy="908.40" r="3.1" fill="#000" stroke="none" stroke-width="1"/>
<circle cx="436.10" cy="908.70" r="3.0" fill="#fff" stroke="#555" stroke-width="0.85"/>
<path d="M372.2,908.4 C372.8,908.4 374.6,907.3 375.6,908.2 C376.6,909.1 377.1,910.7 378.0,914.0 C378.9,917.3 379.9,924.1 381.0,928.0 C382.1,931.9 383.3,936.1 384.8,937.4 C386.3,938.6 387.5,936.9 390.0,935.5 C392.5,934.1 396.5,931.2 399.8,929.0 C403.1,926.8 406.8,924.2 410.0,922.0 C413.2,919.8 417.8,917.0 419.3,916.0" stroke="#000" stroke-width="1.6" fill="none" stroke-linejoin="round" stroke-linecap="round"/>
<polyline points="456.8,905.0 456.8,949.4" stroke="#000" stroke-width="1.6" fill="none" stroke-linejoin="round" stroke-linecap="round"/>
<path d="M456.8,910.0 C457.0,911.2 457.5,916.7 458.0,917.0 C458.5,917.3 459.2,911.1 460.0,911.8 C460.8,912.5 461.7,918.3 463.0,921.0 C464.3,923.7 465.9,927.4 467.6,928.2 C469.3,929.0 470.1,927.6 473.0,926.0 C475.9,924.4 480.4,920.9 485.0,918.5 C489.6,916.1 498.2,912.6 500.9,911.4" stroke="#000" stroke-width="1.6" fill="none" stroke-linejoin="round" stroke-linecap="round"/>
<polyline points="364.1,908.4 372.2,908.4" stroke="#f00000" stroke-width="1.6" fill="none" stroke-linejoin="round" stroke-linecap="round"/>
<polyline points="372.9,893.0 372.9,939.0" stroke="#f00000" stroke-width="1.6" fill="none" stroke-linejoin="round" stroke-linecap="round"/>
<path d="M372.2,908.4 C372.8,908.3 374.6,907.2 375.6,908.0 C376.6,908.8 377.1,910.0 378.0,913.0 C378.9,916.0 379.9,922.2 381.0,926.0 C382.1,929.8 383.3,934.7 384.8,936.0 C386.3,937.3 387.5,935.4 390.0,934.0 C392.5,932.6 396.5,929.8 399.8,927.5 C403.1,925.2 406.8,922.6 410.0,920.5 C413.2,918.4 417.8,915.8 419.3,914.9" stroke="#f00000" stroke-width="1.6" fill="none" stroke-linejoin="round" stroke-linecap="round"/>
<polyline points="446.9,908.4 455.0,908.4" stroke="#f00000" stroke-width="1.6" fill="none" stroke-linejoin="round" stroke-linecap="round"/>
<polyline points="456.1,900.0 456.1,949.4" stroke="#f00000" stroke-width="1.6" fill="none" stroke-linejoin="round" stroke-linecap="round"/>
<path d="M456.1,908.4 C456.4,909.2 457.4,912.5 458.0,913.0 C458.6,913.5 459.2,909.9 460.0,911.4 C460.8,912.9 461.7,918.7 463.0,922.0 C464.3,925.3 465.9,929.8 467.6,931.0 C469.3,932.2 470.1,930.7 473.0,929.0 C475.9,927.3 480.4,923.7 485.0,921.0 C489.6,918.3 498.2,914.3 500.9,913.0" stroke="#f00000" stroke-width="1.6" fill="none" stroke-linejoin="round" stroke-linecap="round"/>
<polyline points="487.1,925.9 487.1,945.9 506.7,945.9" stroke="#000" stroke-width="1.4" fill="none" stroke-linejoin="round" stroke-linecap="round" stroke-linecap="butt" stroke-linejoin="miter"/>
<rect x="611.65" y="318.80" width="4.55" height="10.30" fill="#cc0000"/>
<rect x="617.15" y="318.80" width="4.55" height="10.30" fill="#cc0000"/>
<rect x="633.65" y="313.30" width="4.55" height="15.80" fill="#cc0000"/>
<rect x="639.15" y="318.80" width="4.55" height="10.30" fill="#cc0000"/>
<rect x="644.65" y="308.00" width="4.55" height="21.10" fill="#cc0000"/>
<rect x="650.15" y="308.00" width="4.55" height="21.10" fill="#cc0000"/>
<rect x="655.65" y="308.00" width="4.55" height="21.10" fill="#cc0000"/>
<rect x="661.15" y="261.80" width="4.55" height="67.30" fill="#cc0000"/>
<rect x="666.65" y="298.00" width="4.55" height="31.10" fill="#cc0000"/>
<rect x="672.15" y="313.30" width="4.55" height="15.80" fill="#cc0000"/>
<rect x="677.65" y="324.00" width="4.55" height="5.10" fill="#cc0000"/>
<rect x="694.15" y="319.10" width="4.55" height="10.00" fill="#cc0000"/>
<rect x="699.65" y="319.10" width="4.55" height="10.00" fill="#cc0000"/>
<rect x="705.15" y="323.90" width="4.55" height="5.20" fill="#cc0000"/>
<rect x="710.65" y="319.10" width="4.55" height="10.00" fill="#cc0000"/>
<rect x="716.15" y="319.10" width="4.55" height="10.00" fill="#cc0000"/>
<line x1="611.50" y1="233.30" x2="611.50" y2="329.10" stroke="#888" stroke-width="0.8"/>
<line x1="611.50" y1="233.30" x2="613.70" y2="233.30" stroke="#888" stroke-width="0.8"/>
<text x="609.9" y="236.9" font-size="10.6" text-anchor="end" fill="#000">0.15</text>
<line x1="611.50" y1="266.50" x2="613.70" y2="266.50" stroke="#888" stroke-width="0.8"/>
<text x="609.9" y="270.1" font-size="10.6" text-anchor="end" fill="#000">0.1</text>
<line x1="611.50" y1="298.40" x2="613.70" y2="298.40" stroke="#888" stroke-width="0.8"/>
<text x="609.9" y="302.0" font-size="10.6" text-anchor="end" fill="#000">0.05</text>
<line x1="611.50" y1="329.10" x2="613.70" y2="329.10" stroke="#888" stroke-width="0.8"/>
<text x="606.9" y="332.7" font-size="10.6" text-anchor="end" fill="#000">0</text>
<line x1="611.50" y1="329.10" x2="722.00" y2="329.10" stroke="#888" stroke-width="0.9"/>
<line x1="611.50" y1="329.10" x2="611.50" y2="330.90" stroke="#888" stroke-width="0.8"/>
<text x="612.8" y="338.5" font-size="10.6" text-anchor="middle" fill="#000">-0.1</text>
<line x1="639.00" y1="329.10" x2="639.00" y2="330.90" stroke="#888" stroke-width="0.8"/>
<text x="642.1" y="338.5" font-size="10.6" text-anchor="middle" fill="#000">-0.05</text>
<line x1="666.50" y1="329.10" x2="666.50" y2="330.90" stroke="#888" stroke-width="0.8"/>
<text x="666.9" y="338.5" font-size="10.6" text-anchor="middle" fill="#000">0</text>
<line x1="694.00" y1="329.10" x2="694.00" y2="330.90" stroke="#888" stroke-width="0.8"/>
<text x="697.9" y="338.5" font-size="10.6" text-anchor="middle" fill="#000">0.05</text>
<line x1="721.50" y1="329.10" x2="721.50" y2="330.90" stroke="#888" stroke-width="0.8"/>
<text x="723.1" y="338.5" font-size="10.6" text-anchor="middle" fill="#000">0.1</text>
<text x="669.6" y="351.2" font-size="10.9" text-anchor="middle" fill="#000">Time lag (s)</text>
<text x="584.9" y="283.6" font-size="11.0" text-anchor="middle" fill="#000" transform="rotate(-90 584.9 283.6)">Normalised cross correlation</text>
<rect x="607.55" y="544.20" width="4.38" height="9.80" fill="#007a00"/>
<rect x="612.88" y="544.20" width="4.38" height="9.80" fill="#007a00"/>
<rect x="618.21" y="544.20" width="4.38" height="9.80" fill="#007a00"/>
<rect x="623.54" y="529.30" width="4.38" height="24.70" fill="#007a00"/>
<rect x="628.87" y="548.90" width="4.38" height="5.10" fill="#007a00"/>
<rect x="634.20" y="539.10" width="4.38" height="14.90" fill="#007a00"/>
<rect x="639.53" y="534.00" width="4.38" height="20.00" fill="#007a00"/>
<rect x="644.86" y="479.80" width="4.38" height="74.20" fill="#007a00"/>
<rect x="650.19" y="509.90" width="4.38" height="44.10" fill="#007a00"/>
<rect x="655.52" y="529.30" width="4.38" height="24.70" fill="#007a00"/>
<rect x="660.85" y="548.90" width="4.38" height="5.10" fill="#007a00"/>
<rect x="666.18" y="539.10" width="4.38" height="14.90" fill="#007a00"/>
<rect x="671.51" y="539.10" width="4.38" height="14.90" fill="#007a00"/>
<rect x="676.84" y="539.10" width="4.38" height="14.90" fill="#007a00"/>
<rect x="682.17" y="548.90" width="4.38" height="5.10" fill="#007a00"/>
<rect x="698.16" y="548.90" width="4.38" height="5.10" fill="#007a00"/>
<rect x="708.82" y="539.10" width="4.38" height="14.90" fill="#007a00"/>
<line x1="607.40" y1="458.00" x2="607.40" y2="554.00" stroke="#888" stroke-width="0.8"/>
<line x1="607.40" y1="458.00" x2="609.60" y2="458.00" stroke="#888" stroke-width="0.8"/>
<text x="605.8" y="461.6" font-size="10.6" text-anchor="end" fill="#000">0.15</text>
<line x1="607.40" y1="490.70" x2="609.60" y2="490.70" stroke="#888" stroke-width="0.8"/>
<text x="605.8" y="494.3" font-size="10.6" text-anchor="end" fill="#000">0.1</text>
<line x1="607.40" y1="519.30" x2="609.60" y2="519.30" stroke="#888" stroke-width="0.8"/>
<text x="605.8" y="522.9" font-size="10.6" text-anchor="end" fill="#000">0.05</text>
<line x1="607.40" y1="554.00" x2="609.60" y2="554.00" stroke="#888" stroke-width="0.8"/>
<text x="602.8" y="557.6" font-size="10.6" text-anchor="end" fill="#000">0</text>
<line x1="607.40" y1="554.00" x2="714.50" y2="554.00" stroke="#888" stroke-width="0.9"/>
<line x1="607.40" y1="554.00" x2="607.40" y2="555.80" stroke="#888" stroke-width="0.8"/>
<text x="608.7" y="563.4" font-size="10.6" text-anchor="middle" fill="#000">-0.1</text>
<line x1="634.05" y1="554.00" x2="634.05" y2="555.80" stroke="#888" stroke-width="0.8"/>
<text x="637.0" y="563.4" font-size="10.6" text-anchor="middle" fill="#000">-0.05</text>
<line x1="660.70" y1="554.00" x2="660.70" y2="555.80" stroke="#888" stroke-width="0.8"/>
<text x="661.1" y="563.4" font-size="10.6" text-anchor="middle" fill="#000">0</text>
<line x1="687.35" y1="554.00" x2="687.35" y2="555.80" stroke="#888" stroke-width="0.8"/>
<text x="691.1" y="563.4" font-size="10.6" text-anchor="middle" fill="#000">0.05</text>
<line x1="714.00" y1="554.00" x2="714.00" y2="555.80" stroke="#888" stroke-width="0.8"/>
<text x="715.6" y="563.4" font-size="10.6" text-anchor="middle" fill="#000">0.1</text>
<text x="666.0" y="576.5" font-size="10.9" text-anchor="middle" fill="#000">Time lag (s)</text>
<text x="582.8" y="501.1" font-size="11.0" text-anchor="middle" fill="#000" transform="rotate(-90 582.8 501.1)">Normalised cross correlation</text>
<rect x="617.91" y="759.10" width="4.38" height="9.60" fill="#000090"/>
<rect x="623.24" y="754.40" width="4.38" height="14.30" fill="#000090"/>
<rect x="628.57" y="759.10" width="4.38" height="9.60" fill="#000090"/>
<rect x="633.90" y="764.20" width="4.38" height="4.50" fill="#000090"/>
<rect x="639.23" y="764.20" width="4.38" height="4.50" fill="#000090"/>
<rect x="644.56" y="759.10" width="4.38" height="9.60" fill="#000090"/>
<rect x="649.89" y="754.40" width="4.38" height="14.30" fill="#000090"/>
<rect x="655.22" y="730.90" width="4.38" height="37.80" fill="#000090"/>
<rect x="660.55" y="749.90" width="4.38" height="18.80" fill="#000090"/>
<rect x="665.88" y="749.90" width="4.38" height="18.80" fill="#000090"/>
<rect x="671.21" y="749.90" width="4.38" height="18.80" fill="#000090"/>
<rect x="676.54" y="754.40" width="4.38" height="14.30" fill="#000090"/>
<rect x="681.87" y="745.20" width="4.38" height="23.50" fill="#000090"/>
<rect x="687.20" y="754.40" width="4.38" height="14.30" fill="#000090"/>
<rect x="692.53" y="745.20" width="4.38" height="23.50" fill="#000090"/>
<rect x="697.86" y="759.10" width="4.38" height="9.60" fill="#000090"/>
<rect x="703.19" y="759.10" width="4.38" height="9.60" fill="#000090"/>
<line x1="606.40" y1="673.90" x2="606.40" y2="768.70" stroke="#888" stroke-width="0.8"/>
<line x1="606.40" y1="673.90" x2="608.60" y2="673.90" stroke="#888" stroke-width="0.8"/>
<text x="604.8" y="677.5" font-size="10.6" text-anchor="end" fill="#000">0.15</text>
<line x1="606.40" y1="707.40" x2="608.60" y2="707.40" stroke="#888" stroke-width="0.8"/>
<text x="604.8" y="711.0" font-size="10.6" text-anchor="end" fill="#000">0.1</text>
<line x1="606.40" y1="738.70" x2="608.60" y2="738.70" stroke="#888" stroke-width="0.8"/>
<text x="604.8" y="742.3" font-size="10.6" text-anchor="end" fill="#000">0.05</text>
<line x1="606.40" y1="768.70" x2="608.60" y2="768.70" stroke="#888" stroke-width="0.8"/>
<text x="601.8" y="772.3" font-size="10.6" text-anchor="end" fill="#000">0</text>
<line x1="606.40" y1="768.70" x2="713.50" y2="768.70" stroke="#888" stroke-width="0.9"/>
<line x1="606.40" y1="768.70" x2="606.40" y2="770.50" stroke="#888" stroke-width="0.8"/>
<text x="607.7" y="778.1" font-size="10.6" text-anchor="middle" fill="#000">-0.1</text>
<line x1="633.05" y1="768.70" x2="633.05" y2="770.50" stroke="#888" stroke-width="0.8"/>
<text x="636.0" y="778.1" font-size="10.6" text-anchor="middle" fill="#000">-0.05</text>
<line x1="659.70" y1="768.70" x2="659.70" y2="770.50" stroke="#888" stroke-width="0.8"/>
<text x="660.1" y="778.1" font-size="10.6" text-anchor="middle" fill="#000">0</text>
<line x1="686.35" y1="768.70" x2="686.35" y2="770.50" stroke="#888" stroke-width="0.8"/>
<text x="690.1" y="778.1" font-size="10.6" text-anchor="middle" fill="#000">0.05</text>
<line x1="713.00" y1="768.70" x2="713.00" y2="770.50" stroke="#888" stroke-width="0.8"/>
<text x="714.6" y="778.1" font-size="10.6" text-anchor="middle" fill="#000">0.1</text>
<text x="668.0" y="790.8" font-size="10.9" text-anchor="middle" fill="#000">Time lag (s)</text>
<text x="582.7" y="721.5" font-size="11.0" text-anchor="middle" fill="#000" transform="rotate(-90 582.7 721.5)">Normalised cross correlation</text>
<rect x="607.55" y="984.20" width="4.44" height="4.10" fill="#ffc800"/>
<rect x="618.32" y="979.70" width="4.44" height="8.60" fill="#ffc800"/>
<rect x="656.01" y="979.70" width="4.44" height="8.60" fill="#ffc800"/>
<rect x="661.40" y="970.50" width="4.44" height="17.80" fill="#ffc800"/>
<rect x="666.78" y="979.70" width="4.44" height="8.60" fill="#ffc800"/>
<rect x="677.55" y="984.20" width="4.44" height="4.10" fill="#ffc800"/>
<rect x="682.94" y="975.00" width="4.44" height="13.30" fill="#ffc800"/>
<rect x="688.32" y="984.20" width="4.44" height="4.10" fill="#ffc800"/>
<rect x="693.71" y="979.70" width="4.44" height="8.60" fill="#ffc800"/>
<rect x="704.48" y="984.20" width="4.44" height="4.10" fill="#ffc800"/>
<line x1="607.40" y1="895.30" x2="607.40" y2="988.30" stroke="#888" stroke-width="0.8"/>
<line x1="607.40" y1="895.30" x2="609.60" y2="895.30" stroke="#888" stroke-width="0.8"/>
<text x="605.8" y="898.9" font-size="10.6" text-anchor="end" fill="#000">0.15</text>
<line x1="607.40" y1="929.40" x2="609.60" y2="929.40" stroke="#888" stroke-width="0.8"/>
<text x="605.8" y="933.0" font-size="10.6" text-anchor="end" fill="#000">0.1</text>
<line x1="607.40" y1="960.10" x2="609.60" y2="960.10" stroke="#888" stroke-width="0.8"/>
<text x="605.8" y="963.7" font-size="10.6" text-anchor="end" fill="#000">0.05</text>
<line x1="607.40" y1="988.30" x2="609.60" y2="988.30" stroke="#888" stroke-width="0.8"/>
<text x="602.8" y="991.9" font-size="10.6" text-anchor="end" fill="#000">0</text>
<line x1="607.40" y1="988.30" x2="715.60" y2="988.30" stroke="#888" stroke-width="0.9"/>
<line x1="607.40" y1="988.30" x2="607.40" y2="990.10" stroke="#888" stroke-width="0.8"/>
<text x="608.7" y="997.7" font-size="10.6" text-anchor="middle" fill="#000">-0.1</text>
<line x1="634.33" y1="988.30" x2="634.33" y2="990.10" stroke="#888" stroke-width="0.8"/>
<text x="637.3" y="997.7" font-size="10.6" text-anchor="middle" fill="#000">-0.05</text>
<line x1="661.25" y1="988.30" x2="661.25" y2="990.10" stroke="#888" stroke-width="0.8"/>
<text x="661.7" y="997.7" font-size="10.6" text-anchor="middle" fill="#000">0</text>
<line x1="688.17" y1="988.30" x2="688.17" y2="990.10" stroke="#888" stroke-width="0.8"/>
<text x="691.9" y="997.7" font-size="10.6" text-anchor="middle" fill="#000">0.05</text>
<line x1="715.10" y1="988.30" x2="715.10" y2="990.10" stroke="#888" stroke-width="0.8"/>
<text x="716.7" y="997.7" font-size="10.6" text-anchor="middle" fill="#000">0.1</text>
<text x="668.1" y="1011.8" font-size="10.9" text-anchor="middle" fill="#000">Time lag (s)</text>
<text x="582.7" y="943.5" font-size="11.0" text-anchor="middle" fill="#000" transform="rotate(-90 582.7 943.5)">Normalised cross correlation</text>
</svg>
</body></html>
